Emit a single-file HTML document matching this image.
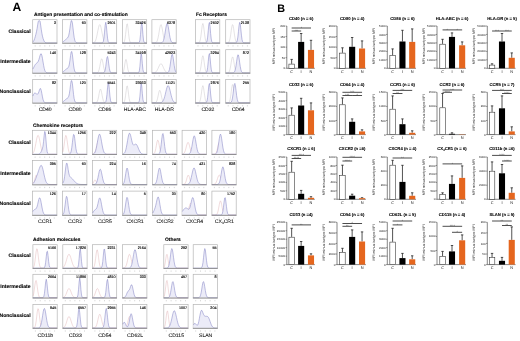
<!DOCTYPE html>
<html><head><meta charset="utf-8"><style>
html,body{margin:0;padding:0;background:#fff;}
svg{display:block;will-change:transform;filter:blur(0.35px);}
text{font-family:"Liberation Sans", sans-serif;text-rendering:geometricPrecision;}
</style></head><body>
<svg width="520" height="341" viewBox="0 0 520 341">
<rect width="520" height="341" fill="#fff"/>
<text x="12.6" y="11.25" font-size="12.1" font-weight="bold" fill="#000">A</text>
<text x="34.00" y="16.00" font-size="4.9" font-weight="bold" fill="#000" stroke="#000" stroke-width="0.1">Antigen presentation and co-stimulation</text>
<text x="196.00" y="16.00" font-size="4.9" font-weight="bold" fill="#000" stroke="#000" stroke-width="0.1">Fc Receptors</text>
<text x="30.6" y="32.80" font-size="5.1" font-weight="bold" text-anchor="end" fill="#000" stroke="#000" stroke-width="0.12">Classical</text>
<text x="30.6" y="63.25" font-size="5.1" font-weight="bold" text-anchor="end" fill="#000" stroke="#000" stroke-width="0.12">Intermediate</text>
<text x="30.6" y="93.00" font-size="5.1" font-weight="bold" text-anchor="end" fill="#000" stroke="#000" stroke-width="0.12">Nonclassical</text>
<text x="45.15" y="111.40" font-size="5.1" text-anchor="middle" fill="#111" stroke="#111" stroke-width="0.08">CD40</text>
<text x="75.05" y="111.40" font-size="5.1" text-anchor="middle" fill="#111" stroke="#111" stroke-width="0.08">CD80</text>
<text x="104.85" y="111.40" font-size="5.1" text-anchor="middle" fill="#111" stroke="#111" stroke-width="0.08">CD86</text>
<text x="134.85" y="111.40" font-size="5.1" text-anchor="middle" fill="#111" stroke="#111" stroke-width="0.08">HLA-ABC</text>
<text x="164.35" y="111.40" font-size="5.1" text-anchor="middle" fill="#111" stroke="#111" stroke-width="0.08">HLA-DR</text>
<text x="207.95" y="111.40" font-size="5.1" text-anchor="middle" fill="#111" stroke="#111" stroke-width="0.08">CD32</text>
<text x="238.15" y="111.40" font-size="5.1" text-anchor="middle" fill="#111" stroke="#111" stroke-width="0.08">CD64</text>
<rect x="32.70" y="19.70" width="24.30" height="23.50" fill="#fff" stroke="#b4b4b4" stroke-width="0.7"/>
<path d="M32.90,42.07 L33.50,41.30 L34.10,40.12 L34.69,38.52 L35.29,36.57 L35.89,34.31 L36.49,31.69 L37.08,28.53 L37.68,24.87 L38.28,21.28 L38.88,20.69 L39.47,20.69 L40.07,21.11 L40.67,25.08 L41.27,29.41 L41.86,33.18 L42.46,36.13 L43.06,38.40 L43.66,40.12 L44.25,41.36 L44.85,42.15 L45.45,42.58 L46.05,42.79 L46.64,42.86 L47.24,42.89 L47.84,42.90 L48.44,42.90 L49.03,42.90 L49.63,42.90 L50.23,42.90 L50.83,42.90 L51.42,42.90 L52.02,42.90 L52.62,42.90 L53.22,42.90 L53.81,42.90 L54.41,42.90 L55.01,42.90 L55.61,42.90 L56.20,42.90 L56.80,42.90 L56.80,42.90 L32.90,42.90 Z" fill="#ececf8" stroke="none"/>
<path d="M32.90,42.07 L33.50,41.30 L34.10,40.12 L34.69,38.52 L35.29,36.57 L35.89,34.31 L36.49,31.69 L37.08,28.53 L37.68,24.87 L38.28,21.28 L38.88,20.69 L39.47,20.69 L40.07,21.11 L40.67,25.08 L41.27,29.41 L41.86,33.18 L42.46,36.13 L43.06,38.40 L43.66,40.12 L44.25,41.36 L44.85,42.15 L45.45,42.58 L46.05,42.79 L46.64,42.86 L47.24,42.89 L47.84,42.90 L48.44,42.90 L49.03,42.90 L49.63,42.90 L50.23,42.90 L50.83,42.90 L51.42,42.90 L52.02,42.90 L52.62,42.90 L53.22,42.90 L53.81,42.90 L54.41,42.90 L55.01,42.90 L55.61,42.90 L56.20,42.90 L56.80,42.90" fill="none" stroke="#7c7cc0" stroke-width="0.5"/>
<line x1="32.40" y1="43.20" x2="57.30" y2="43.20" stroke="#888" stroke-width="0.8"/>
<line x1="35.20" y1="45.30" x2="35.20" y2="46.50" stroke="#bbb" stroke-width="0.6"/>
<line x1="40.00" y1="45.30" x2="40.00" y2="46.50" stroke="#bbb" stroke-width="0.6"/>
<line x1="44.80" y1="45.30" x2="44.80" y2="46.50" stroke="#bbb" stroke-width="0.6"/>
<line x1="49.60" y1="45.30" x2="49.60" y2="46.50" stroke="#bbb" stroke-width="0.6"/>
<line x1="54.40" y1="45.30" x2="54.40" y2="46.50" stroke="#bbb" stroke-width="0.6"/>
<text x="56.00" y="23.60" font-size="3.7" text-anchor="end" fill="#000" stroke="#000" stroke-width="0.12">3</text>
<rect x="62.60" y="19.70" width="24.30" height="23.50" fill="#fff" stroke="#b4b4b4" stroke-width="0.7"/>
<path d="M62.80,41.93 L63.40,41.54 L64.00,41.08 L64.59,40.56 L65.19,40.01 L65.79,39.46 L66.39,38.94 L66.98,38.45 L67.58,37.87 L68.18,36.93 L68.78,35.19 L69.37,32.25 L69.97,28.16 L70.57,23.78 L71.17,20.69 L71.76,20.69 L72.36,22.91 L72.96,27.71 L73.56,32.97 L74.15,37.30 L74.75,40.16 L75.35,41.71 L75.95,42.43 L76.54,42.72 L77.14,42.83 L77.74,42.87 L78.34,42.89 L78.93,42.89 L79.53,42.90 L80.13,42.90 L80.73,42.90 L81.32,42.90 L81.92,42.90 L82.52,42.90 L83.12,42.90 L83.71,42.90 L84.31,42.90 L84.91,42.90 L85.51,42.90 L86.10,42.90 L86.70,42.90 L86.70,42.90 L62.80,42.90 Z" fill="#ececf8" stroke="none"/>
<path d="M62.80,41.93 L63.40,41.54 L64.00,41.08 L64.59,40.56 L65.19,40.01 L65.79,39.46 L66.39,38.94 L66.98,38.45 L67.58,37.87 L68.18,36.93 L68.78,35.19 L69.37,32.25 L69.97,28.16 L70.57,23.78 L71.17,20.69 L71.76,20.69 L72.36,22.91 L72.96,27.71 L73.56,32.97 L74.15,37.30 L74.75,40.16 L75.35,41.71 L75.95,42.43 L76.54,42.72 L77.14,42.83 L77.74,42.87 L78.34,42.89 L78.93,42.89 L79.53,42.90 L80.13,42.90 L80.73,42.90 L81.32,42.90 L81.92,42.90 L82.52,42.90 L83.12,42.90 L83.71,42.90 L84.31,42.90 L84.91,42.90 L85.51,42.90 L86.10,42.90 L86.70,42.90" fill="none" stroke="#7c7cc0" stroke-width="0.5"/>
<line x1="62.30" y1="43.20" x2="87.20" y2="43.20" stroke="#888" stroke-width="0.8"/>
<line x1="65.10" y1="45.30" x2="65.10" y2="46.50" stroke="#bbb" stroke-width="0.6"/>
<line x1="69.90" y1="45.30" x2="69.90" y2="46.50" stroke="#bbb" stroke-width="0.6"/>
<line x1="74.70" y1="45.30" x2="74.70" y2="46.50" stroke="#bbb" stroke-width="0.6"/>
<line x1="79.50" y1="45.30" x2="79.50" y2="46.50" stroke="#bbb" stroke-width="0.6"/>
<line x1="84.30" y1="45.30" x2="84.30" y2="46.50" stroke="#bbb" stroke-width="0.6"/>
<text x="85.90" y="23.60" font-size="3.7" text-anchor="end" fill="#000" stroke="#000" stroke-width="0.12">60</text>
<rect x="92.40" y="19.70" width="24.30" height="23.50" fill="#fff" stroke="#b4b4b4" stroke-width="0.7"/>
<path d="M92.60,42.85 L93.20,42.77 L93.80,42.59 L94.39,42.23 L94.99,41.56 L95.59,40.42 L96.19,38.69 L96.78,36.30 L97.38,33.37 L97.98,30.21 L98.58,27.34 L99.17,25.31 L99.77,24.58 L100.37,25.31 L100.97,27.34 L101.56,30.21 L102.16,33.37 L102.76,36.30 L103.36,38.69 L103.95,40.42 L104.55,41.56 L105.15,42.23 L105.75,42.59 L106.34,42.77 L106.94,42.85 L107.54,42.88 L108.14,42.89 L108.73,42.90 L109.33,42.90 L109.93,42.90 L110.53,42.90 L111.12,42.90 L111.72,42.90 L112.32,42.90 L112.92,42.90 L113.51,42.90 L114.11,42.90 L114.71,42.90 L115.31,42.90 L115.90,42.90 L116.50,42.90" fill="none" stroke="#c4c0c4" stroke-width="0.45"/>
<path d="M92.60,42.90 L93.20,42.90 L93.80,42.90 L94.39,42.90 L94.99,42.90 L95.59,42.90 L96.19,42.90 L96.78,42.90 L97.38,42.90 L97.98,42.90 L98.58,42.90 L99.17,42.90 L99.77,42.90 L100.37,42.90 L100.97,42.90 L101.56,42.89 L102.16,42.84 L102.76,42.55 L103.36,41.39 L103.95,38.16 L104.55,32.17 L105.15,25.39 L105.75,22.29 L106.34,25.39 L106.94,32.17 L107.54,38.16 L108.14,41.39 L108.73,42.55 L109.33,42.84 L109.93,42.89 L110.53,42.90 L111.12,42.90 L111.72,42.90 L112.32,42.90 L112.92,42.90 L113.51,42.90 L114.11,42.90 L114.71,42.90 L115.31,42.90 L115.90,42.90 L116.50,42.90 L116.50,42.90 L92.60,42.90 Z" fill="#ececf8" stroke="none"/>
<path d="M92.60,42.90 L93.20,42.90 L93.80,42.90 L94.39,42.90 L94.99,42.90 L95.59,42.90 L96.19,42.90 L96.78,42.90 L97.38,42.90 L97.98,42.90 L98.58,42.90 L99.17,42.90 L99.77,42.90 L100.37,42.90 L100.97,42.90 L101.56,42.89 L102.16,42.84 L102.76,42.55 L103.36,41.39 L103.95,38.16 L104.55,32.17 L105.15,25.39 L105.75,22.29 L106.34,25.39 L106.94,32.17 L107.54,38.16 L108.14,41.39 L108.73,42.55 L109.33,42.84 L109.93,42.89 L110.53,42.90 L111.12,42.90 L111.72,42.90 L112.32,42.90 L112.92,42.90 L113.51,42.90 L114.11,42.90 L114.71,42.90 L115.31,42.90 L115.90,42.90 L116.50,42.90" fill="none" stroke="#7c7cc0" stroke-width="0.5"/>
<line x1="92.10" y1="43.20" x2="117.00" y2="43.20" stroke="#888" stroke-width="0.8"/>
<line x1="94.90" y1="45.30" x2="94.90" y2="46.50" stroke="#bbb" stroke-width="0.6"/>
<line x1="99.70" y1="45.30" x2="99.70" y2="46.50" stroke="#bbb" stroke-width="0.6"/>
<line x1="104.50" y1="45.30" x2="104.50" y2="46.50" stroke="#bbb" stroke-width="0.6"/>
<line x1="109.30" y1="45.30" x2="109.30" y2="46.50" stroke="#bbb" stroke-width="0.6"/>
<line x1="114.10" y1="45.30" x2="114.10" y2="46.50" stroke="#bbb" stroke-width="0.6"/>
<text x="115.70" y="23.60" font-size="3.7" text-anchor="end" fill="#000" stroke="#000" stroke-width="0.12">2601</text>
<rect x="122.40" y="19.70" width="24.30" height="23.50" fill="#fff" stroke="#b4b4b4" stroke-width="0.7"/>
<path d="M122.60,42.89 L123.20,42.82 L123.80,42.51 L124.39,41.52 L124.99,39.05 L125.59,34.54 L126.19,28.77 L126.78,24.29 L127.38,23.82 L127.98,27.66 L128.58,33.43 L129.17,38.31 L129.77,41.17 L130.37,42.39 L130.97,42.78 L131.56,42.88 L132.16,42.90 L132.76,42.90 L133.36,42.90 L133.95,42.90 L134.55,42.90 L135.15,42.90 L135.75,42.90 L136.34,42.90 L136.94,42.90 L137.54,42.90 L138.14,42.90 L138.73,42.90 L139.33,42.90 L139.93,42.90 L140.53,42.90 L141.12,42.90 L141.72,42.90 L142.32,42.90 L142.92,42.90 L143.51,42.90 L144.11,42.90 L144.71,42.90 L145.31,42.90 L145.90,42.90 L146.50,42.90" fill="none" stroke="#c4c0c4" stroke-width="0.45"/>
<path d="M122.60,42.90 L123.20,42.90 L123.80,42.90 L124.39,42.90 L124.99,42.90 L125.59,42.90 L126.19,42.90 L126.78,42.90 L127.38,42.90 L127.98,42.90 L128.58,42.90 L129.17,42.90 L129.77,42.90 L130.37,42.90 L130.97,42.90 L131.56,42.90 L132.16,42.90 L132.76,42.90 L133.36,42.90 L133.95,42.90 L134.55,42.90 L135.15,42.90 L135.75,42.90 L136.34,42.90 L136.94,42.90 L137.54,42.90 L138.14,42.89 L138.73,42.82 L139.33,42.31 L139.93,40.11 L140.53,34.43 L141.12,26.40 L141.72,22.29 L142.32,26.40 L142.92,34.43 L143.51,40.11 L144.11,42.31 L144.71,42.82 L145.31,42.89 L145.90,42.90 L146.50,42.90 L146.50,42.90 L122.60,42.90 Z" fill="#ececf8" stroke="none"/>
<path d="M122.60,42.90 L123.20,42.90 L123.80,42.90 L124.39,42.90 L124.99,42.90 L125.59,42.90 L126.19,42.90 L126.78,42.90 L127.38,42.90 L127.98,42.90 L128.58,42.90 L129.17,42.90 L129.77,42.90 L130.37,42.90 L130.97,42.90 L131.56,42.90 L132.16,42.90 L132.76,42.90 L133.36,42.90 L133.95,42.90 L134.55,42.90 L135.15,42.90 L135.75,42.90 L136.34,42.90 L136.94,42.90 L137.54,42.90 L138.14,42.89 L138.73,42.82 L139.33,42.31 L139.93,40.11 L140.53,34.43 L141.12,26.40 L141.72,22.29 L142.32,26.40 L142.92,34.43 L143.51,40.11 L144.11,42.31 L144.71,42.82 L145.31,42.89 L145.90,42.90 L146.50,42.90" fill="none" stroke="#7c7cc0" stroke-width="0.5"/>
<line x1="122.10" y1="43.20" x2="147.00" y2="43.20" stroke="#888" stroke-width="0.8"/>
<line x1="124.90" y1="45.30" x2="124.90" y2="46.50" stroke="#bbb" stroke-width="0.6"/>
<line x1="129.70" y1="45.30" x2="129.70" y2="46.50" stroke="#bbb" stroke-width="0.6"/>
<line x1="134.50" y1="45.30" x2="134.50" y2="46.50" stroke="#bbb" stroke-width="0.6"/>
<line x1="139.30" y1="45.30" x2="139.30" y2="46.50" stroke="#bbb" stroke-width="0.6"/>
<line x1="144.10" y1="45.30" x2="144.10" y2="46.50" stroke="#bbb" stroke-width="0.6"/>
<text x="145.70" y="23.60" font-size="3.7" text-anchor="end" fill="#000" stroke="#000" stroke-width="0.12">32426</text>
<rect x="151.90" y="19.70" width="24.30" height="23.50" fill="#fff" stroke="#b4b4b4" stroke-width="0.7"/>
<path d="M152.10,42.90 L152.70,42.90 L153.29,42.90 L153.89,42.89 L154.49,42.87 L155.09,42.81 L155.69,42.65 L156.28,42.28 L156.88,41.50 L157.48,40.07 L158.07,37.81 L158.67,34.69 L159.27,31.05 L159.87,27.60 L160.47,25.22 L161.06,24.62 L161.66,25.99 L162.26,28.90 L162.85,32.53 L163.45,36.02 L164.05,38.82 L164.65,40.73 L165.25,41.87 L165.84,42.46 L166.44,42.73 L167.04,42.84 L167.63,42.88 L168.23,42.90 L168.83,42.90 L169.43,42.90 L170.03,42.90 L170.62,42.90 L171.22,42.90 L171.82,42.90 L172.41,42.90 L173.01,42.90 L173.61,42.90 L174.21,42.90 L174.81,42.90 L175.40,42.90 L176.00,42.90" fill="none" stroke="#c4c0c4" stroke-width="0.45"/>
<path d="M152.10,42.90 L152.70,42.90 L153.29,42.90 L153.89,42.90 L154.49,42.90 L155.09,42.90 L155.69,42.90 L156.28,42.90 L156.88,42.90 L157.48,42.90 L158.07,42.90 L158.67,42.90 L159.27,42.90 L159.87,42.90 L160.47,42.88 L161.06,42.84 L161.66,42.72 L162.26,42.44 L162.85,41.81 L163.45,40.60 L164.05,38.57 L164.65,35.59 L165.25,31.88 L165.84,28.02 L166.44,24.93 L167.04,23.48 L167.63,24.11 L168.23,26.64 L168.83,30.31 L169.43,34.17 L170.03,37.49 L170.62,39.90 L171.22,41.41 L171.82,42.24 L172.41,42.64 L173.01,42.81 L173.61,42.87 L174.21,42.89 L174.81,42.90 L175.40,42.90 L176.00,42.90 L176.00,42.90 L152.10,42.90 Z" fill="#ececf8" stroke="none"/>
<path d="M152.10,42.90 L152.70,42.90 L153.29,42.90 L153.89,42.90 L154.49,42.90 L155.09,42.90 L155.69,42.90 L156.28,42.90 L156.88,42.90 L157.48,42.90 L158.07,42.90 L158.67,42.90 L159.27,42.90 L159.87,42.90 L160.47,42.88 L161.06,42.84 L161.66,42.72 L162.26,42.44 L162.85,41.81 L163.45,40.60 L164.05,38.57 L164.65,35.59 L165.25,31.88 L165.84,28.02 L166.44,24.93 L167.04,23.48 L167.63,24.11 L168.23,26.64 L168.83,30.31 L169.43,34.17 L170.03,37.49 L170.62,39.90 L171.22,41.41 L171.82,42.24 L172.41,42.64 L173.01,42.81 L173.61,42.87 L174.21,42.89 L174.81,42.90 L175.40,42.90 L176.00,42.90" fill="none" stroke="#7c7cc0" stroke-width="0.5"/>
<line x1="151.60" y1="43.20" x2="176.50" y2="43.20" stroke="#888" stroke-width="0.8"/>
<line x1="154.40" y1="45.30" x2="154.40" y2="46.50" stroke="#bbb" stroke-width="0.6"/>
<line x1="159.20" y1="45.30" x2="159.20" y2="46.50" stroke="#bbb" stroke-width="0.6"/>
<line x1="164.00" y1="45.30" x2="164.00" y2="46.50" stroke="#bbb" stroke-width="0.6"/>
<line x1="168.80" y1="45.30" x2="168.80" y2="46.50" stroke="#bbb" stroke-width="0.6"/>
<line x1="173.60" y1="45.30" x2="173.60" y2="46.50" stroke="#bbb" stroke-width="0.6"/>
<text x="175.20" y="23.60" font-size="3.7" text-anchor="end" fill="#000" stroke="#000" stroke-width="0.12">6378</text>
<rect x="195.50" y="19.70" width="24.30" height="23.50" fill="#fff" stroke="#b4b4b4" stroke-width="0.7"/>
<path d="M195.70,42.90 L196.30,42.90 L196.89,42.90 L197.49,42.89 L198.09,42.86 L198.69,42.75 L199.28,42.34 L199.88,41.25 L200.48,38.89 L201.08,34.90 L201.67,29.79 L202.27,25.27 L202.87,23.44 L203.47,25.27 L204.06,29.79 L204.66,34.90 L205.26,38.89 L205.86,41.25 L206.45,42.34 L207.05,42.75 L207.65,42.86 L208.25,42.89 L208.84,42.90 L209.44,42.90 L210.04,42.90 L210.64,42.90 L211.23,42.90 L211.83,42.90 L212.43,42.90 L213.03,42.90 L213.62,42.90 L214.22,42.90 L214.82,42.90 L215.42,42.90 L216.01,42.90 L216.61,42.90 L217.21,42.90 L217.81,42.90 L218.41,42.90 L219.00,42.90 L219.60,42.90" fill="none" stroke="#c4c0c4" stroke-width="0.45"/>
<path d="M195.70,42.90 L196.30,42.90 L196.89,42.90 L197.49,42.90 L198.09,42.90 L198.69,42.90 L199.28,42.90 L199.88,42.90 L200.48,42.90 L201.08,42.90 L201.67,42.90 L202.27,42.90 L202.87,42.90 L203.47,42.90 L204.06,42.90 L204.66,42.90 L205.26,42.89 L205.86,42.82 L206.45,42.42 L207.05,40.95 L207.65,37.17 L208.25,30.76 L208.84,24.33 L209.44,22.42 L210.04,26.61 L210.64,33.55 L211.23,39.03 L211.83,41.74 L212.43,42.65 L213.03,42.86 L213.62,42.90 L214.22,42.90 L214.82,42.90 L215.42,42.90 L216.01,42.90 L216.61,42.90 L217.21,42.90 L217.81,42.90 L218.41,42.90 L219.00,42.90 L219.60,42.90 L219.60,42.90 L195.70,42.90 Z" fill="#ececf8" stroke="none"/>
<path d="M195.70,42.90 L196.30,42.90 L196.89,42.90 L197.49,42.90 L198.09,42.90 L198.69,42.90 L199.28,42.90 L199.88,42.90 L200.48,42.90 L201.08,42.90 L201.67,42.90 L202.27,42.90 L202.87,42.90 L203.47,42.90 L204.06,42.90 L204.66,42.90 L205.26,42.89 L205.86,42.82 L206.45,42.42 L207.05,40.95 L207.65,37.17 L208.25,30.76 L208.84,24.33 L209.44,22.42 L210.04,26.61 L210.64,33.55 L211.23,39.03 L211.83,41.74 L212.43,42.65 L213.03,42.86 L213.62,42.90 L214.22,42.90 L214.82,42.90 L215.42,42.90 L216.01,42.90 L216.61,42.90 L217.21,42.90 L217.81,42.90 L218.41,42.90 L219.00,42.90 L219.60,42.90" fill="none" stroke="#7c7cc0" stroke-width="0.5"/>
<line x1="195.20" y1="43.20" x2="220.10" y2="43.20" stroke="#888" stroke-width="0.8"/>
<line x1="198.00" y1="45.30" x2="198.00" y2="46.50" stroke="#bbb" stroke-width="0.6"/>
<line x1="202.80" y1="45.30" x2="202.80" y2="46.50" stroke="#bbb" stroke-width="0.6"/>
<line x1="207.60" y1="45.30" x2="207.60" y2="46.50" stroke="#bbb" stroke-width="0.6"/>
<line x1="212.40" y1="45.30" x2="212.40" y2="46.50" stroke="#bbb" stroke-width="0.6"/>
<line x1="217.20" y1="45.30" x2="217.20" y2="46.50" stroke="#bbb" stroke-width="0.6"/>
<text x="218.80" y="23.60" font-size="3.7" text-anchor="end" fill="#000" stroke="#000" stroke-width="0.12">2602</text>
<rect x="225.70" y="19.70" width="24.30" height="23.50" fill="#fff" stroke="#b4b4b4" stroke-width="0.7"/>
<path d="M225.90,42.90 L226.50,42.90 L227.09,42.88 L227.69,42.82 L228.29,42.61 L228.89,42.05 L229.48,40.79 L230.08,38.43 L230.68,34.82 L231.28,30.46 L231.87,26.57 L232.47,24.64 L233.07,25.49 L233.67,28.76 L234.26,33.12 L234.86,37.13 L235.46,40.00 L236.06,41.66 L236.65,42.45 L237.25,42.76 L237.85,42.86 L238.45,42.89 L239.04,42.90 L239.64,42.90 L240.24,42.90 L240.84,42.90 L241.43,42.90 L242.03,42.90 L242.63,42.90 L243.23,42.90 L243.82,42.90 L244.42,42.90 L245.02,42.90 L245.62,42.90 L246.21,42.90 L246.81,42.90 L247.41,42.90 L248.01,42.90 L248.60,42.90 L249.20,42.90 L249.80,42.90" fill="none" stroke="#c4c0c4" stroke-width="0.45"/>
<path d="M225.90,42.90 L226.50,42.90 L227.09,42.90 L227.69,42.90 L228.29,42.90 L228.89,42.90 L229.48,42.90 L230.08,42.90 L230.68,42.90 L231.28,42.90 L231.87,42.90 L232.47,42.90 L233.07,42.90 L233.67,42.90 L234.26,42.90 L234.86,42.90 L235.46,42.87 L236.06,42.73 L236.65,42.20 L237.25,40.63 L237.85,37.17 L238.45,31.65 L239.04,25.69 L239.64,22.39 L240.24,23.87 L240.84,29.15 L241.43,35.16 L242.03,39.51 L242.63,41.74 L243.23,42.59 L243.82,42.84 L244.42,42.89 L245.02,42.90 L245.62,42.90 L246.21,42.90 L246.81,42.90 L247.41,42.90 L248.01,42.90 L248.60,42.90 L249.20,42.90 L249.80,42.90 L249.80,42.90 L225.90,42.90 Z" fill="#ececf8" stroke="none"/>
<path d="M225.90,42.90 L226.50,42.90 L227.09,42.90 L227.69,42.90 L228.29,42.90 L228.89,42.90 L229.48,42.90 L230.08,42.90 L230.68,42.90 L231.28,42.90 L231.87,42.90 L232.47,42.90 L233.07,42.90 L233.67,42.90 L234.26,42.90 L234.86,42.90 L235.46,42.87 L236.06,42.73 L236.65,42.20 L237.25,40.63 L237.85,37.17 L238.45,31.65 L239.04,25.69 L239.64,22.39 L240.24,23.87 L240.84,29.15 L241.43,35.16 L242.03,39.51 L242.63,41.74 L243.23,42.59 L243.82,42.84 L244.42,42.89 L245.02,42.90 L245.62,42.90 L246.21,42.90 L246.81,42.90 L247.41,42.90 L248.01,42.90 L248.60,42.90 L249.20,42.90 L249.80,42.90" fill="none" stroke="#7c7cc0" stroke-width="0.5"/>
<line x1="225.40" y1="43.20" x2="250.30" y2="43.20" stroke="#888" stroke-width="0.8"/>
<line x1="228.20" y1="45.30" x2="228.20" y2="46.50" stroke="#bbb" stroke-width="0.6"/>
<line x1="233.00" y1="45.30" x2="233.00" y2="46.50" stroke="#bbb" stroke-width="0.6"/>
<line x1="237.80" y1="45.30" x2="237.80" y2="46.50" stroke="#bbb" stroke-width="0.6"/>
<line x1="242.60" y1="45.30" x2="242.60" y2="46.50" stroke="#bbb" stroke-width="0.6"/>
<line x1="247.40" y1="45.30" x2="247.40" y2="46.50" stroke="#bbb" stroke-width="0.6"/>
<text x="249.00" y="23.60" font-size="3.7" text-anchor="end" fill="#000" stroke="#000" stroke-width="0.12">2138</text>
<rect x="32.70" y="49.70" width="24.30" height="23.50" fill="#fff" stroke="#b4b4b4" stroke-width="0.7"/>
<path d="M32.90,69.13 L33.50,67.96 L34.10,66.72 L34.69,65.54 L35.29,64.54 L35.89,63.77 L36.49,63.25 L37.08,62.83 L37.68,62.28 L38.28,61.28 L38.88,59.67 L39.47,57.54 L40.07,55.38 L40.67,53.92 L41.27,53.84 L41.86,55.41 L42.46,58.37 L43.06,62.02 L43.66,65.58 L44.25,68.48 L44.85,70.50 L45.45,71.74 L46.05,72.39 L46.64,72.70 L47.24,72.83 L47.84,72.88 L48.44,72.89 L49.03,72.90 L49.63,72.90 L50.23,72.90 L50.83,72.90 L51.42,72.90 L52.02,72.90 L52.62,72.90 L53.22,72.90 L53.81,72.90 L54.41,72.90 L55.01,72.90 L55.61,72.90 L56.20,72.90 L56.80,72.90 L56.80,72.90 L32.90,72.90 Z" fill="#ececf8" stroke="none"/>
<path d="M32.90,69.13 L33.50,67.96 L34.10,66.72 L34.69,65.54 L35.29,64.54 L35.89,63.77 L36.49,63.25 L37.08,62.83 L37.68,62.28 L38.28,61.28 L38.88,59.67 L39.47,57.54 L40.07,55.38 L40.67,53.92 L41.27,53.84 L41.86,55.41 L42.46,58.37 L43.06,62.02 L43.66,65.58 L44.25,68.48 L44.85,70.50 L45.45,71.74 L46.05,72.39 L46.64,72.70 L47.24,72.83 L47.84,72.88 L48.44,72.89 L49.03,72.90 L49.63,72.90 L50.23,72.90 L50.83,72.90 L51.42,72.90 L52.02,72.90 L52.62,72.90 L53.22,72.90 L53.81,72.90 L54.41,72.90 L55.01,72.90 L55.61,72.90 L56.20,72.90 L56.80,72.90" fill="none" stroke="#7c7cc0" stroke-width="0.5"/>
<line x1="32.40" y1="73.20" x2="57.30" y2="73.20" stroke="#888" stroke-width="0.8"/>
<line x1="35.20" y1="75.30" x2="35.20" y2="76.50" stroke="#bbb" stroke-width="0.6"/>
<line x1="40.00" y1="75.30" x2="40.00" y2="76.50" stroke="#bbb" stroke-width="0.6"/>
<line x1="44.80" y1="75.30" x2="44.80" y2="76.50" stroke="#bbb" stroke-width="0.6"/>
<line x1="49.60" y1="75.30" x2="49.60" y2="76.50" stroke="#bbb" stroke-width="0.6"/>
<line x1="54.40" y1="75.30" x2="54.40" y2="76.50" stroke="#bbb" stroke-width="0.6"/>
<text x="56.00" y="53.60" font-size="3.7" text-anchor="end" fill="#000" stroke="#000" stroke-width="0.12">146</text>
<rect x="62.60" y="49.70" width="24.30" height="23.50" fill="#fff" stroke="#b4b4b4" stroke-width="0.7"/>
<path d="M62.80,71.93 L63.40,71.54 L64.00,71.08 L64.59,70.56 L65.19,70.01 L65.79,69.47 L66.39,68.98 L66.98,68.56 L67.58,68.18 L68.18,67.62 L68.78,66.45 L69.37,64.07 L69.97,60.19 L70.57,55.55 L71.17,51.96 L71.76,51.39 L72.36,54.39 L72.96,59.64 L73.56,64.98 L74.15,68.92 L74.75,71.18 L75.35,72.23 L75.95,72.64 L76.54,72.79 L77.14,72.85 L77.74,72.88 L78.34,72.89 L78.93,72.89 L79.53,72.90 L80.13,72.90 L80.73,72.90 L81.32,72.90 L81.92,72.90 L82.52,72.90 L83.12,72.90 L83.71,72.90 L84.31,72.90 L84.91,72.90 L85.51,72.90 L86.10,72.90 L86.70,72.90 L86.70,72.90 L62.80,72.90 Z" fill="#ececf8" stroke="none"/>
<path d="M62.80,71.93 L63.40,71.54 L64.00,71.08 L64.59,70.56 L65.19,70.01 L65.79,69.47 L66.39,68.98 L66.98,68.56 L67.58,68.18 L68.18,67.62 L68.78,66.45 L69.37,64.07 L69.97,60.19 L70.57,55.55 L71.17,51.96 L71.76,51.39 L72.36,54.39 L72.96,59.64 L73.56,64.98 L74.15,68.92 L74.75,71.18 L75.35,72.23 L75.95,72.64 L76.54,72.79 L77.14,72.85 L77.74,72.88 L78.34,72.89 L78.93,72.89 L79.53,72.90 L80.13,72.90 L80.73,72.90 L81.32,72.90 L81.92,72.90 L82.52,72.90 L83.12,72.90 L83.71,72.90 L84.31,72.90 L84.91,72.90 L85.51,72.90 L86.10,72.90 L86.70,72.90" fill="none" stroke="#7c7cc0" stroke-width="0.5"/>
<line x1="62.30" y1="73.20" x2="87.20" y2="73.20" stroke="#888" stroke-width="0.8"/>
<line x1="65.10" y1="75.30" x2="65.10" y2="76.50" stroke="#bbb" stroke-width="0.6"/>
<line x1="69.90" y1="75.30" x2="69.90" y2="76.50" stroke="#bbb" stroke-width="0.6"/>
<line x1="74.70" y1="75.30" x2="74.70" y2="76.50" stroke="#bbb" stroke-width="0.6"/>
<line x1="79.50" y1="75.30" x2="79.50" y2="76.50" stroke="#bbb" stroke-width="0.6"/>
<line x1="84.30" y1="75.30" x2="84.30" y2="76.50" stroke="#bbb" stroke-width="0.6"/>
<text x="85.90" y="53.60" font-size="3.7" text-anchor="end" fill="#000" stroke="#000" stroke-width="0.12">128</text>
<rect x="92.40" y="49.70" width="24.30" height="23.50" fill="#fff" stroke="#b4b4b4" stroke-width="0.7"/>
<path d="M92.60,72.90 L93.20,72.90 L93.80,72.90 L94.39,72.90 L94.99,72.90 L95.59,72.90 L96.19,72.88 L96.78,72.83 L97.38,72.68 L97.98,72.24 L98.58,71.27 L99.17,69.44 L99.77,66.64 L100.37,63.26 L100.97,60.25 L101.56,58.75 L102.16,59.41 L102.76,61.94 L103.36,65.32 L103.95,68.43 L104.55,70.65 L105.15,71.94 L105.75,72.55 L106.34,72.79 L106.94,72.87 L107.54,72.89 L108.14,72.90 L108.73,72.90 L109.33,72.90 L109.93,72.90 L110.53,72.90 L111.12,72.90 L111.72,72.90 L112.32,72.90 L112.92,72.90 L113.51,72.90 L114.11,72.90 L114.71,72.90 L115.31,72.90 L115.90,72.90 L116.50,72.90" fill="none" stroke="#c4c0c4" stroke-width="0.45"/>
<path d="M92.60,72.90 L93.20,72.90 L93.80,72.90 L94.39,72.90 L94.99,72.90 L95.59,72.90 L96.19,72.90 L96.78,72.90 L97.38,72.90 L97.98,72.90 L98.58,72.90 L99.17,72.90 L99.77,72.90 L100.37,72.90 L100.97,72.90 L101.56,72.90 L102.16,72.90 L102.76,72.89 L103.36,72.85 L103.95,72.65 L104.55,71.97 L105.15,70.19 L105.75,66.71 L106.34,61.90 L106.94,57.68 L107.54,56.49 L108.14,59.13 L108.73,63.90 L109.33,68.32 L109.93,71.08 L110.53,72.34 L111.12,72.76 L111.72,72.87 L112.32,72.90 L112.92,72.90 L113.51,72.90 L114.11,72.90 L114.71,72.90 L115.31,72.90 L115.90,72.90 L116.50,72.90 L116.50,72.90 L92.60,72.90 Z" fill="#ececf8" stroke="none"/>
<path d="M92.60,72.90 L93.20,72.90 L93.80,72.90 L94.39,72.90 L94.99,72.90 L95.59,72.90 L96.19,72.90 L96.78,72.90 L97.38,72.90 L97.98,72.90 L98.58,72.90 L99.17,72.90 L99.77,72.90 L100.37,72.90 L100.97,72.90 L101.56,72.90 L102.16,72.90 L102.76,72.89 L103.36,72.85 L103.95,72.65 L104.55,71.97 L105.15,70.19 L105.75,66.71 L106.34,61.90 L106.94,57.68 L107.54,56.49 L108.14,59.13 L108.73,63.90 L109.33,68.32 L109.93,71.08 L110.53,72.34 L111.12,72.76 L111.72,72.87 L112.32,72.90 L112.92,72.90 L113.51,72.90 L114.11,72.90 L114.71,72.90 L115.31,72.90 L115.90,72.90 L116.50,72.90" fill="none" stroke="#7c7cc0" stroke-width="0.5"/>
<line x1="92.10" y1="73.20" x2="117.00" y2="73.20" stroke="#888" stroke-width="0.8"/>
<line x1="94.90" y1="75.30" x2="94.90" y2="76.50" stroke="#bbb" stroke-width="0.6"/>
<line x1="99.70" y1="75.30" x2="99.70" y2="76.50" stroke="#bbb" stroke-width="0.6"/>
<line x1="104.50" y1="75.30" x2="104.50" y2="76.50" stroke="#bbb" stroke-width="0.6"/>
<line x1="109.30" y1="75.30" x2="109.30" y2="76.50" stroke="#bbb" stroke-width="0.6"/>
<line x1="114.10" y1="75.30" x2="114.10" y2="76.50" stroke="#bbb" stroke-width="0.6"/>
<text x="115.70" y="53.60" font-size="3.7" text-anchor="end" fill="#000" stroke="#000" stroke-width="0.12">5243</text>
<rect x="122.40" y="49.70" width="24.30" height="23.50" fill="#fff" stroke="#b4b4b4" stroke-width="0.7"/>
<path d="M122.60,72.63 L123.20,71.92 L123.80,70.18 L124.39,67.00 L124.99,62.92 L125.59,59.76 L126.19,59.43 L126.78,62.15 L127.38,66.21 L127.98,69.66 L128.58,71.68 L129.17,72.54 L129.77,72.82 L130.37,72.89 L130.97,72.90 L131.56,72.90 L132.16,72.90 L132.76,72.90 L133.36,72.90 L133.95,72.90 L134.55,72.90 L135.15,72.90 L135.75,72.90 L136.34,72.90 L136.94,72.90 L137.54,72.90 L138.14,72.90 L138.73,72.90 L139.33,72.90 L139.93,72.90 L140.53,72.90 L141.12,72.90 L141.72,72.90 L142.32,72.90 L142.92,72.90 L143.51,72.90 L144.11,72.90 L144.71,72.90 L145.31,72.90 L145.90,72.90 L146.50,72.90" fill="none" stroke="#c4c0c4" stroke-width="0.45"/>
<path d="M122.60,72.90 L123.20,72.90 L123.80,72.90 L124.39,72.90 L124.99,72.90 L125.59,72.90 L126.19,72.90 L126.78,72.90 L127.38,72.90 L127.98,72.90 L128.58,72.90 L129.17,72.90 L129.77,72.90 L130.37,72.90 L130.97,72.90 L131.56,72.90 L132.16,72.90 L132.76,72.90 L133.36,72.90 L133.95,72.90 L134.55,72.90 L135.15,72.90 L135.75,72.90 L136.34,72.90 L136.94,72.90 L137.54,72.90 L138.14,72.85 L138.73,72.51 L139.33,70.90 L139.93,66.26 L140.53,58.77 L141.12,53.61 L141.72,56.02 L142.32,63.43 L142.92,69.49 L143.51,72.11 L144.11,72.78 L144.71,72.89 L145.31,72.90 L145.90,72.90 L146.50,72.90 L146.50,72.90 L122.60,72.90 Z" fill="#ececf8" stroke="none"/>
<path d="M122.60,72.90 L123.20,72.90 L123.80,72.90 L124.39,72.90 L124.99,72.90 L125.59,72.90 L126.19,72.90 L126.78,72.90 L127.38,72.90 L127.98,72.90 L128.58,72.90 L129.17,72.90 L129.77,72.90 L130.37,72.90 L130.97,72.90 L131.56,72.90 L132.16,72.90 L132.76,72.90 L133.36,72.90 L133.95,72.90 L134.55,72.90 L135.15,72.90 L135.75,72.90 L136.34,72.90 L136.94,72.90 L137.54,72.90 L138.14,72.85 L138.73,72.51 L139.33,70.90 L139.93,66.26 L140.53,58.77 L141.12,53.61 L141.72,56.02 L142.32,63.43 L142.92,69.49 L143.51,72.11 L144.11,72.78 L144.71,72.89 L145.31,72.90 L145.90,72.90 L146.50,72.90" fill="none" stroke="#7c7cc0" stroke-width="0.5"/>
<line x1="122.10" y1="73.20" x2="147.00" y2="73.20" stroke="#888" stroke-width="0.8"/>
<line x1="124.90" y1="75.30" x2="124.90" y2="76.50" stroke="#bbb" stroke-width="0.6"/>
<line x1="129.70" y1="75.30" x2="129.70" y2="76.50" stroke="#bbb" stroke-width="0.6"/>
<line x1="134.50" y1="75.30" x2="134.50" y2="76.50" stroke="#bbb" stroke-width="0.6"/>
<line x1="139.30" y1="75.30" x2="139.30" y2="76.50" stroke="#bbb" stroke-width="0.6"/>
<line x1="144.10" y1="75.30" x2="144.10" y2="76.50" stroke="#bbb" stroke-width="0.6"/>
<text x="145.70" y="53.60" font-size="3.7" text-anchor="end" fill="#000" stroke="#000" stroke-width="0.12">34198</text>
<rect x="151.90" y="49.70" width="24.30" height="23.50" fill="#fff" stroke="#b4b4b4" stroke-width="0.7"/>
<path d="M152.10,72.89 L152.70,72.88 L153.29,72.85 L153.89,72.78 L154.49,72.66 L155.09,72.44 L155.69,72.09 L156.28,71.53 L156.88,70.74 L157.48,69.70 L158.07,68.44 L158.67,67.07 L159.27,65.73 L159.87,64.62 L160.47,63.92 L161.06,63.75 L161.66,64.14 L162.26,65.03 L162.85,66.25 L163.45,67.62 L164.05,68.97 L164.65,70.14 L165.25,71.09 L165.84,71.78 L166.44,72.25 L167.04,72.55 L167.63,72.72 L168.23,72.81 L168.83,72.86 L169.43,72.88 L170.03,72.89 L170.62,72.90 L171.22,72.90 L171.82,72.90 L172.41,72.90 L173.01,72.90 L173.61,72.90 L174.21,72.90 L174.81,72.90 L175.40,72.90 L176.00,72.90" fill="none" stroke="#c4c0c4" stroke-width="0.45"/>
<path d="M152.10,72.90 L152.70,72.90 L153.29,72.90 L153.89,72.90 L154.49,72.90 L155.09,72.90 L155.69,72.90 L156.28,72.90 L156.88,72.90 L157.48,72.90 L158.07,72.90 L158.67,72.90 L159.27,72.90 L159.87,72.90 L160.47,72.90 L161.06,72.90 L161.66,72.90 L162.26,72.90 L162.85,72.90 L163.45,72.90 L164.05,72.90 L164.65,72.90 L165.25,72.90 L165.84,72.90 L166.44,72.89 L167.04,72.85 L167.63,72.72 L168.23,72.32 L168.83,71.37 L169.43,69.44 L170.03,66.24 L170.62,61.97 L171.22,57.60 L171.82,54.66 L172.41,54.36 L173.01,56.85 L173.61,61.06 L174.21,65.45 L174.81,68.91 L175.40,71.08 L176.00,72.19 L176.00,72.90 L152.10,72.90 Z" fill="#ececf8" stroke="none"/>
<path d="M152.10,72.90 L152.70,72.90 L153.29,72.90 L153.89,72.90 L154.49,72.90 L155.09,72.90 L155.69,72.90 L156.28,72.90 L156.88,72.90 L157.48,72.90 L158.07,72.90 L158.67,72.90 L159.27,72.90 L159.87,72.90 L160.47,72.90 L161.06,72.90 L161.66,72.90 L162.26,72.90 L162.85,72.90 L163.45,72.90 L164.05,72.90 L164.65,72.90 L165.25,72.90 L165.84,72.90 L166.44,72.89 L167.04,72.85 L167.63,72.72 L168.23,72.32 L168.83,71.37 L169.43,69.44 L170.03,66.24 L170.62,61.97 L171.22,57.60 L171.82,54.66 L172.41,54.36 L173.01,56.85 L173.61,61.06 L174.21,65.45 L174.81,68.91 L175.40,71.08 L176.00,72.19" fill="none" stroke="#7c7cc0" stroke-width="0.5"/>
<line x1="151.60" y1="73.20" x2="176.50" y2="73.20" stroke="#888" stroke-width="0.8"/>
<line x1="154.40" y1="75.30" x2="154.40" y2="76.50" stroke="#bbb" stroke-width="0.6"/>
<line x1="159.20" y1="75.30" x2="159.20" y2="76.50" stroke="#bbb" stroke-width="0.6"/>
<line x1="164.00" y1="75.30" x2="164.00" y2="76.50" stroke="#bbb" stroke-width="0.6"/>
<line x1="168.80" y1="75.30" x2="168.80" y2="76.50" stroke="#bbb" stroke-width="0.6"/>
<line x1="173.60" y1="75.30" x2="173.60" y2="76.50" stroke="#bbb" stroke-width="0.6"/>
<text x="175.20" y="53.60" font-size="3.7" text-anchor="end" fill="#000" stroke="#000" stroke-width="0.12">42923</text>
<rect x="195.50" y="49.70" width="24.30" height="23.50" fill="#fff" stroke="#b4b4b4" stroke-width="0.7"/>
<path d="M195.70,72.90 L196.30,72.90 L196.89,72.90 L197.49,72.89 L198.09,72.87 L198.69,72.76 L199.28,72.41 L199.88,71.45 L200.48,69.36 L201.08,65.84 L201.67,61.33 L202.27,57.34 L202.87,55.73 L203.47,57.34 L204.06,61.33 L204.66,65.84 L205.26,69.36 L205.86,71.45 L206.45,72.41 L207.05,72.76 L207.65,72.87 L208.25,72.89 L208.84,72.90 L209.44,72.90 L210.04,72.90 L210.64,72.90 L211.23,72.90 L211.83,72.90 L212.43,72.90 L213.03,72.90 L213.62,72.90 L214.22,72.90 L214.82,72.90 L215.42,72.90 L216.01,72.90 L216.61,72.90 L217.21,72.90 L217.81,72.90 L218.41,72.90 L219.00,72.90 L219.60,72.90" fill="none" stroke="#c4c0c4" stroke-width="0.45"/>
<path d="M195.70,72.90 L196.30,72.90 L196.89,72.90 L197.49,72.90 L198.09,72.90 L198.69,72.90 L199.28,72.90 L199.88,72.90 L200.48,72.90 L201.08,72.90 L201.67,72.90 L202.27,72.90 L202.87,72.90 L203.47,72.90 L204.06,72.90 L204.66,72.90 L205.26,72.89 L205.86,72.82 L206.45,72.45 L207.05,71.06 L207.65,67.49 L208.25,61.43 L208.84,55.37 L209.44,53.56 L210.04,57.51 L210.64,64.07 L211.23,69.24 L211.83,71.81 L212.43,72.66 L213.03,72.86 L213.62,72.90 L214.22,72.90 L214.82,72.90 L215.42,72.90 L216.01,72.90 L216.61,72.90 L217.21,72.90 L217.81,72.90 L218.41,72.90 L219.00,72.90 L219.60,72.90 L219.60,72.90 L195.70,72.90 Z" fill="#ececf8" stroke="none"/>
<path d="M195.70,72.90 L196.30,72.90 L196.89,72.90 L197.49,72.90 L198.09,72.90 L198.69,72.90 L199.28,72.90 L199.88,72.90 L200.48,72.90 L201.08,72.90 L201.67,72.90 L202.27,72.90 L202.87,72.90 L203.47,72.90 L204.06,72.90 L204.66,72.90 L205.26,72.89 L205.86,72.82 L206.45,72.45 L207.05,71.06 L207.65,67.49 L208.25,61.43 L208.84,55.37 L209.44,53.56 L210.04,57.51 L210.64,64.07 L211.23,69.24 L211.83,71.81 L212.43,72.66 L213.03,72.86 L213.62,72.90 L214.22,72.90 L214.82,72.90 L215.42,72.90 L216.01,72.90 L216.61,72.90 L217.21,72.90 L217.81,72.90 L218.41,72.90 L219.00,72.90 L219.60,72.90" fill="none" stroke="#7c7cc0" stroke-width="0.5"/>
<line x1="195.20" y1="73.20" x2="220.10" y2="73.20" stroke="#888" stroke-width="0.8"/>
<line x1="198.00" y1="75.30" x2="198.00" y2="76.50" stroke="#bbb" stroke-width="0.6"/>
<line x1="202.80" y1="75.30" x2="202.80" y2="76.50" stroke="#bbb" stroke-width="0.6"/>
<line x1="207.60" y1="75.30" x2="207.60" y2="76.50" stroke="#bbb" stroke-width="0.6"/>
<line x1="212.40" y1="75.30" x2="212.40" y2="76.50" stroke="#bbb" stroke-width="0.6"/>
<line x1="217.20" y1="75.30" x2="217.20" y2="76.50" stroke="#bbb" stroke-width="0.6"/>
<text x="218.80" y="53.60" font-size="3.7" text-anchor="end" fill="#000" stroke="#000" stroke-width="0.12">3294</text>
<rect x="225.70" y="49.70" width="24.30" height="23.50" fill="#fff" stroke="#b4b4b4" stroke-width="0.7"/>
<path d="M225.90,72.90 L226.50,72.90 L227.09,72.88 L227.69,72.83 L228.29,72.65 L228.89,72.16 L229.48,71.06 L230.08,68.99 L230.68,65.83 L231.28,62.02 L231.87,58.61 L232.47,56.92 L233.07,57.67 L233.67,60.53 L234.26,64.34 L234.86,67.85 L235.46,70.36 L236.06,71.81 L236.65,72.50 L237.25,72.78 L237.85,72.87 L238.45,72.89 L239.04,72.90 L239.64,72.90 L240.24,72.90 L240.84,72.90 L241.43,72.90 L242.03,72.90 L242.63,72.90 L243.23,72.90 L243.82,72.90 L244.42,72.90 L245.02,72.90 L245.62,72.90 L246.21,72.90 L246.81,72.90 L247.41,72.90 L248.01,72.90 L248.60,72.90 L249.20,72.90 L249.80,72.90" fill="none" stroke="#c4c0c4" stroke-width="0.45"/>
<path d="M225.90,72.90 L226.50,72.90 L227.09,72.90 L227.69,72.90 L228.29,72.90 L228.89,72.90 L229.48,72.90 L230.08,72.90 L230.68,72.90 L231.28,72.90 L231.87,72.90 L232.47,72.88 L233.07,72.84 L233.67,72.67 L234.26,72.21 L234.86,71.12 L235.46,69.01 L236.06,65.63 L236.65,61.34 L237.25,57.24 L237.85,54.81 L238.45,55.10 L239.04,57.97 L239.64,62.23 L240.24,66.40 L240.84,69.53 L241.43,71.41 L242.03,72.34 L242.63,72.72 L243.23,72.85 L243.82,72.89 L244.42,72.90 L245.02,72.90 L245.62,72.90 L246.21,72.90 L246.81,72.90 L247.41,72.90 L248.01,72.90 L248.60,72.90 L249.20,72.90 L249.80,72.90 L249.80,72.90 L225.90,72.90 Z" fill="#ececf8" stroke="none"/>
<path d="M225.90,72.90 L226.50,72.90 L227.09,72.90 L227.69,72.90 L228.29,72.90 L228.89,72.90 L229.48,72.90 L230.08,72.90 L230.68,72.90 L231.28,72.90 L231.87,72.90 L232.47,72.88 L233.07,72.84 L233.67,72.67 L234.26,72.21 L234.86,71.12 L235.46,69.01 L236.06,65.63 L236.65,61.34 L237.25,57.24 L237.85,54.81 L238.45,55.10 L239.04,57.97 L239.64,62.23 L240.24,66.40 L240.84,69.53 L241.43,71.41 L242.03,72.34 L242.63,72.72 L243.23,72.85 L243.82,72.89 L244.42,72.90 L245.02,72.90 L245.62,72.90 L246.21,72.90 L246.81,72.90 L247.41,72.90 L248.01,72.90 L248.60,72.90 L249.20,72.90 L249.80,72.90" fill="none" stroke="#7c7cc0" stroke-width="0.5"/>
<line x1="225.40" y1="73.20" x2="250.30" y2="73.20" stroke="#888" stroke-width="0.8"/>
<line x1="228.20" y1="75.30" x2="228.20" y2="76.50" stroke="#bbb" stroke-width="0.6"/>
<line x1="233.00" y1="75.30" x2="233.00" y2="76.50" stroke="#bbb" stroke-width="0.6"/>
<line x1="237.80" y1="75.30" x2="237.80" y2="76.50" stroke="#bbb" stroke-width="0.6"/>
<line x1="242.60" y1="75.30" x2="242.60" y2="76.50" stroke="#bbb" stroke-width="0.6"/>
<line x1="247.40" y1="75.30" x2="247.40" y2="76.50" stroke="#bbb" stroke-width="0.6"/>
<text x="249.00" y="53.60" font-size="3.7" text-anchor="end" fill="#000" stroke="#000" stroke-width="0.12">872</text>
<rect x="32.70" y="79.60" width="24.30" height="23.50" fill="#fff" stroke="#b4b4b4" stroke-width="0.7"/>
<path d="M32.90,96.06 L33.50,94.54 L34.10,93.51 L34.69,93.06 L35.29,93.11 L35.89,93.46 L36.49,93.89 L37.08,94.19 L37.68,94.09 L38.28,93.31 L38.88,91.77 L39.47,89.89 L40.07,88.56 L40.67,88.67 L41.27,90.52 L41.86,93.59 L42.46,96.87 L43.06,99.53 L43.66,101.26 L44.25,102.18 L44.85,102.59 L45.45,102.74 L46.05,102.78 L46.64,102.80 L47.24,102.80 L47.84,102.80 L48.44,102.80 L49.03,102.80 L49.63,102.80 L50.23,102.80 L50.83,102.80 L51.42,102.80 L52.02,102.80 L52.62,102.80 L53.22,102.80 L53.81,102.80 L54.41,102.80 L55.01,102.80 L55.61,102.80 L56.20,102.80 L56.80,102.80 L56.80,102.80 L32.90,102.80 Z" fill="#ececf8" stroke="none"/>
<path d="M32.90,96.06 L33.50,94.54 L34.10,93.51 L34.69,93.06 L35.29,93.11 L35.89,93.46 L36.49,93.89 L37.08,94.19 L37.68,94.09 L38.28,93.31 L38.88,91.77 L39.47,89.89 L40.07,88.56 L40.67,88.67 L41.27,90.52 L41.86,93.59 L42.46,96.87 L43.06,99.53 L43.66,101.26 L44.25,102.18 L44.85,102.59 L45.45,102.74 L46.05,102.78 L46.64,102.80 L47.24,102.80 L47.84,102.80 L48.44,102.80 L49.03,102.80 L49.63,102.80 L50.23,102.80 L50.83,102.80 L51.42,102.80 L52.02,102.80 L52.62,102.80 L53.22,102.80 L53.81,102.80 L54.41,102.80 L55.01,102.80 L55.61,102.80 L56.20,102.80 L56.80,102.80" fill="none" stroke="#7c7cc0" stroke-width="0.5"/>
<line x1="32.40" y1="103.10" x2="57.30" y2="103.10" stroke="#888" stroke-width="0.8"/>
<line x1="35.20" y1="105.20" x2="35.20" y2="106.40" stroke="#bbb" stroke-width="0.6"/>
<line x1="40.00" y1="105.20" x2="40.00" y2="106.40" stroke="#bbb" stroke-width="0.6"/>
<line x1="44.80" y1="105.20" x2="44.80" y2="106.40" stroke="#bbb" stroke-width="0.6"/>
<line x1="49.60" y1="105.20" x2="49.60" y2="106.40" stroke="#bbb" stroke-width="0.6"/>
<line x1="54.40" y1="105.20" x2="54.40" y2="106.40" stroke="#bbb" stroke-width="0.6"/>
<text x="56.00" y="83.50" font-size="3.7" text-anchor="end" fill="#000" stroke="#000" stroke-width="0.12">82</text>
<rect x="62.60" y="79.60" width="24.30" height="23.50" fill="#fff" stroke="#b4b4b4" stroke-width="0.7"/>
<path d="M62.80,101.83 L63.40,101.44 L64.00,100.98 L64.59,100.46 L65.19,99.91 L65.79,99.37 L66.39,98.87 L66.98,98.46 L67.58,98.06 L68.18,97.48 L68.78,96.23 L69.37,93.69 L69.97,89.57 L70.57,84.62 L71.17,80.79 L71.76,80.59 L72.36,83.30 L72.96,88.83 L73.56,94.46 L74.15,98.62 L74.75,101.00 L75.35,102.10 L75.95,102.54 L76.54,102.69 L77.14,102.75 L77.74,102.78 L78.34,102.79 L78.93,102.79 L79.53,102.80 L80.13,102.80 L80.73,102.80 L81.32,102.80 L81.92,102.80 L82.52,102.80 L83.12,102.80 L83.71,102.80 L84.31,102.80 L84.91,102.80 L85.51,102.80 L86.10,102.80 L86.70,102.80 L86.70,102.80 L62.80,102.80 Z" fill="#ececf8" stroke="none"/>
<path d="M62.80,101.83 L63.40,101.44 L64.00,100.98 L64.59,100.46 L65.19,99.91 L65.79,99.37 L66.39,98.87 L66.98,98.46 L67.58,98.06 L68.18,97.48 L68.78,96.23 L69.37,93.69 L69.97,89.57 L70.57,84.62 L71.17,80.79 L71.76,80.59 L72.36,83.30 L72.96,88.83 L73.56,94.46 L74.15,98.62 L74.75,101.00 L75.35,102.10 L75.95,102.54 L76.54,102.69 L77.14,102.75 L77.74,102.78 L78.34,102.79 L78.93,102.79 L79.53,102.80 L80.13,102.80 L80.73,102.80 L81.32,102.80 L81.92,102.80 L82.52,102.80 L83.12,102.80 L83.71,102.80 L84.31,102.80 L84.91,102.80 L85.51,102.80 L86.10,102.80 L86.70,102.80" fill="none" stroke="#7c7cc0" stroke-width="0.5"/>
<line x1="62.30" y1="103.10" x2="87.20" y2="103.10" stroke="#888" stroke-width="0.8"/>
<line x1="65.10" y1="105.20" x2="65.10" y2="106.40" stroke="#bbb" stroke-width="0.6"/>
<line x1="69.90" y1="105.20" x2="69.90" y2="106.40" stroke="#bbb" stroke-width="0.6"/>
<line x1="74.70" y1="105.20" x2="74.70" y2="106.40" stroke="#bbb" stroke-width="0.6"/>
<line x1="79.50" y1="105.20" x2="79.50" y2="106.40" stroke="#bbb" stroke-width="0.6"/>
<line x1="84.30" y1="105.20" x2="84.30" y2="106.40" stroke="#bbb" stroke-width="0.6"/>
<text x="85.90" y="83.50" font-size="3.7" text-anchor="end" fill="#000" stroke="#000" stroke-width="0.12">120</text>
<rect x="92.40" y="79.60" width="24.30" height="23.50" fill="#fff" stroke="#b4b4b4" stroke-width="0.7"/>
<path d="M92.60,102.80 L93.20,102.80 L93.80,102.80 L94.39,102.80 L94.99,102.78 L95.59,102.74 L96.19,102.58 L96.78,102.17 L97.38,101.22 L97.98,99.45 L98.58,96.74 L99.17,93.47 L99.77,90.56 L100.37,89.10 L100.97,89.75 L101.56,92.20 L102.16,95.46 L102.76,98.47 L103.36,100.62 L103.95,101.87 L104.55,102.46 L105.15,102.69 L105.75,102.77 L106.34,102.79 L106.94,102.80 L107.54,102.80 L108.14,102.80 L108.73,102.80 L109.33,102.80 L109.93,102.80 L110.53,102.80 L111.12,102.80 L111.72,102.80 L112.32,102.80 L112.92,102.80 L113.51,102.80 L114.11,102.80 L114.71,102.80 L115.31,102.80 L115.90,102.80 L116.50,102.80" fill="none" stroke="#c4c0c4" stroke-width="0.45"/>
<path d="M92.60,102.80 L93.20,102.80 L93.80,102.80 L94.39,102.80 L94.99,102.80 L95.59,102.80 L96.19,102.80 L96.78,102.80 L97.38,102.80 L97.98,102.80 L98.58,102.80 L99.17,102.80 L99.77,102.80 L100.37,102.80 L100.97,102.80 L101.56,102.80 L102.16,102.80 L102.76,102.80 L103.36,102.80 L103.95,102.80 L104.55,102.77 L105.15,102.62 L105.75,101.93 L106.34,99.68 L106.94,94.75 L107.54,87.83 L108.14,82.72 L108.73,83.37 L109.33,89.23 L109.93,95.96 L110.53,100.32 L111.12,102.15 L111.72,102.68 L112.32,102.78 L112.92,102.80 L113.51,102.80 L114.11,102.80 L114.71,102.80 L115.31,102.80 L115.90,102.80 L116.50,102.80 L116.50,102.80 L92.60,102.80 Z" fill="#ececf8" stroke="none"/>
<path d="M92.60,102.80 L93.20,102.80 L93.80,102.80 L94.39,102.80 L94.99,102.80 L95.59,102.80 L96.19,102.80 L96.78,102.80 L97.38,102.80 L97.98,102.80 L98.58,102.80 L99.17,102.80 L99.77,102.80 L100.37,102.80 L100.97,102.80 L101.56,102.80 L102.16,102.80 L102.76,102.80 L103.36,102.80 L103.95,102.80 L104.55,102.77 L105.15,102.62 L105.75,101.93 L106.34,99.68 L106.94,94.75 L107.54,87.83 L108.14,82.72 L108.73,83.37 L109.33,89.23 L109.93,95.96 L110.53,100.32 L111.12,102.15 L111.72,102.68 L112.32,102.78 L112.92,102.80 L113.51,102.80 L114.11,102.80 L114.71,102.80 L115.31,102.80 L115.90,102.80 L116.50,102.80" fill="none" stroke="#7c7cc0" stroke-width="0.5"/>
<line x1="92.10" y1="103.10" x2="117.00" y2="103.10" stroke="#888" stroke-width="0.8"/>
<line x1="94.90" y1="105.20" x2="94.90" y2="106.40" stroke="#bbb" stroke-width="0.6"/>
<line x1="99.70" y1="105.20" x2="99.70" y2="106.40" stroke="#bbb" stroke-width="0.6"/>
<line x1="104.50" y1="105.20" x2="104.50" y2="106.40" stroke="#bbb" stroke-width="0.6"/>
<line x1="109.30" y1="105.20" x2="109.30" y2="106.40" stroke="#bbb" stroke-width="0.6"/>
<line x1="114.10" y1="105.20" x2="114.10" y2="106.40" stroke="#bbb" stroke-width="0.6"/>
<text x="115.70" y="83.50" font-size="3.7" text-anchor="end" fill="#000" stroke="#000" stroke-width="0.12">5541</text>
<rect x="122.40" y="79.60" width="24.30" height="23.50" fill="#fff" stroke="#b4b4b4" stroke-width="0.7"/>
<path d="M122.60,102.79 L123.20,102.73 L123.80,102.46 L124.39,101.58 L124.99,99.40 L125.59,95.42 L126.19,90.33 L126.78,86.38 L127.38,85.97 L127.98,89.36 L128.58,94.44 L129.17,98.75 L129.77,101.27 L130.37,102.35 L130.97,102.70 L131.56,102.78 L132.16,102.80 L132.76,102.80 L133.36,102.80 L133.95,102.80 L134.55,102.80 L135.15,102.80 L135.75,102.80 L136.34,102.80 L136.94,102.80 L137.54,102.80 L138.14,102.80 L138.73,102.80 L139.33,102.80 L139.93,102.80 L140.53,102.80 L141.12,102.80 L141.72,102.80 L142.32,102.80 L142.92,102.80 L143.51,102.80 L144.11,102.80 L144.71,102.80 L145.31,102.80 L145.90,102.80 L146.50,102.80" fill="none" stroke="#c4c0c4" stroke-width="0.45"/>
<path d="M122.60,102.80 L123.20,102.80 L123.80,102.80 L124.39,102.80 L124.99,102.80 L125.59,102.80 L126.19,102.80 L126.78,102.80 L127.38,102.80 L127.98,102.80 L128.58,102.80 L129.17,102.80 L129.77,102.80 L130.37,102.80 L130.97,102.80 L131.56,102.80 L132.16,102.80 L132.76,102.80 L133.36,102.80 L133.95,102.80 L134.55,102.80 L135.15,102.80 L135.75,102.80 L136.34,102.80 L136.94,102.80 L137.54,102.80 L138.14,102.75 L138.73,102.41 L139.33,100.80 L139.93,96.16 L140.53,88.67 L141.12,83.51 L141.72,85.92 L142.32,93.33 L142.92,99.39 L143.51,102.01 L144.11,102.68 L144.71,102.79 L145.31,102.80 L145.90,102.80 L146.50,102.80 L146.50,102.80 L122.60,102.80 Z" fill="#ececf8" stroke="none"/>
<path d="M122.60,102.80 L123.20,102.80 L123.80,102.80 L124.39,102.80 L124.99,102.80 L125.59,102.80 L126.19,102.80 L126.78,102.80 L127.38,102.80 L127.98,102.80 L128.58,102.80 L129.17,102.80 L129.77,102.80 L130.37,102.80 L130.97,102.80 L131.56,102.80 L132.16,102.80 L132.76,102.80 L133.36,102.80 L133.95,102.80 L134.55,102.80 L135.15,102.80 L135.75,102.80 L136.34,102.80 L136.94,102.80 L137.54,102.80 L138.14,102.75 L138.73,102.41 L139.33,100.80 L139.93,96.16 L140.53,88.67 L141.12,83.51 L141.72,85.92 L142.32,93.33 L142.92,99.39 L143.51,102.01 L144.11,102.68 L144.71,102.79 L145.31,102.80 L145.90,102.80 L146.50,102.80" fill="none" stroke="#7c7cc0" stroke-width="0.5"/>
<line x1="122.10" y1="103.10" x2="147.00" y2="103.10" stroke="#888" stroke-width="0.8"/>
<line x1="124.90" y1="105.20" x2="124.90" y2="106.40" stroke="#bbb" stroke-width="0.6"/>
<line x1="129.70" y1="105.20" x2="129.70" y2="106.40" stroke="#bbb" stroke-width="0.6"/>
<line x1="134.50" y1="105.20" x2="134.50" y2="106.40" stroke="#bbb" stroke-width="0.6"/>
<line x1="139.30" y1="105.20" x2="139.30" y2="106.40" stroke="#bbb" stroke-width="0.6"/>
<line x1="144.10" y1="105.20" x2="144.10" y2="106.40" stroke="#bbb" stroke-width="0.6"/>
<text x="145.70" y="83.50" font-size="3.7" text-anchor="end" fill="#000" stroke="#000" stroke-width="0.12">23933</text>
<rect x="151.90" y="79.60" width="24.30" height="23.50" fill="#fff" stroke="#b4b4b4" stroke-width="0.7"/>
<path d="M152.10,102.80 L152.70,102.80 L153.29,102.80 L153.89,102.79 L154.49,102.77 L155.09,102.70 L155.69,102.49 L156.28,101.95 L156.88,100.81 L157.48,98.83 L158.07,96.07 L158.67,93.08 L159.27,90.83 L159.87,90.25 L160.47,91.58 L161.06,94.25 L161.66,97.25 L162.26,99.73 L162.85,101.35 L163.45,102.22 L164.05,102.60 L164.65,102.74 L165.25,102.79 L165.84,102.80 L166.44,102.80 L167.04,102.80 L167.63,102.80 L168.23,102.80 L168.83,102.80 L169.43,102.80 L170.03,102.80 L170.62,102.80 L171.22,102.80 L171.82,102.80 L172.41,102.80 L173.01,102.80 L173.61,102.80 L174.21,102.80 L174.81,102.80 L175.40,102.80 L176.00,102.80" fill="none" stroke="#c4c0c4" stroke-width="0.45"/>
<path d="M152.10,102.80 L152.70,102.80 L153.29,102.80 L153.89,102.80 L154.49,102.80 L155.09,102.80 L155.69,102.80 L156.28,102.80 L156.88,102.80 L157.48,102.80 L158.07,102.80 L158.67,102.79 L159.27,102.78 L159.87,102.76 L160.47,102.70 L161.06,102.58 L161.66,102.35 L162.26,101.95 L162.85,101.27 L163.45,100.23 L164.05,98.75 L164.65,96.80 L165.25,94.44 L165.84,91.86 L166.44,89.36 L167.04,87.28 L167.63,85.97 L168.23,85.65 L168.83,86.38 L169.43,88.04 L170.03,90.33 L170.62,92.90 L171.22,95.42 L171.82,97.63 L172.41,99.40 L173.01,100.70 L173.61,101.58 L174.21,102.13 L174.81,102.46 L175.40,102.64 L176.00,102.73 L176.00,102.80 L152.10,102.80 Z" fill="#ececf8" stroke="none"/>
<path d="M152.10,102.80 L152.70,102.80 L153.29,102.80 L153.89,102.80 L154.49,102.80 L155.09,102.80 L155.69,102.80 L156.28,102.80 L156.88,102.80 L157.48,102.80 L158.07,102.80 L158.67,102.79 L159.27,102.78 L159.87,102.76 L160.47,102.70 L161.06,102.58 L161.66,102.35 L162.26,101.95 L162.85,101.27 L163.45,100.23 L164.05,98.75 L164.65,96.80 L165.25,94.44 L165.84,91.86 L166.44,89.36 L167.04,87.28 L167.63,85.97 L168.23,85.65 L168.83,86.38 L169.43,88.04 L170.03,90.33 L170.62,92.90 L171.22,95.42 L171.82,97.63 L172.41,99.40 L173.01,100.70 L173.61,101.58 L174.21,102.13 L174.81,102.46 L175.40,102.64 L176.00,102.73" fill="none" stroke="#7c7cc0" stroke-width="0.5"/>
<line x1="151.60" y1="103.10" x2="176.50" y2="103.10" stroke="#888" stroke-width="0.8"/>
<line x1="154.40" y1="105.20" x2="154.40" y2="106.40" stroke="#bbb" stroke-width="0.6"/>
<line x1="159.20" y1="105.20" x2="159.20" y2="106.40" stroke="#bbb" stroke-width="0.6"/>
<line x1="164.00" y1="105.20" x2="164.00" y2="106.40" stroke="#bbb" stroke-width="0.6"/>
<line x1="168.80" y1="105.20" x2="168.80" y2="106.40" stroke="#bbb" stroke-width="0.6"/>
<line x1="173.60" y1="105.20" x2="173.60" y2="106.40" stroke="#bbb" stroke-width="0.6"/>
<text x="175.20" y="83.50" font-size="3.7" text-anchor="end" fill="#000" stroke="#000" stroke-width="0.12">11121</text>
<rect x="195.50" y="79.60" width="24.30" height="23.50" fill="#fff" stroke="#b4b4b4" stroke-width="0.7"/>
<path d="M195.70,102.80 L196.30,102.80 L196.89,102.80 L197.49,102.79 L198.09,102.77 L198.69,102.66 L199.28,102.31 L199.88,101.35 L200.48,99.26 L201.08,95.74 L201.67,91.23 L202.27,87.24 L202.87,85.62 L203.47,87.24 L204.06,91.23 L204.66,95.74 L205.26,99.26 L205.86,101.35 L206.45,102.31 L207.05,102.66 L207.65,102.77 L208.25,102.79 L208.84,102.80 L209.44,102.80 L210.04,102.80 L210.64,102.80 L211.23,102.80 L211.83,102.80 L212.43,102.80 L213.03,102.80 L213.62,102.80 L214.22,102.80 L214.82,102.80 L215.42,102.80 L216.01,102.80 L216.61,102.80 L217.21,102.80 L217.81,102.80 L218.41,102.80 L219.00,102.80 L219.60,102.80" fill="none" stroke="#c4c0c4" stroke-width="0.45"/>
<path d="M195.70,102.80 L196.30,102.80 L196.89,102.80 L197.49,102.80 L198.09,102.80 L198.69,102.80 L199.28,102.80 L199.88,102.80 L200.48,102.80 L201.08,102.80 L201.67,102.80 L202.27,102.80 L202.87,102.80 L203.47,102.80 L204.06,102.80 L204.66,102.80 L205.26,102.79 L205.86,102.72 L206.45,102.35 L207.05,100.96 L207.65,97.39 L208.25,91.33 L208.84,85.27 L209.44,83.46 L210.04,87.41 L210.64,93.97 L211.23,99.14 L211.83,101.71 L212.43,102.56 L213.03,102.76 L213.62,102.80 L214.22,102.80 L214.82,102.80 L215.42,102.80 L216.01,102.80 L216.61,102.80 L217.21,102.80 L217.81,102.80 L218.41,102.80 L219.00,102.80 L219.60,102.80 L219.60,102.80 L195.70,102.80 Z" fill="#ececf8" stroke="none"/>
<path d="M195.70,102.80 L196.30,102.80 L196.89,102.80 L197.49,102.80 L198.09,102.80 L198.69,102.80 L199.28,102.80 L199.88,102.80 L200.48,102.80 L201.08,102.80 L201.67,102.80 L202.27,102.80 L202.87,102.80 L203.47,102.80 L204.06,102.80 L204.66,102.80 L205.26,102.79 L205.86,102.72 L206.45,102.35 L207.05,100.96 L207.65,97.39 L208.25,91.33 L208.84,85.27 L209.44,83.46 L210.04,87.41 L210.64,93.97 L211.23,99.14 L211.83,101.71 L212.43,102.56 L213.03,102.76 L213.62,102.80 L214.22,102.80 L214.82,102.80 L215.42,102.80 L216.01,102.80 L216.61,102.80 L217.21,102.80 L217.81,102.80 L218.41,102.80 L219.00,102.80 L219.60,102.80" fill="none" stroke="#7c7cc0" stroke-width="0.5"/>
<line x1="195.20" y1="103.10" x2="220.10" y2="103.10" stroke="#888" stroke-width="0.8"/>
<line x1="198.00" y1="105.20" x2="198.00" y2="106.40" stroke="#bbb" stroke-width="0.6"/>
<line x1="202.80" y1="105.20" x2="202.80" y2="106.40" stroke="#bbb" stroke-width="0.6"/>
<line x1="207.60" y1="105.20" x2="207.60" y2="106.40" stroke="#bbb" stroke-width="0.6"/>
<line x1="212.40" y1="105.20" x2="212.40" y2="106.40" stroke="#bbb" stroke-width="0.6"/>
<line x1="217.20" y1="105.20" x2="217.20" y2="106.40" stroke="#bbb" stroke-width="0.6"/>
<text x="218.80" y="83.50" font-size="3.7" text-anchor="end" fill="#000" stroke="#000" stroke-width="0.12">2876</text>
<rect x="225.70" y="79.60" width="24.30" height="23.50" fill="#fff" stroke="#b4b4b4" stroke-width="0.7"/>
<path d="M225.90,102.80 L226.50,102.80 L227.09,102.80 L227.69,102.78 L228.29,102.69 L228.89,102.39 L229.48,101.53 L230.08,99.59 L230.68,96.14 L231.28,91.44 L231.87,86.91 L232.47,84.55 L233.07,85.60 L233.67,89.50 L234.26,94.35 L234.86,98.40 L235.46,100.92 L236.06,102.14 L236.65,102.61 L237.25,102.75 L237.85,102.79 L238.45,102.80 L239.04,102.80 L239.64,102.80 L240.24,102.80 L240.84,102.80 L241.43,102.80 L242.03,102.80 L242.63,102.80 L243.23,102.80 L243.82,102.80 L244.42,102.80 L245.02,102.80 L245.62,102.80 L246.21,102.80 L246.81,102.80 L247.41,102.80 L248.01,102.80 L248.60,102.80 L249.20,102.80 L249.80,102.80" fill="none" stroke="#c4c0c4" stroke-width="0.45"/>
<path d="M225.90,102.80 L226.50,102.80 L227.09,102.80 L227.69,102.80 L228.29,102.80 L228.89,102.80 L229.48,102.79 L230.08,102.75 L230.68,102.60 L231.28,102.10 L231.87,100.80 L232.47,98.12 L233.07,93.83 L233.67,88.67 L234.26,84.53 L234.86,83.41 L235.46,85.92 L236.06,90.73 L236.65,95.72 L237.25,99.39 L237.85,101.45 L238.45,102.36 L239.04,102.68 L239.64,102.77 L240.24,102.80 L240.84,102.80 L241.43,102.80 L242.03,102.80 L242.63,102.80 L243.23,102.80 L243.82,102.80 L244.42,102.80 L245.02,102.80 L245.62,102.80 L246.21,102.80 L246.81,102.80 L247.41,102.80 L248.01,102.80 L248.60,102.80 L249.20,102.80 L249.80,102.80 L249.80,102.80 L225.90,102.80 Z" fill="#ececf8" stroke="none"/>
<path d="M225.90,102.80 L226.50,102.80 L227.09,102.80 L227.69,102.80 L228.29,102.80 L228.89,102.80 L229.48,102.79 L230.08,102.75 L230.68,102.60 L231.28,102.10 L231.87,100.80 L232.47,98.12 L233.07,93.83 L233.67,88.67 L234.26,84.53 L234.86,83.41 L235.46,85.92 L236.06,90.73 L236.65,95.72 L237.25,99.39 L237.85,101.45 L238.45,102.36 L239.04,102.68 L239.64,102.77 L240.24,102.80 L240.84,102.80 L241.43,102.80 L242.03,102.80 L242.63,102.80 L243.23,102.80 L243.82,102.80 L244.42,102.80 L245.02,102.80 L245.62,102.80 L246.21,102.80 L246.81,102.80 L247.41,102.80 L248.01,102.80 L248.60,102.80 L249.20,102.80 L249.80,102.80" fill="none" stroke="#7c7cc0" stroke-width="0.5"/>
<line x1="225.40" y1="103.10" x2="250.30" y2="103.10" stroke="#888" stroke-width="0.8"/>
<line x1="228.20" y1="105.20" x2="228.20" y2="106.40" stroke="#bbb" stroke-width="0.6"/>
<line x1="233.00" y1="105.20" x2="233.00" y2="106.40" stroke="#bbb" stroke-width="0.6"/>
<line x1="237.80" y1="105.20" x2="237.80" y2="106.40" stroke="#bbb" stroke-width="0.6"/>
<line x1="242.60" y1="105.20" x2="242.60" y2="106.40" stroke="#bbb" stroke-width="0.6"/>
<line x1="247.40" y1="105.20" x2="247.40" y2="106.40" stroke="#bbb" stroke-width="0.6"/>
<text x="249.00" y="83.50" font-size="3.7" text-anchor="end" fill="#000" stroke="#000" stroke-width="0.12">255</text>
<text x="33.00" y="126.70" font-size="4.9" font-weight="bold" fill="#000" stroke="#000" stroke-width="0.1">Chemokine receptors</text>
<text x="30.6" y="144.20" font-size="5.1" font-weight="bold" text-anchor="end" fill="#000" stroke="#000" stroke-width="0.12">Classical</text>
<text x="30.6" y="174.70" font-size="5.1" font-weight="bold" text-anchor="end" fill="#000" stroke="#000" stroke-width="0.12">Intermediate</text>
<text x="30.6" y="204.60" font-size="5.1" font-weight="bold" text-anchor="end" fill="#000" stroke="#000" stroke-width="0.12">Nonclassical</text>
<text x="45.05" y="223.40" font-size="5.1" text-anchor="middle" fill="#111" stroke="#111" stroke-width="0.08">CCR1</text>
<text x="75.05" y="223.40" font-size="5.1" text-anchor="middle" fill="#111" stroke="#111" stroke-width="0.08">CCR2</text>
<text x="104.85" y="223.40" font-size="5.1" text-anchor="middle" fill="#111" stroke="#111" stroke-width="0.08">CCR5</text>
<text x="135.05" y="223.40" font-size="5.1" text-anchor="middle" fill="#111" stroke="#111" stroke-width="0.08">CXCR1</text>
<text x="165.05" y="223.40" font-size="5.1" text-anchor="middle" fill="#111" stroke="#111" stroke-width="0.08">CXCR2</text>
<text x="194.55" y="223.40" font-size="5.1" text-anchor="middle" fill="#111" stroke="#111" stroke-width="0.08">CXCR4</text>
<text x="224.35" y="223.40" font-size="5.1" text-anchor="middle" fill="#111" stroke="#111" stroke-width="0.08">CX<tspan font-size="3.2" dy="1">3</tspan><tspan dy="-1">CR1</tspan></text>
<rect x="32.60" y="130.30" width="24.30" height="24.20" fill="#fff" stroke="#b4b4b4" stroke-width="0.7"/>
<path d="M32.80,153.40 L33.40,152.62 L34.00,151.34 L34.59,149.42 L35.19,146.83 L35.79,143.73 L36.39,140.49 L36.98,137.66 L37.58,135.81 L38.18,135.35 L38.78,136.40 L39.37,138.70 L39.97,141.77 L40.57,145.01 L41.17,147.94 L41.76,150.27 L42.36,151.92 L42.96,152.99 L43.56,153.60 L44.15,153.93 L44.75,154.09 L45.35,154.16 L45.95,154.18 L46.54,154.19 L47.14,154.20 L47.74,154.20 L48.34,154.20 L48.93,154.20 L49.53,154.20 L50.13,154.20 L50.73,154.20 L51.32,154.20 L51.92,154.20 L52.52,154.20 L53.12,154.20 L53.71,154.20 L54.31,154.20 L54.91,154.20 L55.51,154.20 L56.10,154.20 L56.70,154.20" fill="none" stroke="#e0b0b4" stroke-width="0.45"/>
<path d="M32.80,154.20 L33.40,154.20 L34.00,154.20 L34.59,154.20 L35.19,154.20 L35.79,154.20 L36.39,154.20 L36.98,154.20 L37.58,154.19 L38.18,154.16 L38.78,154.08 L39.37,153.88 L39.97,153.45 L40.57,152.71 L41.17,151.65 L41.76,150.38 L42.36,148.82 L42.96,146.28 L43.56,141.70 L44.15,135.57 L44.75,131.43 L45.35,133.02 L45.95,139.67 L46.54,146.94 L47.14,151.57 L47.74,153.51 L48.34,154.07 L48.93,154.18 L49.53,154.20 L50.13,154.20 L50.73,154.20 L51.32,154.20 L51.92,154.20 L52.52,154.20 L53.12,154.20 L53.71,154.20 L54.31,154.20 L54.91,154.20 L55.51,154.20 L56.10,154.20 L56.70,154.20 L56.70,154.20 L32.80,154.20 Z" fill="#ececf8" stroke="none"/>
<path d="M32.80,154.20 L33.40,154.20 L34.00,154.20 L34.59,154.20 L35.19,154.20 L35.79,154.20 L36.39,154.20 L36.98,154.20 L37.58,154.19 L38.18,154.16 L38.78,154.08 L39.37,153.88 L39.97,153.45 L40.57,152.71 L41.17,151.65 L41.76,150.38 L42.36,148.82 L42.96,146.28 L43.56,141.70 L44.15,135.57 L44.75,131.43 L45.35,133.02 L45.95,139.67 L46.54,146.94 L47.14,151.57 L47.74,153.51 L48.34,154.07 L48.93,154.18 L49.53,154.20 L50.13,154.20 L50.73,154.20 L51.32,154.20 L51.92,154.20 L52.52,154.20 L53.12,154.20 L53.71,154.20 L54.31,154.20 L54.91,154.20 L55.51,154.20 L56.10,154.20 L56.70,154.20" fill="none" stroke="#7c7cc0" stroke-width="0.5"/>
<line x1="32.30" y1="154.50" x2="57.20" y2="154.50" stroke="#888" stroke-width="0.8"/>
<line x1="35.10" y1="156.60" x2="35.10" y2="157.80" stroke="#bbb" stroke-width="0.6"/>
<line x1="39.90" y1="156.60" x2="39.90" y2="157.80" stroke="#bbb" stroke-width="0.6"/>
<line x1="44.70" y1="156.60" x2="44.70" y2="157.80" stroke="#bbb" stroke-width="0.6"/>
<line x1="49.50" y1="156.60" x2="49.50" y2="157.80" stroke="#bbb" stroke-width="0.6"/>
<line x1="54.30" y1="156.60" x2="54.30" y2="157.80" stroke="#bbb" stroke-width="0.6"/>
<text x="55.90" y="134.20" font-size="3.7" text-anchor="end" fill="#000" stroke="#000" stroke-width="0.12">1344</text>
<rect x="62.60" y="130.30" width="24.30" height="24.20" fill="#fff" stroke="#b4b4b4" stroke-width="0.7"/>
<path d="M62.80,152.03 L63.40,149.60 L64.00,145.88 L64.59,141.38 L65.19,137.37 L65.79,135.38 L66.39,136.26 L66.98,139.63 L67.58,144.12 L68.18,148.25 L68.78,151.21 L69.37,152.92 L69.97,153.73 L70.57,154.05 L71.17,154.16 L71.76,154.19 L72.36,154.20 L72.96,154.20 L73.56,154.20 L74.15,154.20 L74.75,154.20 L75.35,154.20 L75.95,154.20 L76.54,154.20 L77.14,154.20 L77.74,154.20 L78.34,154.20 L78.93,154.20 L79.53,154.20 L80.13,154.20 L80.73,154.20 L81.32,154.20 L81.92,154.20 L82.52,154.20 L83.12,154.20 L83.71,154.20 L84.31,154.20 L84.91,154.20 L85.51,154.20 L86.10,154.20 L86.70,154.20" fill="none" stroke="#e0b0b4" stroke-width="0.45"/>
<path d="M62.80,154.20 L63.40,154.20 L64.00,154.20 L64.59,154.20 L65.19,154.20 L65.79,154.20 L66.39,154.20 L66.98,154.20 L67.58,154.20 L68.18,154.20 L68.78,154.18 L69.37,154.11 L69.97,153.85 L70.57,153.07 L71.17,151.24 L71.76,147.80 L72.36,142.84 L72.96,137.67 L73.56,134.45 L74.15,134.84 L74.75,138.62 L75.35,143.91 L75.95,148.62 L76.54,151.72 L77.14,153.29 L77.74,153.93 L78.34,154.13 L78.93,154.19 L79.53,154.20 L80.13,154.20 L80.73,154.20 L81.32,154.20 L81.92,154.20 L82.52,154.20 L83.12,154.20 L83.71,154.20 L84.31,154.20 L84.91,154.20 L85.51,154.20 L86.10,154.20 L86.70,154.20 L86.70,154.20 L62.80,154.20 Z" fill="#ececf8" stroke="none"/>
<path d="M62.80,154.20 L63.40,154.20 L64.00,154.20 L64.59,154.20 L65.19,154.20 L65.79,154.20 L66.39,154.20 L66.98,154.20 L67.58,154.20 L68.18,154.20 L68.78,154.18 L69.37,154.11 L69.97,153.85 L70.57,153.07 L71.17,151.24 L71.76,147.80 L72.36,142.84 L72.96,137.67 L73.56,134.45 L74.15,134.84 L74.75,138.62 L75.35,143.91 L75.95,148.62 L76.54,151.72 L77.14,153.29 L77.74,153.93 L78.34,154.13 L78.93,154.19 L79.53,154.20 L80.13,154.20 L80.73,154.20 L81.32,154.20 L81.92,154.20 L82.52,154.20 L83.12,154.20 L83.71,154.20 L84.31,154.20 L84.91,154.20 L85.51,154.20 L86.10,154.20 L86.70,154.20" fill="none" stroke="#7c7cc0" stroke-width="0.5"/>
<line x1="62.30" y1="154.50" x2="87.20" y2="154.50" stroke="#888" stroke-width="0.8"/>
<line x1="65.10" y1="156.60" x2="65.10" y2="157.80" stroke="#bbb" stroke-width="0.6"/>
<line x1="69.90" y1="156.60" x2="69.90" y2="157.80" stroke="#bbb" stroke-width="0.6"/>
<line x1="74.70" y1="156.60" x2="74.70" y2="157.80" stroke="#bbb" stroke-width="0.6"/>
<line x1="79.50" y1="156.60" x2="79.50" y2="157.80" stroke="#bbb" stroke-width="0.6"/>
<line x1="84.30" y1="156.60" x2="84.30" y2="157.80" stroke="#bbb" stroke-width="0.6"/>
<text x="85.90" y="134.20" font-size="3.7" text-anchor="end" fill="#000" stroke="#000" stroke-width="0.12">1256</text>
<rect x="92.40" y="130.30" width="24.30" height="24.20" fill="#fff" stroke="#b4b4b4" stroke-width="0.7"/>
<path d="M92.60,154.15 L93.20,154.04 L93.80,153.80 L94.39,153.27 L94.99,152.28 L95.59,150.67 L96.19,148.38 L96.78,145.61 L97.38,142.86 L97.98,140.81 L98.58,140.04 L99.17,140.81 L99.77,142.86 L100.37,145.61 L100.97,148.38 L101.56,150.67 L102.16,152.28 L102.76,153.27 L103.36,153.80 L103.95,154.04 L104.55,154.15 L105.15,154.18 L105.75,154.20 L106.34,154.20 L106.94,154.20 L107.54,154.20 L108.14,154.20 L108.73,154.20 L109.33,154.20 L109.93,154.20 L110.53,154.20 L111.12,154.20 L111.72,154.20 L112.32,154.20 L112.92,154.20 L113.51,154.20 L114.11,154.20 L114.71,154.20 L115.31,154.20 L115.90,154.20 L116.50,154.20" fill="none" stroke="#e0b0b4" stroke-width="0.45"/>
<path d="M92.60,154.12 L93.20,154.00 L93.80,153.73 L94.39,153.22 L94.99,152.30 L95.59,150.81 L96.19,148.62 L96.78,145.74 L97.38,142.38 L97.98,138.98 L98.58,136.13 L99.17,134.43 L99.77,134.27 L100.37,135.68 L100.97,138.34 L101.56,141.69 L102.16,145.10 L102.76,148.10 L103.36,150.43 L103.95,152.05 L104.55,153.07 L105.15,153.66 L105.75,153.96 L106.34,154.10 L106.94,154.16 L107.54,154.19 L108.14,154.20 L108.73,154.20 L109.33,154.20 L109.93,154.20 L110.53,154.20 L111.12,154.20 L111.72,154.20 L112.32,154.20 L112.92,154.20 L113.51,154.20 L114.11,154.20 L114.71,154.20 L115.31,154.20 L115.90,154.20 L116.50,154.20 L116.50,154.20 L92.60,154.20 Z" fill="#ececf8" stroke="none"/>
<path d="M92.60,154.12 L93.20,154.00 L93.80,153.73 L94.39,153.22 L94.99,152.30 L95.59,150.81 L96.19,148.62 L96.78,145.74 L97.38,142.38 L97.98,138.98 L98.58,136.13 L99.17,134.43 L99.77,134.27 L100.37,135.68 L100.97,138.34 L101.56,141.69 L102.16,145.10 L102.76,148.10 L103.36,150.43 L103.95,152.05 L104.55,153.07 L105.15,153.66 L105.75,153.96 L106.34,154.10 L106.94,154.16 L107.54,154.19 L108.14,154.20 L108.73,154.20 L109.33,154.20 L109.93,154.20 L110.53,154.20 L111.12,154.20 L111.72,154.20 L112.32,154.20 L112.92,154.20 L113.51,154.20 L114.11,154.20 L114.71,154.20 L115.31,154.20 L115.90,154.20 L116.50,154.20" fill="none" stroke="#7c7cc0" stroke-width="0.5"/>
<line x1="92.10" y1="154.50" x2="117.00" y2="154.50" stroke="#888" stroke-width="0.8"/>
<line x1="94.90" y1="156.60" x2="94.90" y2="157.80" stroke="#bbb" stroke-width="0.6"/>
<line x1="99.70" y1="156.60" x2="99.70" y2="157.80" stroke="#bbb" stroke-width="0.6"/>
<line x1="104.50" y1="156.60" x2="104.50" y2="157.80" stroke="#bbb" stroke-width="0.6"/>
<line x1="109.30" y1="156.60" x2="109.30" y2="157.80" stroke="#bbb" stroke-width="0.6"/>
<line x1="114.10" y1="156.60" x2="114.10" y2="157.80" stroke="#bbb" stroke-width="0.6"/>
<text x="115.70" y="134.20" font-size="3.7" text-anchor="end" fill="#000" stroke="#000" stroke-width="0.12">222</text>
<rect x="122.60" y="130.30" width="24.30" height="24.20" fill="#fff" stroke="#b4b4b4" stroke-width="0.7"/>
<path d="M122.80,154.08 L123.40,153.90 L123.99,153.54 L124.59,152.86 L125.19,151.70 L125.79,149.87 L126.38,147.31 L126.98,144.08 L127.58,140.50 L128.18,137.10 L128.78,134.51 L129.37,133.24 L129.97,133.53 L130.57,135.22 L131.16,137.78 L131.76,140.54 L132.36,142.87 L132.96,144.40 L133.56,145.04 L134.15,144.98 L134.75,144.57 L135.35,144.18 L135.94,144.11 L136.54,144.52 L137.14,145.43 L137.74,146.71 L138.34,148.19 L138.93,149.66 L139.53,150.98 L140.13,152.06 L140.72,152.86 L141.32,153.41 L141.92,153.76 L142.52,153.97 L143.12,154.09 L143.71,154.15 L144.31,154.18 L144.91,154.19 L145.50,154.20 L146.10,154.20 L146.70,154.20 L146.70,154.20 L122.80,154.20 Z" fill="#ececf8" stroke="none"/>
<path d="M122.80,154.08 L123.40,153.90 L123.99,153.54 L124.59,152.86 L125.19,151.70 L125.79,149.87 L126.38,147.31 L126.98,144.08 L127.58,140.50 L128.18,137.10 L128.78,134.51 L129.37,133.24 L129.97,133.53 L130.57,135.22 L131.16,137.78 L131.76,140.54 L132.36,142.87 L132.96,144.40 L133.56,145.04 L134.15,144.98 L134.75,144.57 L135.35,144.18 L135.94,144.11 L136.54,144.52 L137.14,145.43 L137.74,146.71 L138.34,148.19 L138.93,149.66 L139.53,150.98 L140.13,152.06 L140.72,152.86 L141.32,153.41 L141.92,153.76 L142.52,153.97 L143.12,154.09 L143.71,154.15 L144.31,154.18 L144.91,154.19 L145.50,154.20 L146.10,154.20 L146.70,154.20" fill="none" stroke="#7c7cc0" stroke-width="0.5"/>
<line x1="122.30" y1="154.50" x2="147.20" y2="154.50" stroke="#888" stroke-width="0.8"/>
<line x1="125.10" y1="156.60" x2="125.10" y2="157.80" stroke="#bbb" stroke-width="0.6"/>
<line x1="129.90" y1="156.60" x2="129.90" y2="157.80" stroke="#bbb" stroke-width="0.6"/>
<line x1="134.70" y1="156.60" x2="134.70" y2="157.80" stroke="#bbb" stroke-width="0.6"/>
<line x1="139.50" y1="156.60" x2="139.50" y2="157.80" stroke="#bbb" stroke-width="0.6"/>
<line x1="144.30" y1="156.60" x2="144.30" y2="157.80" stroke="#bbb" stroke-width="0.6"/>
<text x="145.90" y="134.20" font-size="3.7" text-anchor="end" fill="#000" stroke="#000" stroke-width="0.12">349</text>
<rect x="152.60" y="130.30" width="24.30" height="24.20" fill="#fff" stroke="#b4b4b4" stroke-width="0.7"/>
<path d="M152.80,154.15 L153.40,154.02 L153.99,153.67 L154.59,152.83 L155.19,151.19 L155.79,148.58 L156.38,145.27 L156.98,142.09 L157.58,140.22 L158.18,140.44 L158.77,142.66 L159.37,145.95 L159.97,149.18 L160.57,151.59 L161.16,153.05 L161.76,153.77 L162.36,154.06 L162.96,154.16 L163.55,154.19 L164.15,154.20 L164.75,154.20 L165.35,154.20 L165.94,154.20 L166.54,154.20 L167.14,154.20 L167.74,154.20 L168.33,154.20 L168.93,154.20 L169.53,154.20 L170.13,154.20 L170.72,154.20 L171.32,154.20 L171.92,154.20 L172.52,154.20 L173.11,154.20 L173.71,154.20 L174.31,154.20 L174.91,154.20 L175.50,154.20 L176.10,154.20 L176.70,154.20" fill="none" stroke="#e0b0b4" stroke-width="0.45"/>
<path d="M152.80,154.20 L153.40,154.20 L153.99,154.20 L154.59,154.20 L155.19,154.20 L155.79,154.20 L156.38,154.20 L156.98,154.20 L157.58,154.19 L158.18,154.15 L158.77,153.98 L159.37,153.45 L159.97,152.07 L160.57,149.21 L161.16,144.63 L161.76,139.12 L162.36,134.70 L162.96,133.51 L163.55,136.19 L164.15,141.32 L164.75,146.65 L165.35,150.56 L165.94,152.76 L166.54,153.73 L167.14,154.08 L167.74,154.17 L168.33,154.20 L168.93,154.20 L169.53,154.20 L170.13,154.20 L170.72,154.20 L171.32,154.20 L171.92,154.20 L172.52,154.20 L173.11,154.20 L173.71,154.20 L174.31,154.20 L174.91,154.20 L175.50,154.20 L176.10,154.20 L176.70,154.20 L176.70,154.20 L152.80,154.20 Z" fill="#ececf8" stroke="none"/>
<path d="M152.80,154.20 L153.40,154.20 L153.99,154.20 L154.59,154.20 L155.19,154.20 L155.79,154.20 L156.38,154.20 L156.98,154.20 L157.58,154.19 L158.18,154.15 L158.77,153.98 L159.37,153.45 L159.97,152.07 L160.57,149.21 L161.16,144.63 L161.76,139.12 L162.36,134.70 L162.96,133.51 L163.55,136.19 L164.15,141.32 L164.75,146.65 L165.35,150.56 L165.94,152.76 L166.54,153.73 L167.14,154.08 L167.74,154.17 L168.33,154.20 L168.93,154.20 L169.53,154.20 L170.13,154.20 L170.72,154.20 L171.32,154.20 L171.92,154.20 L172.52,154.20 L173.11,154.20 L173.71,154.20 L174.31,154.20 L174.91,154.20 L175.50,154.20 L176.10,154.20 L176.70,154.20" fill="none" stroke="#7c7cc0" stroke-width="0.5"/>
<line x1="152.30" y1="154.50" x2="177.20" y2="154.50" stroke="#888" stroke-width="0.8"/>
<line x1="155.10" y1="156.60" x2="155.10" y2="157.80" stroke="#bbb" stroke-width="0.6"/>
<line x1="159.90" y1="156.60" x2="159.90" y2="157.80" stroke="#bbb" stroke-width="0.6"/>
<line x1="164.70" y1="156.60" x2="164.70" y2="157.80" stroke="#bbb" stroke-width="0.6"/>
<line x1="169.50" y1="156.60" x2="169.50" y2="157.80" stroke="#bbb" stroke-width="0.6"/>
<line x1="174.30" y1="156.60" x2="174.30" y2="157.80" stroke="#bbb" stroke-width="0.6"/>
<text x="175.90" y="134.20" font-size="3.7" text-anchor="end" fill="#000" stroke="#000" stroke-width="0.12">553</text>
<rect x="182.10" y="130.30" width="24.30" height="24.20" fill="#fff" stroke="#b4b4b4" stroke-width="0.7"/>
<path d="M182.30,154.13 L182.90,154.01 L183.49,153.72 L184.09,153.15 L184.69,152.13 L185.29,150.56 L185.88,148.46 L186.48,146.09 L187.08,143.96 L187.68,142.63 L188.27,142.50 L188.87,143.62 L189.47,145.63 L190.07,147.99 L190.66,150.17 L191.26,151.86 L191.86,152.99 L192.46,153.64 L193.05,153.97 L193.65,154.11 L194.25,154.17 L194.85,154.19 L195.44,154.20 L196.04,154.20 L196.64,154.20 L197.24,154.20 L197.83,154.20 L198.43,154.20 L199.03,154.20 L199.63,154.20 L200.22,154.20 L200.82,154.20 L201.42,154.20 L202.02,154.20 L202.61,154.20 L203.21,154.20 L203.81,154.20 L204.41,154.20 L205.00,154.20 L205.60,154.20 L206.20,154.20" fill="none" stroke="#e0b0b4" stroke-width="0.45"/>
<path d="M182.30,154.20 L182.90,154.20 L183.49,154.20 L184.09,154.20 L184.69,154.20 L185.29,154.20 L185.88,154.20 L186.48,154.20 L187.08,154.19 L187.68,154.18 L188.27,154.13 L188.87,154.00 L189.47,153.67 L190.07,152.99 L190.66,151.71 L191.26,149.61 L191.86,146.63 L192.46,143.03 L193.05,139.46 L193.65,136.79 L194.25,135.79 L194.85,136.79 L195.44,139.46 L196.04,143.03 L196.64,146.63 L197.24,149.61 L197.83,151.71 L198.43,152.99 L199.03,153.67 L199.63,154.00 L200.22,154.13 L200.82,154.18 L201.42,154.19 L202.02,154.20 L202.61,154.20 L203.21,154.20 L203.81,154.20 L204.41,154.20 L205.00,154.20 L205.60,154.20 L206.20,154.20 L206.20,154.20 L182.30,154.20 Z" fill="#ececf8" stroke="none"/>
<path d="M182.30,154.20 L182.90,154.20 L183.49,154.20 L184.09,154.20 L184.69,154.20 L185.29,154.20 L185.88,154.20 L186.48,154.20 L187.08,154.19 L187.68,154.18 L188.27,154.13 L188.87,154.00 L189.47,153.67 L190.07,152.99 L190.66,151.71 L191.26,149.61 L191.86,146.63 L192.46,143.03 L193.05,139.46 L193.65,136.79 L194.25,135.79 L194.85,136.79 L195.44,139.46 L196.04,143.03 L196.64,146.63 L197.24,149.61 L197.83,151.71 L198.43,152.99 L199.03,153.67 L199.63,154.00 L200.22,154.13 L200.82,154.18 L201.42,154.19 L202.02,154.20 L202.61,154.20 L203.21,154.20 L203.81,154.20 L204.41,154.20 L205.00,154.20 L205.60,154.20 L206.20,154.20" fill="none" stroke="#7c7cc0" stroke-width="0.5"/>
<line x1="181.80" y1="154.50" x2="206.70" y2="154.50" stroke="#888" stroke-width="0.8"/>
<line x1="184.60" y1="156.60" x2="184.60" y2="157.80" stroke="#bbb" stroke-width="0.6"/>
<line x1="189.40" y1="156.60" x2="189.40" y2="157.80" stroke="#bbb" stroke-width="0.6"/>
<line x1="194.20" y1="156.60" x2="194.20" y2="157.80" stroke="#bbb" stroke-width="0.6"/>
<line x1="199.00" y1="156.60" x2="199.00" y2="157.80" stroke="#bbb" stroke-width="0.6"/>
<line x1="203.80" y1="156.60" x2="203.80" y2="157.80" stroke="#bbb" stroke-width="0.6"/>
<text x="205.40" y="134.20" font-size="3.7" text-anchor="end" fill="#000" stroke="#000" stroke-width="0.12">430</text>
<rect x="211.90" y="130.30" width="24.30" height="24.20" fill="#fff" stroke="#b4b4b4" stroke-width="0.7"/>
<path d="M212.10,154.20 L212.70,154.20 L213.29,154.20 L213.89,154.18 L214.49,154.13 L215.09,153.97 L215.69,153.54 L216.28,152.60 L216.88,150.92 L217.48,148.46 L218.07,145.63 L218.67,143.31 L219.27,142.40 L219.87,143.31 L220.47,145.63 L221.06,148.46 L221.66,150.92 L222.26,152.60 L222.85,153.54 L223.45,153.97 L224.05,154.13 L224.65,154.18 L225.25,154.20 L225.84,154.20 L226.44,154.20 L227.04,154.20 L227.63,154.20 L228.23,154.20 L228.83,154.20 L229.43,154.20 L230.03,154.20 L230.62,154.20 L231.22,154.20 L231.82,154.20 L232.41,154.20 L233.01,154.20 L233.61,154.20 L234.21,154.20 L234.81,154.20 L235.40,154.20 L236.00,154.20" fill="none" stroke="#e0b0b4" stroke-width="0.45"/>
<path d="M212.10,154.20 L212.70,154.20 L213.29,154.20 L213.89,154.19 L214.49,154.17 L215.09,154.11 L215.69,153.91 L216.28,153.41 L216.88,152.34 L217.48,150.36 L218.07,147.24 L218.67,143.14 L219.27,138.80 L219.87,135.42 L220.47,134.14 L221.06,135.42 L221.66,138.80 L222.26,143.14 L222.85,147.24 L223.45,150.36 L224.05,152.34 L224.65,153.41 L225.25,153.91 L225.84,154.11 L226.44,154.17 L227.04,154.19 L227.63,154.20 L228.23,154.20 L228.83,154.20 L229.43,154.20 L230.03,154.20 L230.62,154.20 L231.22,154.20 L231.82,154.20 L232.41,154.20 L233.01,154.20 L233.61,154.20 L234.21,154.20 L234.81,154.20 L235.40,154.20 L236.00,154.20 L236.00,154.20 L212.10,154.20 Z" fill="#ececf8" stroke="none"/>
<path d="M212.10,154.20 L212.70,154.20 L213.29,154.20 L213.89,154.19 L214.49,154.17 L215.09,154.11 L215.69,153.91 L216.28,153.41 L216.88,152.34 L217.48,150.36 L218.07,147.24 L218.67,143.14 L219.27,138.80 L219.87,135.42 L220.47,134.14 L221.06,135.42 L221.66,138.80 L222.26,143.14 L222.85,147.24 L223.45,150.36 L224.05,152.34 L224.65,153.41 L225.25,153.91 L225.84,154.11 L226.44,154.17 L227.04,154.19 L227.63,154.20 L228.23,154.20 L228.83,154.20 L229.43,154.20 L230.03,154.20 L230.62,154.20 L231.22,154.20 L231.82,154.20 L232.41,154.20 L233.01,154.20 L233.61,154.20 L234.21,154.20 L234.81,154.20 L235.40,154.20 L236.00,154.20" fill="none" stroke="#7c7cc0" stroke-width="0.5"/>
<line x1="211.60" y1="154.50" x2="236.50" y2="154.50" stroke="#888" stroke-width="0.8"/>
<line x1="214.40" y1="156.60" x2="214.40" y2="157.80" stroke="#bbb" stroke-width="0.6"/>
<line x1="219.20" y1="156.60" x2="219.20" y2="157.80" stroke="#bbb" stroke-width="0.6"/>
<line x1="224.00" y1="156.60" x2="224.00" y2="157.80" stroke="#bbb" stroke-width="0.6"/>
<line x1="228.80" y1="156.60" x2="228.80" y2="157.80" stroke="#bbb" stroke-width="0.6"/>
<line x1="233.60" y1="156.60" x2="233.60" y2="157.80" stroke="#bbb" stroke-width="0.6"/>
<text x="235.20" y="134.20" font-size="3.7" text-anchor="end" fill="#000" stroke="#000" stroke-width="0.12">180</text>
<rect x="32.60" y="160.60" width="24.30" height="24.20" fill="#fff" stroke="#b4b4b4" stroke-width="0.7"/>
<path d="M32.80,183.97 L33.40,183.22 L34.00,181.88 L34.59,179.91 L35.19,177.65 L35.79,175.79 L36.39,175.06 L36.98,175.79 L37.58,177.65 L38.18,179.91 L38.78,181.88 L39.37,183.22 L39.97,183.97 L40.57,184.31 L41.17,184.44 L41.76,184.49 L42.36,184.50 L42.96,184.50 L43.56,184.50 L44.15,184.50 L44.75,184.50 L45.35,184.50 L45.95,184.50 L46.54,184.50 L47.14,184.50 L47.74,184.50 L48.34,184.50 L48.93,184.50 L49.53,184.50 L50.13,184.50 L50.73,184.50 L51.32,184.50 L51.92,184.50 L52.52,184.50 L53.12,184.50 L53.71,184.50 L54.31,184.50 L54.91,184.50 L55.51,184.50 L56.10,184.50 L56.70,184.50" fill="none" stroke="#e0b0b4" stroke-width="0.45"/>
<path d="M32.80,183.76 L33.40,183.20 L34.00,182.39 L34.59,181.31 L35.19,179.99 L35.79,178.49 L36.39,176.91 L36.98,175.28 L37.58,173.63 L38.18,171.93 L38.78,170.16 L39.37,168.40 L39.97,166.82 L40.57,165.69 L41.17,165.29 L41.76,165.81 L42.36,167.26 L42.96,169.48 L43.56,172.17 L44.15,174.98 L44.75,177.58 L45.35,179.78 L45.95,181.47 L46.54,182.67 L47.14,183.47 L47.74,183.95 L48.34,184.23 L48.93,184.37 L49.53,184.44 L50.13,184.48 L50.73,184.49 L51.32,184.50 L51.92,184.50 L52.52,184.50 L53.12,184.50 L53.71,184.50 L54.31,184.50 L54.91,184.50 L55.51,184.50 L56.10,184.50 L56.70,184.50 L56.70,184.50 L32.80,184.50 Z" fill="#ececf8" stroke="none"/>
<path d="M32.80,183.76 L33.40,183.20 L34.00,182.39 L34.59,181.31 L35.19,179.99 L35.79,178.49 L36.39,176.91 L36.98,175.28 L37.58,173.63 L38.18,171.93 L38.78,170.16 L39.37,168.40 L39.97,166.82 L40.57,165.69 L41.17,165.29 L41.76,165.81 L42.36,167.26 L42.96,169.48 L43.56,172.17 L44.15,174.98 L44.75,177.58 L45.35,179.78 L45.95,181.47 L46.54,182.67 L47.14,183.47 L47.74,183.95 L48.34,184.23 L48.93,184.37 L49.53,184.44 L50.13,184.48 L50.73,184.49 L51.32,184.50 L51.92,184.50 L52.52,184.50 L53.12,184.50 L53.71,184.50 L54.31,184.50 L54.91,184.50 L55.51,184.50 L56.10,184.50 L56.70,184.50" fill="none" stroke="#7c7cc0" stroke-width="0.5"/>
<line x1="32.30" y1="184.80" x2="57.20" y2="184.80" stroke="#888" stroke-width="0.8"/>
<line x1="35.10" y1="186.90" x2="35.10" y2="188.10" stroke="#bbb" stroke-width="0.6"/>
<line x1="39.90" y1="186.90" x2="39.90" y2="188.10" stroke="#bbb" stroke-width="0.6"/>
<line x1="44.70" y1="186.90" x2="44.70" y2="188.10" stroke="#bbb" stroke-width="0.6"/>
<line x1="49.50" y1="186.90" x2="49.50" y2="188.10" stroke="#bbb" stroke-width="0.6"/>
<line x1="54.30" y1="186.90" x2="54.30" y2="188.10" stroke="#bbb" stroke-width="0.6"/>
<text x="55.90" y="164.50" font-size="3.7" text-anchor="end" fill="#000" stroke="#000" stroke-width="0.12">395</text>
<rect x="62.60" y="160.60" width="24.30" height="24.20" fill="#fff" stroke="#b4b4b4" stroke-width="0.7"/>
<path d="M62.80,183.24 L63.40,182.23 L64.00,180.22 L64.59,176.78 L65.19,171.97 L65.79,166.91 L66.39,163.48 L66.98,163.10 L67.58,165.63 L68.18,169.54 L68.78,173.08 L69.37,175.42 L69.97,176.65 L70.57,177.29 L71.17,177.75 L71.76,178.24 L72.36,178.83 L72.96,179.50 L73.56,180.21 L74.15,180.92 L74.75,181.59 L75.35,182.20 L75.95,182.73 L76.54,183.18 L77.14,183.54 L77.74,183.82 L78.34,184.03 L78.93,184.19 L79.53,184.30 L80.13,184.37 L80.73,184.42 L81.32,184.45 L81.92,184.47 L82.52,184.48 L83.12,184.49 L83.71,184.50 L84.31,184.50 L84.91,184.50 L85.51,184.50 L86.10,184.50 L86.70,184.50 L86.70,184.50 L62.80,184.50 Z" fill="#ececf8" stroke="none"/>
<path d="M62.80,183.24 L63.40,182.23 L64.00,180.22 L64.59,176.78 L65.19,171.97 L65.79,166.91 L66.39,163.48 L66.98,163.10 L67.58,165.63 L68.18,169.54 L68.78,173.08 L69.37,175.42 L69.97,176.65 L70.57,177.29 L71.17,177.75 L71.76,178.24 L72.36,178.83 L72.96,179.50 L73.56,180.21 L74.15,180.92 L74.75,181.59 L75.35,182.20 L75.95,182.73 L76.54,183.18 L77.14,183.54 L77.74,183.82 L78.34,184.03 L78.93,184.19 L79.53,184.30 L80.13,184.37 L80.73,184.42 L81.32,184.45 L81.92,184.47 L82.52,184.48 L83.12,184.49 L83.71,184.50 L84.31,184.50 L84.91,184.50 L85.51,184.50 L86.10,184.50 L86.70,184.50" fill="none" stroke="#7c7cc0" stroke-width="0.5"/>
<line x1="62.30" y1="184.80" x2="87.20" y2="184.80" stroke="#888" stroke-width="0.8"/>
<line x1="65.10" y1="186.90" x2="65.10" y2="188.10" stroke="#bbb" stroke-width="0.6"/>
<line x1="69.90" y1="186.90" x2="69.90" y2="188.10" stroke="#bbb" stroke-width="0.6"/>
<line x1="74.70" y1="186.90" x2="74.70" y2="188.10" stroke="#bbb" stroke-width="0.6"/>
<line x1="79.50" y1="186.90" x2="79.50" y2="188.10" stroke="#bbb" stroke-width="0.6"/>
<line x1="84.30" y1="186.90" x2="84.30" y2="188.10" stroke="#bbb" stroke-width="0.6"/>
<text x="85.90" y="164.50" font-size="3.7" text-anchor="end" fill="#000" stroke="#000" stroke-width="0.12">60</text>
<rect x="92.40" y="160.60" width="24.30" height="24.20" fill="#fff" stroke="#b4b4b4" stroke-width="0.7"/>
<path d="M92.60,183.86 L93.20,182.97 L93.80,181.64 L94.39,180.33 L94.99,179.78 L95.59,180.33 L96.19,181.64 L96.78,182.97 L97.38,183.86 L97.98,184.29 L98.58,184.45 L99.17,184.49 L99.77,184.50 L100.37,184.50 L100.97,184.50 L101.56,184.50 L102.16,184.50 L102.76,184.50 L103.36,184.50 L103.95,184.50 L104.55,184.50 L105.15,184.50 L105.75,184.50 L106.34,184.50 L106.94,184.50 L107.54,184.50 L108.14,184.50 L108.73,184.50 L109.33,184.50 L109.93,184.50 L110.53,184.50 L111.12,184.50 L111.72,184.50 L112.32,184.50 L112.92,184.50 L113.51,184.50 L114.11,184.50 L114.71,184.50 L115.31,184.50 L115.90,184.50 L116.50,184.50" fill="none" stroke="#e0b0b4" stroke-width="0.45"/>
<path d="M92.60,184.50 L93.20,184.49 L93.80,184.48 L94.39,184.43 L94.99,184.29 L95.59,183.98 L96.19,183.32 L96.78,182.13 L97.38,180.23 L97.98,177.62 L98.58,174.58 L99.17,171.69 L99.77,169.70 L100.37,169.19 L100.97,170.34 L101.56,172.78 L102.16,175.82 L102.76,178.74 L103.36,181.08 L103.95,182.69 L104.55,183.64 L105.15,184.13 L105.75,184.36 L106.34,184.45 L106.94,184.49 L107.54,184.50 L108.14,184.50 L108.73,184.50 L109.33,184.50 L109.93,184.50 L110.53,184.50 L111.12,184.50 L111.72,184.50 L112.32,184.50 L112.92,184.50 L113.51,184.50 L114.11,184.50 L114.71,184.50 L115.31,184.50 L115.90,184.50 L116.50,184.50 L116.50,184.50 L92.60,184.50 Z" fill="#ececf8" stroke="none"/>
<path d="M92.60,184.50 L93.20,184.49 L93.80,184.48 L94.39,184.43 L94.99,184.29 L95.59,183.98 L96.19,183.32 L96.78,182.13 L97.38,180.23 L97.98,177.62 L98.58,174.58 L99.17,171.69 L99.77,169.70 L100.37,169.19 L100.97,170.34 L101.56,172.78 L102.16,175.82 L102.76,178.74 L103.36,181.08 L103.95,182.69 L104.55,183.64 L105.15,184.13 L105.75,184.36 L106.34,184.45 L106.94,184.49 L107.54,184.50 L108.14,184.50 L108.73,184.50 L109.33,184.50 L109.93,184.50 L110.53,184.50 L111.12,184.50 L111.72,184.50 L112.32,184.50 L112.92,184.50 L113.51,184.50 L114.11,184.50 L114.71,184.50 L115.31,184.50 L115.90,184.50 L116.50,184.50" fill="none" stroke="#7c7cc0" stroke-width="0.5"/>
<line x1="92.10" y1="184.80" x2="117.00" y2="184.80" stroke="#888" stroke-width="0.8"/>
<line x1="94.90" y1="186.90" x2="94.90" y2="188.10" stroke="#bbb" stroke-width="0.6"/>
<line x1="99.70" y1="186.90" x2="99.70" y2="188.10" stroke="#bbb" stroke-width="0.6"/>
<line x1="104.50" y1="186.90" x2="104.50" y2="188.10" stroke="#bbb" stroke-width="0.6"/>
<line x1="109.30" y1="186.90" x2="109.30" y2="188.10" stroke="#bbb" stroke-width="0.6"/>
<line x1="114.10" y1="186.90" x2="114.10" y2="188.10" stroke="#bbb" stroke-width="0.6"/>
<text x="115.70" y="164.50" font-size="3.7" text-anchor="end" fill="#000" stroke="#000" stroke-width="0.12">224</text>
<rect x="122.60" y="160.60" width="24.30" height="24.20" fill="#fff" stroke="#b4b4b4" stroke-width="0.7"/>
<path d="M122.80,184.24 L123.40,183.74 L123.99,182.60 L124.59,180.47 L125.19,177.22 L125.79,173.28 L126.38,169.78 L126.98,168.03 L127.58,168.80 L128.18,171.75 L128.78,175.68 L129.37,179.30 L129.97,181.88 L130.57,183.38 L131.16,184.09 L131.76,184.37 L132.36,184.47 L132.96,184.49 L133.56,184.50 L134.15,184.50 L134.75,184.50 L135.35,184.50 L135.94,184.50 L136.54,184.50 L137.14,184.50 L137.74,184.50 L138.34,184.50 L138.93,184.50 L139.53,184.50 L140.13,184.50 L140.72,184.50 L141.32,184.50 L141.92,184.50 L142.52,184.50 L143.12,184.50 L143.71,184.50 L144.31,184.50 L144.91,184.50 L145.50,184.50 L146.10,184.50 L146.70,184.50 L146.70,184.50 L122.80,184.50 Z" fill="#ececf8" stroke="none"/>
<path d="M122.80,184.24 L123.40,183.74 L123.99,182.60 L124.59,180.47 L125.19,177.22 L125.79,173.28 L126.38,169.78 L126.98,168.03 L127.58,168.80 L128.18,171.75 L128.78,175.68 L129.37,179.30 L129.97,181.88 L130.57,183.38 L131.16,184.09 L131.76,184.37 L132.36,184.47 L132.96,184.49 L133.56,184.50 L134.15,184.50 L134.75,184.50 L135.35,184.50 L135.94,184.50 L136.54,184.50 L137.14,184.50 L137.74,184.50 L138.34,184.50 L138.93,184.50 L139.53,184.50 L140.13,184.50 L140.72,184.50 L141.32,184.50 L141.92,184.50 L142.52,184.50 L143.12,184.50 L143.71,184.50 L144.31,184.50 L144.91,184.50 L145.50,184.50 L146.10,184.50 L146.70,184.50" fill="none" stroke="#7c7cc0" stroke-width="0.5"/>
<line x1="122.30" y1="184.80" x2="147.20" y2="184.80" stroke="#888" stroke-width="0.8"/>
<line x1="125.10" y1="186.90" x2="125.10" y2="188.10" stroke="#bbb" stroke-width="0.6"/>
<line x1="129.90" y1="186.90" x2="129.90" y2="188.10" stroke="#bbb" stroke-width="0.6"/>
<line x1="134.70" y1="186.90" x2="134.70" y2="188.10" stroke="#bbb" stroke-width="0.6"/>
<line x1="139.50" y1="186.90" x2="139.50" y2="188.10" stroke="#bbb" stroke-width="0.6"/>
<line x1="144.30" y1="186.90" x2="144.30" y2="188.10" stroke="#bbb" stroke-width="0.6"/>
<text x="145.90" y="164.50" font-size="3.7" text-anchor="end" fill="#000" stroke="#000" stroke-width="0.12">16</text>
<rect x="152.60" y="160.60" width="24.30" height="24.20" fill="#fff" stroke="#b4b4b4" stroke-width="0.7"/>
<path d="M152.80,184.50 L153.40,184.48 L153.99,184.44 L154.59,184.31 L155.19,183.96 L155.79,183.20 L156.38,181.74 L156.98,179.35 L157.58,176.11 L158.18,172.50 L158.77,169.48 L159.37,168.02 L159.97,168.66 L160.57,171.17 L161.16,174.66 L161.76,178.14 L162.36,180.90 L162.96,182.71 L163.55,183.72 L164.15,184.20 L164.75,184.40 L165.35,184.47 L165.94,184.49 L166.54,184.50 L167.14,184.50 L167.74,184.50 L168.33,184.50 L168.93,184.50 L169.53,184.50 L170.13,184.50 L170.72,184.50 L171.32,184.50 L171.92,184.50 L172.52,184.50 L173.11,184.50 L173.71,184.50 L174.31,184.50 L174.91,184.50 L175.50,184.50 L176.10,184.50 L176.70,184.50 L176.70,184.50 L152.80,184.50 Z" fill="#ececf8" stroke="none"/>
<path d="M152.80,184.50 L153.40,184.48 L153.99,184.44 L154.59,184.31 L155.19,183.96 L155.79,183.20 L156.38,181.74 L156.98,179.35 L157.58,176.11 L158.18,172.50 L158.77,169.48 L159.37,168.02 L159.97,168.66 L160.57,171.17 L161.16,174.66 L161.76,178.14 L162.36,180.90 L162.96,182.71 L163.55,183.72 L164.15,184.20 L164.75,184.40 L165.35,184.47 L165.94,184.49 L166.54,184.50 L167.14,184.50 L167.74,184.50 L168.33,184.50 L168.93,184.50 L169.53,184.50 L170.13,184.50 L170.72,184.50 L171.32,184.50 L171.92,184.50 L172.52,184.50 L173.11,184.50 L173.71,184.50 L174.31,184.50 L174.91,184.50 L175.50,184.50 L176.10,184.50 L176.70,184.50" fill="none" stroke="#7c7cc0" stroke-width="0.5"/>
<line x1="152.30" y1="184.80" x2="177.20" y2="184.80" stroke="#888" stroke-width="0.8"/>
<line x1="155.10" y1="186.90" x2="155.10" y2="188.10" stroke="#bbb" stroke-width="0.6"/>
<line x1="159.90" y1="186.90" x2="159.90" y2="188.10" stroke="#bbb" stroke-width="0.6"/>
<line x1="164.70" y1="186.90" x2="164.70" y2="188.10" stroke="#bbb" stroke-width="0.6"/>
<line x1="169.50" y1="186.90" x2="169.50" y2="188.10" stroke="#bbb" stroke-width="0.6"/>
<line x1="174.30" y1="186.90" x2="174.30" y2="188.10" stroke="#bbb" stroke-width="0.6"/>
<text x="175.90" y="164.50" font-size="3.7" text-anchor="end" fill="#000" stroke="#000" stroke-width="0.12">74</text>
<rect x="182.10" y="160.60" width="24.30" height="24.20" fill="#fff" stroke="#b4b4b4" stroke-width="0.7"/>
<path d="M182.30,184.50 L182.90,184.49 L183.49,184.44 L184.09,184.31 L184.69,183.97 L185.29,183.22 L185.88,181.88 L186.48,179.91 L187.08,177.65 L187.68,175.79 L188.27,175.06 L188.87,175.79 L189.47,177.65 L190.07,179.91 L190.66,181.88 L191.26,183.22 L191.86,183.97 L192.46,184.31 L193.05,184.44 L193.65,184.49 L194.25,184.50 L194.85,184.50 L195.44,184.50 L196.04,184.50 L196.64,184.50 L197.24,184.50 L197.83,184.50 L198.43,184.50 L199.03,184.50 L199.63,184.50 L200.22,184.50 L200.82,184.50 L201.42,184.50 L202.02,184.50 L202.61,184.50 L203.21,184.50 L203.81,184.50 L204.41,184.50 L205.00,184.50 L205.60,184.50 L206.20,184.50" fill="none" stroke="#e0b0b4" stroke-width="0.45"/>
<path d="M182.30,184.50 L182.90,184.50 L183.49,184.50 L184.09,184.50 L184.69,184.50 L185.29,184.50 L185.88,184.49 L186.48,184.47 L187.08,184.43 L187.68,184.33 L188.27,184.12 L188.87,183.69 L189.47,182.94 L190.07,181.71 L190.66,179.91 L191.26,177.53 L191.86,174.77 L192.46,171.96 L193.05,169.62 L193.65,168.22 L194.25,168.09 L194.85,169.25 L195.44,171.44 L196.04,174.19 L196.64,177.00 L197.24,179.48 L197.83,181.40 L198.43,182.73 L199.03,183.57 L199.63,184.05 L200.22,184.30 L200.82,184.42 L201.42,184.47 L202.02,184.49 L202.61,184.50 L203.21,184.50 L203.81,184.50 L204.41,184.50 L205.00,184.50 L205.60,184.50 L206.20,184.50 L206.20,184.50 L182.30,184.50 Z" fill="#ececf8" stroke="none"/>
<path d="M182.30,184.50 L182.90,184.50 L183.49,184.50 L184.09,184.50 L184.69,184.50 L185.29,184.50 L185.88,184.49 L186.48,184.47 L187.08,184.43 L187.68,184.33 L188.27,184.12 L188.87,183.69 L189.47,182.94 L190.07,181.71 L190.66,179.91 L191.26,177.53 L191.86,174.77 L192.46,171.96 L193.05,169.62 L193.65,168.22 L194.25,168.09 L194.85,169.25 L195.44,171.44 L196.04,174.19 L196.64,177.00 L197.24,179.48 L197.83,181.40 L198.43,182.73 L199.03,183.57 L199.63,184.05 L200.22,184.30 L200.82,184.42 L201.42,184.47 L202.02,184.49 L202.61,184.50 L203.21,184.50 L203.81,184.50 L204.41,184.50 L205.00,184.50 L205.60,184.50 L206.20,184.50" fill="none" stroke="#7c7cc0" stroke-width="0.5"/>
<line x1="181.80" y1="184.80" x2="206.70" y2="184.80" stroke="#888" stroke-width="0.8"/>
<line x1="184.60" y1="186.90" x2="184.60" y2="188.10" stroke="#bbb" stroke-width="0.6"/>
<line x1="189.40" y1="186.90" x2="189.40" y2="188.10" stroke="#bbb" stroke-width="0.6"/>
<line x1="194.20" y1="186.90" x2="194.20" y2="188.10" stroke="#bbb" stroke-width="0.6"/>
<line x1="199.00" y1="186.90" x2="199.00" y2="188.10" stroke="#bbb" stroke-width="0.6"/>
<line x1="203.80" y1="186.90" x2="203.80" y2="188.10" stroke="#bbb" stroke-width="0.6"/>
<text x="205.40" y="164.50" font-size="3.7" text-anchor="end" fill="#000" stroke="#000" stroke-width="0.12">431</text>
<rect x="211.90" y="160.60" width="24.30" height="24.20" fill="#fff" stroke="#b4b4b4" stroke-width="0.7"/>
<path d="M212.10,184.50 L212.70,184.49 L213.29,184.46 L213.89,184.40 L214.49,184.23 L215.09,183.88 L215.69,183.22 L216.28,182.15 L216.88,180.62 L217.48,178.77 L218.07,176.94 L218.67,175.57 L219.27,175.06 L219.87,175.57 L220.47,176.94 L221.06,178.77 L221.66,180.62 L222.26,182.15 L222.85,183.22 L223.45,183.88 L224.05,184.23 L224.65,184.40 L225.25,184.46 L225.84,184.49 L226.44,184.50 L227.04,184.50 L227.63,184.50 L228.23,184.50 L228.83,184.50 L229.43,184.50 L230.03,184.50 L230.62,184.50 L231.22,184.50 L231.82,184.50 L232.41,184.50 L233.01,184.50 L233.61,184.50 L234.21,184.50 L234.81,184.50 L235.40,184.50 L236.00,184.50" fill="none" stroke="#e0b0b4" stroke-width="0.45"/>
<path d="M212.10,184.50 L212.70,184.50 L213.29,184.50 L213.89,184.50 L214.49,184.50 L215.09,184.50 L215.69,184.50 L216.28,184.49 L216.88,184.48 L217.48,184.42 L218.07,184.24 L218.67,183.81 L219.27,182.86 L219.87,181.11 L220.47,178.35 L221.06,174.74 L221.66,170.91 L222.26,167.93 L222.85,166.80 L223.45,167.93 L224.05,170.91 L224.65,174.74 L225.25,178.35 L225.84,181.11 L226.44,182.86 L227.04,183.81 L227.63,184.24 L228.23,184.42 L228.83,184.48 L229.43,184.49 L230.03,184.50 L230.62,184.50 L231.22,184.50 L231.82,184.50 L232.41,184.50 L233.01,184.50 L233.61,184.50 L234.21,184.50 L234.81,184.50 L235.40,184.50 L236.00,184.50 L236.00,184.50 L212.10,184.50 Z" fill="#ececf8" stroke="none"/>
<path d="M212.10,184.50 L212.70,184.50 L213.29,184.50 L213.89,184.50 L214.49,184.50 L215.09,184.50 L215.69,184.50 L216.28,184.49 L216.88,184.48 L217.48,184.42 L218.07,184.24 L218.67,183.81 L219.27,182.86 L219.87,181.11 L220.47,178.35 L221.06,174.74 L221.66,170.91 L222.26,167.93 L222.85,166.80 L223.45,167.93 L224.05,170.91 L224.65,174.74 L225.25,178.35 L225.84,181.11 L226.44,182.86 L227.04,183.81 L227.63,184.24 L228.23,184.42 L228.83,184.48 L229.43,184.49 L230.03,184.50 L230.62,184.50 L231.22,184.50 L231.82,184.50 L232.41,184.50 L233.01,184.50 L233.61,184.50 L234.21,184.50 L234.81,184.50 L235.40,184.50 L236.00,184.50" fill="none" stroke="#7c7cc0" stroke-width="0.5"/>
<line x1="211.60" y1="184.80" x2="236.50" y2="184.80" stroke="#888" stroke-width="0.8"/>
<line x1="214.40" y1="186.90" x2="214.40" y2="188.10" stroke="#bbb" stroke-width="0.6"/>
<line x1="219.20" y1="186.90" x2="219.20" y2="188.10" stroke="#bbb" stroke-width="0.6"/>
<line x1="224.00" y1="186.90" x2="224.00" y2="188.10" stroke="#bbb" stroke-width="0.6"/>
<line x1="228.80" y1="186.90" x2="228.80" y2="188.10" stroke="#bbb" stroke-width="0.6"/>
<line x1="233.60" y1="186.90" x2="233.60" y2="188.10" stroke="#bbb" stroke-width="0.6"/>
<text x="235.20" y="164.50" font-size="3.7" text-anchor="end" fill="#000" stroke="#000" stroke-width="0.12">838</text>
<rect x="32.60" y="191.10" width="24.30" height="24.20" fill="#fff" stroke="#b4b4b4" stroke-width="0.7"/>
<path d="M32.80,211.57 L33.40,210.71 L34.00,210.00 L34.59,209.54 L35.19,209.26 L35.79,208.94 L36.39,208.25 L36.98,206.88 L37.58,204.70 L38.18,202.01 L38.78,199.47 L39.37,197.91 L39.97,197.94 L40.57,199.66 L41.17,202.62 L41.76,206.04 L42.36,209.20 L42.96,211.64 L43.56,213.25 L44.15,214.19 L44.75,214.66 L45.35,214.87 L45.95,214.96 L46.54,214.99 L47.14,215.00 L47.74,215.00 L48.34,215.00 L48.93,215.00 L49.53,215.00 L50.13,215.00 L50.73,215.00 L51.32,215.00 L51.92,215.00 L52.52,215.00 L53.12,215.00 L53.71,215.00 L54.31,215.00 L54.91,215.00 L55.51,215.00 L56.10,215.00 L56.70,215.00 L56.70,215.00 L32.80,215.00 Z" fill="#ececf8" stroke="none"/>
<path d="M32.80,211.57 L33.40,210.71 L34.00,210.00 L34.59,209.54 L35.19,209.26 L35.79,208.94 L36.39,208.25 L36.98,206.88 L37.58,204.70 L38.18,202.01 L38.78,199.47 L39.37,197.91 L39.97,197.94 L40.57,199.66 L41.17,202.62 L41.76,206.04 L42.36,209.20 L42.96,211.64 L43.56,213.25 L44.15,214.19 L44.75,214.66 L45.35,214.87 L45.95,214.96 L46.54,214.99 L47.14,215.00 L47.74,215.00 L48.34,215.00 L48.93,215.00 L49.53,215.00 L50.13,215.00 L50.73,215.00 L51.32,215.00 L51.92,215.00 L52.52,215.00 L53.12,215.00 L53.71,215.00 L54.31,215.00 L54.91,215.00 L55.51,215.00 L56.10,215.00 L56.70,215.00" fill="none" stroke="#7c7cc0" stroke-width="0.5"/>
<line x1="32.30" y1="215.30" x2="57.20" y2="215.30" stroke="#888" stroke-width="0.8"/>
<line x1="35.10" y1="217.40" x2="35.10" y2="218.60" stroke="#bbb" stroke-width="0.6"/>
<line x1="39.90" y1="217.40" x2="39.90" y2="218.60" stroke="#bbb" stroke-width="0.6"/>
<line x1="44.70" y1="217.40" x2="44.70" y2="218.60" stroke="#bbb" stroke-width="0.6"/>
<line x1="49.50" y1="217.40" x2="49.50" y2="218.60" stroke="#bbb" stroke-width="0.6"/>
<line x1="54.30" y1="217.40" x2="54.30" y2="218.60" stroke="#bbb" stroke-width="0.6"/>
<text x="55.90" y="195.00" font-size="3.7" text-anchor="end" fill="#000" stroke="#000" stroke-width="0.12">126</text>
<rect x="62.60" y="191.10" width="24.30" height="24.20" fill="#fff" stroke="#b4b4b4" stroke-width="0.7"/>
<path d="M62.80,214.67 L63.40,213.94 L64.00,212.21 L64.59,208.97 L65.19,204.31 L65.79,199.44 L66.39,196.42 L66.98,196.78 L67.58,200.34 L68.18,205.32 L68.78,209.75 L69.37,212.66 L69.97,214.15 L70.57,214.74 L71.17,214.94 L71.76,214.99 L72.36,215.00 L72.96,215.00 L73.56,215.00 L74.15,215.00 L74.75,215.00 L75.35,215.00 L75.95,215.00 L76.54,215.00 L77.14,215.00 L77.74,215.00 L78.34,215.00 L78.93,215.00 L79.53,215.00 L80.13,215.00 L80.73,215.00 L81.32,215.00 L81.92,215.00 L82.52,215.00 L83.12,215.00 L83.71,215.00 L84.31,215.00 L84.91,215.00 L85.51,215.00 L86.10,215.00 L86.70,215.00 L86.70,215.00 L62.80,215.00 Z" fill="#ececf8" stroke="none"/>
<path d="M62.80,214.67 L63.40,213.94 L64.00,212.21 L64.59,208.97 L65.19,204.31 L65.79,199.44 L66.39,196.42 L66.98,196.78 L67.58,200.34 L68.18,205.32 L68.78,209.75 L69.37,212.66 L69.97,214.15 L70.57,214.74 L71.17,214.94 L71.76,214.99 L72.36,215.00 L72.96,215.00 L73.56,215.00 L74.15,215.00 L74.75,215.00 L75.35,215.00 L75.95,215.00 L76.54,215.00 L77.14,215.00 L77.74,215.00 L78.34,215.00 L78.93,215.00 L79.53,215.00 L80.13,215.00 L80.73,215.00 L81.32,215.00 L81.92,215.00 L82.52,215.00 L83.12,215.00 L83.71,215.00 L84.31,215.00 L84.91,215.00 L85.51,215.00 L86.10,215.00 L86.70,215.00" fill="none" stroke="#7c7cc0" stroke-width="0.5"/>
<line x1="62.30" y1="215.30" x2="87.20" y2="215.30" stroke="#888" stroke-width="0.8"/>
<line x1="65.10" y1="217.40" x2="65.10" y2="218.60" stroke="#bbb" stroke-width="0.6"/>
<line x1="69.90" y1="217.40" x2="69.90" y2="218.60" stroke="#bbb" stroke-width="0.6"/>
<line x1="74.70" y1="217.40" x2="74.70" y2="218.60" stroke="#bbb" stroke-width="0.6"/>
<line x1="79.50" y1="217.40" x2="79.50" y2="218.60" stroke="#bbb" stroke-width="0.6"/>
<line x1="84.30" y1="217.40" x2="84.30" y2="218.60" stroke="#bbb" stroke-width="0.6"/>
<text x="85.90" y="195.00" font-size="3.7" text-anchor="end" fill="#000" stroke="#000" stroke-width="0.12">17</text>
<rect x="92.40" y="191.10" width="24.30" height="24.20" fill="#fff" stroke="#b4b4b4" stroke-width="0.7"/>
<path d="M92.60,213.05 L93.20,212.12 L93.80,211.15 L94.39,210.35 L94.99,209.79 L95.59,209.42 L96.19,208.92 L96.78,207.90 L97.38,206.07 L97.98,203.52 L98.58,200.76 L99.17,198.62 L99.77,197.87 L100.37,198.87 L100.97,201.38 L101.56,204.69 L102.16,208.01 L102.76,210.76 L103.36,212.70 L103.95,213.88 L104.55,214.51 L105.15,214.81 L105.75,214.93 L106.34,214.98 L106.94,214.99 L107.54,215.00 L108.14,215.00 L108.73,215.00 L109.33,215.00 L109.93,215.00 L110.53,215.00 L111.12,215.00 L111.72,215.00 L112.32,215.00 L112.92,215.00 L113.51,215.00 L114.11,215.00 L114.71,215.00 L115.31,215.00 L115.90,215.00 L116.50,215.00 L116.50,215.00 L92.60,215.00 Z" fill="#ececf8" stroke="none"/>
<path d="M92.60,213.05 L93.20,212.12 L93.80,211.15 L94.39,210.35 L94.99,209.79 L95.59,209.42 L96.19,208.92 L96.78,207.90 L97.38,206.07 L97.98,203.52 L98.58,200.76 L99.17,198.62 L99.77,197.87 L100.37,198.87 L100.97,201.38 L101.56,204.69 L102.16,208.01 L102.76,210.76 L103.36,212.70 L103.95,213.88 L104.55,214.51 L105.15,214.81 L105.75,214.93 L106.34,214.98 L106.94,214.99 L107.54,215.00 L108.14,215.00 L108.73,215.00 L109.33,215.00 L109.93,215.00 L110.53,215.00 L111.12,215.00 L111.72,215.00 L112.32,215.00 L112.92,215.00 L113.51,215.00 L114.11,215.00 L114.71,215.00 L115.31,215.00 L115.90,215.00 L116.50,215.00" fill="none" stroke="#7c7cc0" stroke-width="0.5"/>
<line x1="92.10" y1="215.30" x2="117.00" y2="215.30" stroke="#888" stroke-width="0.8"/>
<line x1="94.90" y1="217.40" x2="94.90" y2="218.60" stroke="#bbb" stroke-width="0.6"/>
<line x1="99.70" y1="217.40" x2="99.70" y2="218.60" stroke="#bbb" stroke-width="0.6"/>
<line x1="104.50" y1="217.40" x2="104.50" y2="218.60" stroke="#bbb" stroke-width="0.6"/>
<line x1="109.30" y1="217.40" x2="109.30" y2="218.60" stroke="#bbb" stroke-width="0.6"/>
<line x1="114.10" y1="217.40" x2="114.10" y2="218.60" stroke="#bbb" stroke-width="0.6"/>
<text x="115.70" y="195.00" font-size="3.7" text-anchor="end" fill="#000" stroke="#000" stroke-width="0.12">14</text>
<rect x="122.60" y="191.10" width="24.30" height="24.20" fill="#fff" stroke="#b4b4b4" stroke-width="0.7"/>
<path d="M122.80,214.72 L123.40,214.18 L123.99,212.97 L124.59,210.68 L125.19,207.20 L125.79,202.98 L126.38,199.23 L126.98,197.36 L127.58,198.18 L128.18,201.34 L128.78,205.55 L129.37,209.42 L129.97,212.20 L130.57,213.80 L131.16,214.56 L131.76,214.86 L132.36,214.96 L132.96,214.99 L133.56,215.00 L134.15,215.00 L134.75,215.00 L135.35,215.00 L135.94,215.00 L136.54,215.00 L137.14,215.00 L137.74,215.00 L138.34,215.00 L138.93,215.00 L139.53,215.00 L140.13,215.00 L140.72,215.00 L141.32,215.00 L141.92,215.00 L142.52,215.00 L143.12,215.00 L143.71,215.00 L144.31,215.00 L144.91,215.00 L145.50,215.00 L146.10,215.00 L146.70,215.00 L146.70,215.00 L122.80,215.00 Z" fill="#ececf8" stroke="none"/>
<path d="M122.80,214.72 L123.40,214.18 L123.99,212.97 L124.59,210.68 L125.19,207.20 L125.79,202.98 L126.38,199.23 L126.98,197.36 L127.58,198.18 L128.18,201.34 L128.78,205.55 L129.37,209.42 L129.97,212.20 L130.57,213.80 L131.16,214.56 L131.76,214.86 L132.36,214.96 L132.96,214.99 L133.56,215.00 L134.15,215.00 L134.75,215.00 L135.35,215.00 L135.94,215.00 L136.54,215.00 L137.14,215.00 L137.74,215.00 L138.34,215.00 L138.93,215.00 L139.53,215.00 L140.13,215.00 L140.72,215.00 L141.32,215.00 L141.92,215.00 L142.52,215.00 L143.12,215.00 L143.71,215.00 L144.31,215.00 L144.91,215.00 L145.50,215.00 L146.10,215.00 L146.70,215.00" fill="none" stroke="#7c7cc0" stroke-width="0.5"/>
<line x1="122.30" y1="215.30" x2="147.20" y2="215.30" stroke="#888" stroke-width="0.8"/>
<line x1="125.10" y1="217.40" x2="125.10" y2="218.60" stroke="#bbb" stroke-width="0.6"/>
<line x1="129.90" y1="217.40" x2="129.90" y2="218.60" stroke="#bbb" stroke-width="0.6"/>
<line x1="134.70" y1="217.40" x2="134.70" y2="218.60" stroke="#bbb" stroke-width="0.6"/>
<line x1="139.50" y1="217.40" x2="139.50" y2="218.60" stroke="#bbb" stroke-width="0.6"/>
<line x1="144.30" y1="217.40" x2="144.30" y2="218.60" stroke="#bbb" stroke-width="0.6"/>
<text x="145.90" y="195.00" font-size="3.7" text-anchor="end" fill="#000" stroke="#000" stroke-width="0.12">5</text>
<rect x="152.60" y="191.10" width="24.30" height="24.20" fill="#fff" stroke="#b4b4b4" stroke-width="0.7"/>
<path d="M152.80,213.00 L153.40,211.94 L153.99,210.67 L154.59,209.20 L155.19,207.44 L155.79,205.24 L156.38,202.59 L156.98,199.80 L157.58,197.61 L158.18,196.88 L158.77,198.07 L159.37,200.97 L159.97,204.75 L160.57,208.41 L161.16,211.28 L161.76,213.16 L162.36,214.20 L162.96,214.70 L163.55,214.90 L164.15,214.97 L164.75,214.99 L165.35,215.00 L165.94,215.00 L166.54,215.00 L167.14,215.00 L167.74,215.00 L168.33,215.00 L168.93,215.00 L169.53,215.00 L170.13,215.00 L170.72,215.00 L171.32,215.00 L171.92,215.00 L172.52,215.00 L173.11,215.00 L173.71,215.00 L174.31,215.00 L174.91,215.00 L175.50,215.00 L176.10,215.00 L176.70,215.00 L176.70,215.00 L152.80,215.00 Z" fill="#ececf8" stroke="none"/>
<path d="M152.80,213.00 L153.40,211.94 L153.99,210.67 L154.59,209.20 L155.19,207.44 L155.79,205.24 L156.38,202.59 L156.98,199.80 L157.58,197.61 L158.18,196.88 L158.77,198.07 L159.37,200.97 L159.97,204.75 L160.57,208.41 L161.16,211.28 L161.76,213.16 L162.36,214.20 L162.96,214.70 L163.55,214.90 L164.15,214.97 L164.75,214.99 L165.35,215.00 L165.94,215.00 L166.54,215.00 L167.14,215.00 L167.74,215.00 L168.33,215.00 L168.93,215.00 L169.53,215.00 L170.13,215.00 L170.72,215.00 L171.32,215.00 L171.92,215.00 L172.52,215.00 L173.11,215.00 L173.71,215.00 L174.31,215.00 L174.91,215.00 L175.50,215.00 L176.10,215.00 L176.70,215.00" fill="none" stroke="#7c7cc0" stroke-width="0.5"/>
<line x1="152.30" y1="215.30" x2="177.20" y2="215.30" stroke="#888" stroke-width="0.8"/>
<line x1="155.10" y1="217.40" x2="155.10" y2="218.60" stroke="#bbb" stroke-width="0.6"/>
<line x1="159.90" y1="217.40" x2="159.90" y2="218.60" stroke="#bbb" stroke-width="0.6"/>
<line x1="164.70" y1="217.40" x2="164.70" y2="218.60" stroke="#bbb" stroke-width="0.6"/>
<line x1="169.50" y1="217.40" x2="169.50" y2="218.60" stroke="#bbb" stroke-width="0.6"/>
<line x1="174.30" y1="217.40" x2="174.30" y2="218.60" stroke="#bbb" stroke-width="0.6"/>
<text x="175.90" y="195.00" font-size="3.7" text-anchor="end" fill="#000" stroke="#000" stroke-width="0.12">30</text>
<rect x="182.10" y="191.10" width="24.30" height="24.20" fill="#fff" stroke="#b4b4b4" stroke-width="0.7"/>
<path d="M182.30,215.00 L182.90,215.00 L183.49,215.00 L184.09,214.99 L184.69,214.95 L185.29,214.87 L185.88,214.66 L186.48,214.22 L187.08,213.40 L187.68,212.06 L188.27,210.15 L188.87,207.84 L189.47,205.55 L190.07,203.84 L190.66,203.20 L191.26,203.84 L191.86,205.55 L192.46,207.84 L193.05,210.15 L193.65,212.06 L194.25,213.40 L194.85,214.22 L195.44,214.66 L196.04,214.87 L196.64,214.95 L197.24,214.99 L197.83,215.00 L198.43,215.00 L199.03,215.00 L199.63,215.00 L200.22,215.00 L200.82,215.00 L201.42,215.00 L202.02,215.00 L202.61,215.00 L203.21,215.00 L203.81,215.00 L204.41,215.00 L205.00,215.00 L205.60,215.00 L206.20,215.00" fill="none" stroke="#e0b0b4" stroke-width="0.45"/>
<path d="M182.30,211.55 L182.90,210.71 L183.49,209.86 L184.09,209.09 L184.69,208.46 L185.29,208.06 L185.88,207.91 L186.48,208.03 L187.08,208.36 L187.68,208.81 L188.27,209.17 L188.87,209.19 L189.47,208.58 L190.07,207.10 L190.66,204.76 L191.26,201.93 L191.86,199.30 L192.46,197.71 L193.05,197.76 L193.65,199.52 L194.25,202.52 L194.85,205.98 L195.44,209.16 L196.04,211.62 L196.64,213.24 L197.24,214.18 L197.83,214.66 L198.43,214.87 L199.03,214.96 L199.63,214.99 L200.22,215.00 L200.82,215.00 L201.42,215.00 L202.02,215.00 L202.61,215.00 L203.21,215.00 L203.81,215.00 L204.41,215.00 L205.00,215.00 L205.60,215.00 L206.20,215.00 L206.20,215.00 L182.30,215.00 Z" fill="#ececf8" stroke="none"/>
<path d="M182.30,211.55 L182.90,210.71 L183.49,209.86 L184.09,209.09 L184.69,208.46 L185.29,208.06 L185.88,207.91 L186.48,208.03 L187.08,208.36 L187.68,208.81 L188.27,209.17 L188.87,209.19 L189.47,208.58 L190.07,207.10 L190.66,204.76 L191.26,201.93 L191.86,199.30 L192.46,197.71 L193.05,197.76 L193.65,199.52 L194.25,202.52 L194.85,205.98 L195.44,209.16 L196.04,211.62 L196.64,213.24 L197.24,214.18 L197.83,214.66 L198.43,214.87 L199.03,214.96 L199.63,214.99 L200.22,215.00 L200.82,215.00 L201.42,215.00 L202.02,215.00 L202.61,215.00 L203.21,215.00 L203.81,215.00 L204.41,215.00 L205.00,215.00 L205.60,215.00 L206.20,215.00" fill="none" stroke="#7c7cc0" stroke-width="0.5"/>
<line x1="181.80" y1="215.30" x2="206.70" y2="215.30" stroke="#888" stroke-width="0.8"/>
<line x1="184.60" y1="217.40" x2="184.60" y2="218.60" stroke="#bbb" stroke-width="0.6"/>
<line x1="189.40" y1="217.40" x2="189.40" y2="218.60" stroke="#bbb" stroke-width="0.6"/>
<line x1="194.20" y1="217.40" x2="194.20" y2="218.60" stroke="#bbb" stroke-width="0.6"/>
<line x1="199.00" y1="217.40" x2="199.00" y2="218.60" stroke="#bbb" stroke-width="0.6"/>
<line x1="203.80" y1="217.40" x2="203.80" y2="218.60" stroke="#bbb" stroke-width="0.6"/>
<text x="205.40" y="195.00" font-size="3.7" text-anchor="end" fill="#000" stroke="#000" stroke-width="0.12">80</text>
<rect x="211.90" y="191.10" width="24.30" height="24.20" fill="#fff" stroke="#b4b4b4" stroke-width="0.7"/>
<path d="M212.10,215.00 L212.70,215.00 L213.29,215.00 L213.89,215.00 L214.49,215.00 L215.09,214.98 L215.69,214.92 L216.28,214.72 L216.88,214.21 L217.48,213.08 L218.07,211.06 L218.67,208.11 L219.27,204.72 L219.87,201.93 L220.47,200.84 L221.06,201.93 L221.66,204.72 L222.26,208.11 L222.85,211.06 L223.45,213.08 L224.05,214.21 L224.65,214.72 L225.25,214.92 L225.84,214.98 L226.44,215.00 L227.04,215.00 L227.63,215.00 L228.23,215.00 L228.83,215.00 L229.43,215.00 L230.03,215.00 L230.62,215.00 L231.22,215.00 L231.82,215.00 L232.41,215.00 L233.01,215.00 L233.61,215.00 L234.21,215.00 L234.81,215.00 L235.40,215.00 L236.00,215.00" fill="none" stroke="#e0b0b4" stroke-width="0.45"/>
<path d="M212.10,215.00 L212.70,215.00 L213.29,215.00 L213.89,215.00 L214.49,215.00 L215.09,215.00 L215.69,215.00 L216.28,215.00 L216.88,215.00 L217.48,215.00 L218.07,215.00 L218.67,215.00 L219.27,215.00 L219.87,215.00 L220.47,214.99 L221.06,214.92 L221.66,214.65 L222.26,213.74 L222.85,211.50 L223.45,207.40 L224.05,202.15 L224.65,198.08 L225.25,197.65 L225.84,201.15 L226.44,206.38 L227.04,210.83 L227.63,213.43 L228.23,214.54 L228.83,214.89 L229.43,214.98 L230.03,215.00 L230.62,215.00 L231.22,215.00 L231.82,215.00 L232.41,215.00 L233.01,215.00 L233.61,215.00 L234.21,215.00 L234.81,215.00 L235.40,215.00 L236.00,215.00 L236.00,215.00 L212.10,215.00 Z" fill="#ececf8" stroke="none"/>
<path d="M212.10,215.00 L212.70,215.00 L213.29,215.00 L213.89,215.00 L214.49,215.00 L215.09,215.00 L215.69,215.00 L216.28,215.00 L216.88,215.00 L217.48,215.00 L218.07,215.00 L218.67,215.00 L219.27,215.00 L219.87,215.00 L220.47,214.99 L221.06,214.92 L221.66,214.65 L222.26,213.74 L222.85,211.50 L223.45,207.40 L224.05,202.15 L224.65,198.08 L225.25,197.65 L225.84,201.15 L226.44,206.38 L227.04,210.83 L227.63,213.43 L228.23,214.54 L228.83,214.89 L229.43,214.98 L230.03,215.00 L230.62,215.00 L231.22,215.00 L231.82,215.00 L232.41,215.00 L233.01,215.00 L233.61,215.00 L234.21,215.00 L234.81,215.00 L235.40,215.00 L236.00,215.00" fill="none" stroke="#7c7cc0" stroke-width="0.5"/>
<line x1="211.60" y1="215.30" x2="236.50" y2="215.30" stroke="#888" stroke-width="0.8"/>
<line x1="214.40" y1="217.40" x2="214.40" y2="218.60" stroke="#bbb" stroke-width="0.6"/>
<line x1="219.20" y1="217.40" x2="219.20" y2="218.60" stroke="#bbb" stroke-width="0.6"/>
<line x1="224.00" y1="217.40" x2="224.00" y2="218.60" stroke="#bbb" stroke-width="0.6"/>
<line x1="228.80" y1="217.40" x2="228.80" y2="218.60" stroke="#bbb" stroke-width="0.6"/>
<line x1="233.60" y1="217.40" x2="233.60" y2="218.60" stroke="#bbb" stroke-width="0.6"/>
<text x="235.20" y="195.00" font-size="3.7" text-anchor="end" fill="#000" stroke="#000" stroke-width="0.12">1752</text>
<text x="33.00" y="240.70" font-size="4.9" font-weight="bold" fill="#000" stroke="#000" stroke-width="0.1">Adhesion molecules</text>
<text x="165.00" y="240.70" font-size="4.9" font-weight="bold" fill="#000" stroke="#000" stroke-width="0.1">Others</text>
<text x="30.6" y="256.90" font-size="5.1" font-weight="bold" text-anchor="end" fill="#000" stroke="#000" stroke-width="0.12">Classical</text>
<text x="30.6" y="287.70" font-size="5.1" font-weight="bold" text-anchor="end" fill="#000" stroke="#000" stroke-width="0.12">Intermediate</text>
<text x="30.6" y="317.30" font-size="5.1" font-weight="bold" text-anchor="end" fill="#000" stroke="#000" stroke-width="0.12">Nonclassical</text>
<text x="45.35" y="336.50" font-size="5.1" text-anchor="middle" fill="#111" stroke="#111" stroke-width="0.08">CD11b</text>
<text x="75.25" y="336.50" font-size="5.1" text-anchor="middle" fill="#111" stroke="#111" stroke-width="0.08">CD33</text>
<text x="104.85" y="336.50" font-size="5.1" text-anchor="middle" fill="#111" stroke="#111" stroke-width="0.08">CD54</text>
<text x="135.05" y="336.50" font-size="5.1" text-anchor="middle" fill="#111" stroke="#111" stroke-width="0.08">CD62L</text>
<text x="176.25" y="336.50" font-size="5.1" text-anchor="middle" fill="#111" stroke="#111" stroke-width="0.08">CD115</text>
<text x="205.65" y="336.50" font-size="5.1" text-anchor="middle" fill="#111" stroke="#111" stroke-width="0.08">SLAN</text>
<rect x="32.90" y="244.70" width="24.30" height="23.70" fill="#fff" stroke="#b4b4b4" stroke-width="0.7"/>
<path d="M33.10,267.76 L33.70,267.00 L34.30,265.20 L34.89,261.83 L35.49,256.98 L36.09,251.92 L36.69,248.77 L37.28,249.15 L37.88,252.85 L38.48,258.03 L39.08,262.64 L39.67,265.67 L40.27,267.21 L40.87,267.83 L41.47,268.03 L42.06,268.09 L42.66,268.10 L43.26,268.10 L43.86,268.10 L44.45,268.10 L45.05,268.10 L45.65,268.10 L46.25,268.10 L46.84,268.10 L47.44,268.10 L48.04,268.10 L48.64,268.10 L49.23,268.10 L49.83,268.10 L50.43,268.10 L51.03,268.10 L51.62,268.10 L52.22,268.10 L52.82,268.10 L53.42,268.10 L54.01,268.10 L54.61,268.10 L55.21,268.10 L55.81,268.10 L56.40,268.10 L57.00,268.10" fill="none" stroke="#e0b0b4" stroke-width="0.45"/>
<path d="M33.10,268.10 L33.70,268.10 L34.30,268.10 L34.89,268.10 L35.49,268.10 L36.09,268.10 L36.69,268.10 L37.28,268.10 L37.88,268.10 L38.48,268.10 L39.08,268.10 L39.67,268.10 L40.27,268.10 L40.87,268.10 L41.47,268.10 L42.06,268.10 L42.66,268.10 L43.26,268.09 L43.86,268.00 L44.45,267.55 L45.05,266.01 L45.65,262.35 L46.25,256.69 L46.84,251.76 L47.44,251.22 L48.04,255.52 L48.64,261.34 L49.23,265.48 L49.83,267.37 L50.43,267.95 L51.03,268.08 L51.62,268.10 L52.22,268.10 L52.82,268.10 L53.42,268.10 L54.01,268.10 L54.61,268.10 L55.21,268.10 L55.81,268.10 L56.40,268.10 L57.00,268.10 L57.00,268.10 L33.10,268.10 Z" fill="#ececf8" stroke="none"/>
<path d="M33.10,268.10 L33.70,268.10 L34.30,268.10 L34.89,268.10 L35.49,268.10 L36.09,268.10 L36.69,268.10 L37.28,268.10 L37.88,268.10 L38.48,268.10 L39.08,268.10 L39.67,268.10 L40.27,268.10 L40.87,268.10 L41.47,268.10 L42.06,268.10 L42.66,268.10 L43.26,268.09 L43.86,268.00 L44.45,267.55 L45.05,266.01 L45.65,262.35 L46.25,256.69 L46.84,251.76 L47.44,251.22 L48.04,255.52 L48.64,261.34 L49.23,265.48 L49.83,267.37 L50.43,267.95 L51.03,268.08 L51.62,268.10 L52.22,268.10 L52.82,268.10 L53.42,268.10 L54.01,268.10 L54.61,268.10 L55.21,268.10 L55.81,268.10 L56.40,268.10 L57.00,268.10" fill="none" stroke="#7c7cc0" stroke-width="0.5"/>
<line x1="32.60" y1="268.40" x2="57.50" y2="268.40" stroke="#888" stroke-width="0.8"/>
<line x1="35.40" y1="270.50" x2="35.40" y2="271.70" stroke="#bbb" stroke-width="0.6"/>
<line x1="40.20" y1="270.50" x2="40.20" y2="271.70" stroke="#bbb" stroke-width="0.6"/>
<line x1="45.00" y1="270.50" x2="45.00" y2="271.70" stroke="#bbb" stroke-width="0.6"/>
<line x1="49.80" y1="270.50" x2="49.80" y2="271.70" stroke="#bbb" stroke-width="0.6"/>
<line x1="54.60" y1="270.50" x2="54.60" y2="271.70" stroke="#bbb" stroke-width="0.6"/>
<text x="56.20" y="248.60" font-size="3.7" text-anchor="end" fill="#000" stroke="#000" stroke-width="0.12">5166</text>
<rect x="62.80" y="244.70" width="24.30" height="23.70" fill="#fff" stroke="#b4b4b4" stroke-width="0.7"/>
<path d="M63.00,267.49 L63.60,267.00 L64.19,266.22 L64.79,265.10 L65.39,263.60 L65.99,261.75 L66.58,259.69 L67.18,257.64 L67.78,255.87 L68.38,254.67 L68.97,254.24 L69.57,254.67 L70.17,255.87 L70.77,257.64 L71.36,259.69 L71.96,261.75 L72.56,263.60 L73.16,265.10 L73.75,266.22 L74.35,267.00 L74.95,267.49 L75.55,267.78 L76.14,267.95 L76.74,268.03 L77.34,268.07 L77.94,268.09 L78.53,268.10 L79.13,268.10 L79.73,268.10 L80.33,268.10 L80.92,268.10 L81.52,268.10 L82.12,268.10 L82.72,268.10 L83.31,268.10 L83.91,268.10 L84.51,268.10 L85.11,268.10 L85.70,268.10 L86.30,268.10 L86.90,268.10" fill="none" stroke="#e0b0b4" stroke-width="0.45"/>
<path d="M63.00,268.10 L63.60,268.10 L64.19,268.10 L64.79,268.10 L65.39,268.10 L65.99,268.10 L66.58,268.10 L67.18,268.10 L67.78,268.10 L68.38,268.10 L68.97,268.10 L69.57,268.10 L70.17,268.10 L70.77,268.10 L71.36,268.10 L71.96,268.10 L72.56,268.10 L73.16,268.10 L73.75,268.10 L74.35,268.10 L74.95,268.10 L75.55,268.10 L76.14,268.10 L76.74,268.09 L77.34,267.98 L77.94,267.31 L78.53,264.66 L79.13,258.54 L79.73,251.07 L80.33,248.64 L80.92,253.84 L81.52,261.40 L82.12,266.08 L82.72,267.71 L83.31,268.05 L83.91,268.10 L84.51,268.10 L85.11,268.10 L85.70,268.10 L86.30,268.10 L86.90,268.10 L86.90,268.10 L63.00,268.10 Z" fill="#ececf8" stroke="none"/>
<path d="M63.00,268.10 L63.60,268.10 L64.19,268.10 L64.79,268.10 L65.39,268.10 L65.99,268.10 L66.58,268.10 L67.18,268.10 L67.78,268.10 L68.38,268.10 L68.97,268.10 L69.57,268.10 L70.17,268.10 L70.77,268.10 L71.36,268.10 L71.96,268.10 L72.56,268.10 L73.16,268.10 L73.75,268.10 L74.35,268.10 L74.95,268.10 L75.55,268.10 L76.14,268.10 L76.74,268.09 L77.34,267.98 L77.94,267.31 L78.53,264.66 L79.13,258.54 L79.73,251.07 L80.33,248.64 L80.92,253.84 L81.52,261.40 L82.12,266.08 L82.72,267.71 L83.31,268.05 L83.91,268.10 L84.51,268.10 L85.11,268.10 L85.70,268.10 L86.30,268.10 L86.90,268.10" fill="none" stroke="#7c7cc0" stroke-width="0.5"/>
<line x1="62.50" y1="268.40" x2="87.40" y2="268.40" stroke="#888" stroke-width="0.8"/>
<line x1="65.30" y1="270.50" x2="65.30" y2="271.70" stroke="#bbb" stroke-width="0.6"/>
<line x1="70.10" y1="270.50" x2="70.10" y2="271.70" stroke="#bbb" stroke-width="0.6"/>
<line x1="74.90" y1="270.50" x2="74.90" y2="271.70" stroke="#bbb" stroke-width="0.6"/>
<line x1="79.70" y1="270.50" x2="79.70" y2="271.70" stroke="#bbb" stroke-width="0.6"/>
<line x1="84.50" y1="270.50" x2="84.50" y2="271.70" stroke="#bbb" stroke-width="0.6"/>
<text x="86.10" y="248.60" font-size="3.7" text-anchor="end" fill="#000" stroke="#000" stroke-width="0.12">17826</text>
<rect x="92.40" y="244.70" width="24.30" height="23.70" fill="#fff" stroke="#b4b4b4" stroke-width="0.7"/>
<path d="M92.60,268.04 L93.20,267.85 L93.80,267.27 L94.39,265.81 L94.99,262.96 L95.59,258.62 L96.19,253.75 L96.78,250.27 L97.38,249.91 L97.98,252.87 L98.58,257.64 L99.17,262.20 L99.77,265.37 L100.37,267.06 L100.97,267.78 L101.56,268.02 L102.16,268.08 L102.76,268.10 L103.36,268.10 L103.95,268.10 L104.55,268.10 L105.15,268.10 L105.75,268.10 L106.34,268.10 L106.94,268.10 L107.54,268.10 L108.14,268.10 L108.73,268.10 L109.33,268.10 L109.93,268.10 L110.53,268.10 L111.12,268.10 L111.72,268.10 L112.32,268.10 L112.92,268.10 L113.51,268.10 L114.11,268.10 L114.71,268.10 L115.31,268.10 L115.90,268.10 L116.50,268.10" fill="none" stroke="#e0b0b4" stroke-width="0.45"/>
<path d="M92.60,268.10 L93.20,268.10 L93.80,268.10 L94.39,268.10 L94.99,268.10 L95.59,268.10 L96.19,268.10 L96.78,268.10 L97.38,268.10 L97.98,268.10 L98.58,268.10 L99.17,268.10 L99.77,268.10 L100.37,268.08 L100.97,267.98 L101.56,267.48 L102.16,265.73 L102.76,261.59 L103.36,255.17 L103.95,249.59 L104.55,248.97 L105.15,253.84 L105.75,260.43 L106.34,265.13 L106.94,267.27 L107.54,267.93 L108.14,268.08 L108.73,268.10 L109.33,268.10 L109.93,268.10 L110.53,268.10 L111.12,268.10 L111.72,268.10 L112.32,268.10 L112.92,268.10 L113.51,268.10 L114.11,268.10 L114.71,268.10 L115.31,268.10 L115.90,268.10 L116.50,268.10 L116.50,268.10 L92.60,268.10 Z" fill="#ececf8" stroke="none"/>
<path d="M92.60,268.10 L93.20,268.10 L93.80,268.10 L94.39,268.10 L94.99,268.10 L95.59,268.10 L96.19,268.10 L96.78,268.10 L97.38,268.10 L97.98,268.10 L98.58,268.10 L99.17,268.10 L99.77,268.10 L100.37,268.08 L100.97,267.98 L101.56,267.48 L102.16,265.73 L102.76,261.59 L103.36,255.17 L103.95,249.59 L104.55,248.97 L105.15,253.84 L105.75,260.43 L106.34,265.13 L106.94,267.27 L107.54,267.93 L108.14,268.08 L108.73,268.10 L109.33,268.10 L109.93,268.10 L110.53,268.10 L111.12,268.10 L111.72,268.10 L112.32,268.10 L112.92,268.10 L113.51,268.10 L114.11,268.10 L114.71,268.10 L115.31,268.10 L115.90,268.10 L116.50,268.10" fill="none" stroke="#7c7cc0" stroke-width="0.5"/>
<line x1="92.10" y1="268.40" x2="117.00" y2="268.40" stroke="#888" stroke-width="0.8"/>
<line x1="94.90" y1="270.50" x2="94.90" y2="271.70" stroke="#bbb" stroke-width="0.6"/>
<line x1="99.70" y1="270.50" x2="99.70" y2="271.70" stroke="#bbb" stroke-width="0.6"/>
<line x1="104.50" y1="270.50" x2="104.50" y2="271.70" stroke="#bbb" stroke-width="0.6"/>
<line x1="109.30" y1="270.50" x2="109.30" y2="271.70" stroke="#bbb" stroke-width="0.6"/>
<line x1="114.10" y1="270.50" x2="114.10" y2="271.70" stroke="#bbb" stroke-width="0.6"/>
<text x="115.70" y="248.60" font-size="3.7" text-anchor="end" fill="#000" stroke="#000" stroke-width="0.12">2231</text>
<rect x="122.60" y="244.70" width="24.30" height="23.70" fill="#fff" stroke="#b4b4b4" stroke-width="0.7"/>
<path d="M122.80,268.09 L123.40,268.06 L123.99,267.97 L124.59,267.77 L125.19,267.32 L125.79,266.46 L126.38,265.01 L126.98,262.90 L127.58,260.25 L128.18,257.51 L128.78,255.31 L129.37,254.27 L129.97,254.72 L130.57,256.52 L131.16,259.13 L131.76,261.89 L132.36,264.25 L132.96,265.96 L133.56,267.04 L134.15,267.63 L134.75,267.91 L135.35,268.03 L135.94,268.08 L136.54,268.09 L137.14,268.10 L137.74,268.10 L138.34,268.10 L138.93,268.10 L139.53,268.10 L140.13,268.10 L140.72,268.10 L141.32,268.10 L141.92,268.10 L142.52,268.10 L143.12,268.10 L143.71,268.10 L144.31,268.10 L144.91,268.10 L145.50,268.10 L146.10,268.10 L146.70,268.10" fill="none" stroke="#e0b0b4" stroke-width="0.45"/>
<path d="M122.80,268.10 L123.40,268.10 L123.99,268.10 L124.59,268.10 L125.19,268.10 L125.79,268.10 L126.38,268.10 L126.98,268.10 L127.58,268.10 L128.18,268.09 L128.78,268.05 L129.37,267.96 L129.97,267.73 L130.57,267.22 L131.16,266.20 L131.76,264.44 L132.36,261.80 L132.96,258.38 L133.56,254.68 L134.15,251.53 L134.75,249.78 L135.35,249.99 L135.94,252.07 L136.54,255.41 L137.14,259.10 L137.74,262.40 L138.34,264.86 L138.93,266.46 L139.53,267.35 L140.13,267.80 L140.72,267.99 L141.32,268.06 L141.92,268.09 L142.52,268.10 L143.12,268.10 L143.71,268.10 L144.31,268.10 L144.91,268.10 L145.50,268.10 L146.10,268.10 L146.70,268.10 L146.70,268.10 L122.80,268.10 Z" fill="#ececf8" stroke="none"/>
<path d="M122.80,268.10 L123.40,268.10 L123.99,268.10 L124.59,268.10 L125.19,268.10 L125.79,268.10 L126.38,268.10 L126.98,268.10 L127.58,268.10 L128.18,268.09 L128.78,268.05 L129.37,267.96 L129.97,267.73 L130.57,267.22 L131.16,266.20 L131.76,264.44 L132.36,261.80 L132.96,258.38 L133.56,254.68 L134.15,251.53 L134.75,249.78 L135.35,249.99 L135.94,252.07 L136.54,255.41 L137.14,259.10 L137.74,262.40 L138.34,264.86 L138.93,266.46 L139.53,267.35 L140.13,267.80 L140.72,267.99 L141.32,268.06 L141.92,268.09 L142.52,268.10 L143.12,268.10 L143.71,268.10 L144.31,268.10 L144.91,268.10 L145.50,268.10 L146.10,268.10 L146.70,268.10" fill="none" stroke="#7c7cc0" stroke-width="0.5"/>
<line x1="122.30" y1="268.40" x2="147.20" y2="268.40" stroke="#888" stroke-width="0.8"/>
<line x1="125.10" y1="270.50" x2="125.10" y2="271.70" stroke="#bbb" stroke-width="0.6"/>
<line x1="129.90" y1="270.50" x2="129.90" y2="271.70" stroke="#bbb" stroke-width="0.6"/>
<line x1="134.70" y1="270.50" x2="134.70" y2="271.70" stroke="#bbb" stroke-width="0.6"/>
<line x1="139.50" y1="270.50" x2="139.50" y2="271.70" stroke="#bbb" stroke-width="0.6"/>
<line x1="144.30" y1="270.50" x2="144.30" y2="271.70" stroke="#bbb" stroke-width="0.6"/>
<text x="145.90" y="248.60" font-size="3.7" text-anchor="end" fill="#000" stroke="#000" stroke-width="0.12">2164</text>
<rect x="163.80" y="244.70" width="24.30" height="23.70" fill="#fff" stroke="#b4b4b4" stroke-width="0.7"/>
<path d="M164.00,267.32 L164.60,265.82 L165.19,262.90 L165.79,258.86 L166.39,255.31 L166.99,254.31 L167.59,256.52 L168.18,260.53 L168.78,264.25 L169.38,266.57 L169.97,267.63 L170.57,267.99 L171.17,268.08 L171.77,268.10 L172.37,268.10 L172.96,268.10 L173.56,268.10 L174.16,268.10 L174.75,268.10 L175.35,268.10 L175.95,268.10 L176.55,268.10 L177.15,268.10 L177.74,268.10 L178.34,268.10 L178.94,268.10 L179.53,268.10 L180.13,268.10 L180.73,268.10 L181.33,268.10 L181.93,268.10 L182.52,268.10 L183.12,268.10 L183.72,268.10 L184.31,268.10 L184.91,268.10 L185.51,268.10 L186.11,268.10 L186.71,268.10 L187.30,268.10 L187.90,268.10" fill="none" stroke="#e0b0b4" stroke-width="0.45"/>
<path d="M164.00,268.10 L164.60,268.10 L165.19,268.10 L165.79,268.10 L166.39,268.08 L166.99,268.01 L167.59,267.79 L168.18,267.19 L168.78,265.84 L169.38,263.31 L169.97,259.45 L170.57,254.77 L171.17,250.60 L171.77,248.53 L172.37,249.45 L172.96,252.95 L173.56,257.61 L174.16,261.92 L174.75,264.99 L175.35,266.77 L175.95,267.61 L176.55,267.95 L177.15,268.06 L177.74,268.09 L178.34,268.10 L178.94,268.10 L179.53,268.10 L180.13,268.10 L180.73,268.10 L181.33,268.10 L181.93,268.10 L182.52,268.10 L183.12,268.10 L183.72,268.10 L184.31,268.10 L184.91,268.10 L185.51,268.10 L186.11,268.10 L186.71,268.10 L187.30,268.10 L187.90,268.10 L187.90,268.10 L164.00,268.10 Z" fill="#ececf8" stroke="none"/>
<path d="M164.00,268.10 L164.60,268.10 L165.19,268.10 L165.79,268.10 L166.39,268.08 L166.99,268.01 L167.59,267.79 L168.18,267.19 L168.78,265.84 L169.38,263.31 L169.97,259.45 L170.57,254.77 L171.17,250.60 L171.77,248.53 L172.37,249.45 L172.96,252.95 L173.56,257.61 L174.16,261.92 L174.75,264.99 L175.35,266.77 L175.95,267.61 L176.55,267.95 L177.15,268.06 L177.74,268.09 L178.34,268.10 L178.94,268.10 L179.53,268.10 L180.13,268.10 L180.73,268.10 L181.33,268.10 L181.93,268.10 L182.52,268.10 L183.12,268.10 L183.72,268.10 L184.31,268.10 L184.91,268.10 L185.51,268.10 L186.11,268.10 L186.71,268.10 L187.30,268.10 L187.90,268.10" fill="none" stroke="#7c7cc0" stroke-width="0.5"/>
<line x1="163.50" y1="268.40" x2="188.40" y2="268.40" stroke="#888" stroke-width="0.8"/>
<line x1="166.30" y1="270.50" x2="166.30" y2="271.70" stroke="#bbb" stroke-width="0.6"/>
<line x1="171.10" y1="270.50" x2="171.10" y2="271.70" stroke="#bbb" stroke-width="0.6"/>
<line x1="175.90" y1="270.50" x2="175.90" y2="271.70" stroke="#bbb" stroke-width="0.6"/>
<line x1="180.70" y1="270.50" x2="180.70" y2="271.70" stroke="#bbb" stroke-width="0.6"/>
<line x1="185.50" y1="270.50" x2="185.50" y2="271.70" stroke="#bbb" stroke-width="0.6"/>
<text x="187.10" y="248.60" font-size="3.7" text-anchor="end" fill="#000" stroke="#000" stroke-width="0.12">292</text>
<rect x="193.20" y="244.70" width="24.30" height="23.70" fill="#fff" stroke="#b4b4b4" stroke-width="0.7"/>
<path d="M193.40,268.10 L194.00,268.10 L194.59,268.10 L195.19,268.10 L195.79,268.10 L196.39,268.10 L196.98,268.10 L197.58,268.10 L198.18,268.10 L198.78,268.10 L199.37,268.10 L199.97,268.10 L200.57,268.07 L201.17,267.94 L201.76,267.43 L202.36,265.94 L202.96,262.64 L203.56,257.38 L204.15,251.70 L204.75,248.56 L205.35,249.97 L205.95,255.00 L206.54,260.73 L207.14,264.87 L207.74,267.00 L208.34,267.81 L208.93,268.04 L209.53,268.09 L210.13,268.10 L210.73,268.10 L211.32,268.10 L211.92,268.10 L212.52,268.10 L213.12,268.10 L213.71,268.10 L214.31,268.10 L214.91,268.10 L215.51,268.10 L216.10,268.10 L216.70,268.10 L217.30,268.10 L217.30,268.10 L193.40,268.10 Z" fill="#ececf8" stroke="none"/>
<path d="M193.40,268.10 L194.00,268.10 L194.59,268.10 L195.19,268.10 L195.79,268.10 L196.39,268.10 L196.98,268.10 L197.58,268.10 L198.18,268.10 L198.78,268.10 L199.37,268.10 L199.97,268.10 L200.57,268.07 L201.17,267.94 L201.76,267.43 L202.36,265.94 L202.96,262.64 L203.56,257.38 L204.15,251.70 L204.75,248.56 L205.35,249.97 L205.95,255.00 L206.54,260.73 L207.14,264.87 L207.74,267.00 L208.34,267.81 L208.93,268.04 L209.53,268.09 L210.13,268.10 L210.73,268.10 L211.32,268.10 L211.92,268.10 L212.52,268.10 L213.12,268.10 L213.71,268.10 L214.31,268.10 L214.91,268.10 L215.51,268.10 L216.10,268.10 L216.70,268.10 L217.30,268.10" fill="none" stroke="#7c7cc0" stroke-width="0.5"/>
<line x1="192.90" y1="268.40" x2="217.80" y2="268.40" stroke="#888" stroke-width="0.8"/>
<line x1="195.70" y1="270.50" x2="195.70" y2="271.70" stroke="#bbb" stroke-width="0.6"/>
<line x1="200.50" y1="270.50" x2="200.50" y2="271.70" stroke="#bbb" stroke-width="0.6"/>
<line x1="205.30" y1="270.50" x2="205.30" y2="271.70" stroke="#bbb" stroke-width="0.6"/>
<line x1="210.10" y1="270.50" x2="210.10" y2="271.70" stroke="#bbb" stroke-width="0.6"/>
<line x1="214.90" y1="270.50" x2="214.90" y2="271.70" stroke="#bbb" stroke-width="0.6"/>
<text x="216.50" y="248.60" font-size="3.7" text-anchor="end" fill="#000" stroke="#000" stroke-width="0.12">55</text>
<rect x="32.90" y="274.30" width="24.30" height="23.70" fill="#fff" stroke="#b4b4b4" stroke-width="0.7"/>
<path d="M33.10,295.92 L33.70,293.54 L34.30,289.71 L34.89,285.12 L35.49,281.44 L36.09,280.44 L36.69,282.67 L37.28,286.96 L37.88,291.40 L38.48,294.67 L39.08,296.50 L39.67,297.31 L40.27,297.60 L40.87,297.68 L41.47,297.70 L42.06,297.70 L42.66,297.70 L43.26,297.70 L43.86,297.70 L44.45,297.70 L45.05,297.70 L45.65,297.70 L46.25,297.70 L46.84,297.70 L47.44,297.70 L48.04,297.70 L48.64,297.70 L49.23,297.70 L49.83,297.70 L50.43,297.70 L51.03,297.70 L51.62,297.70 L52.22,297.70 L52.82,297.70 L53.42,297.70 L54.01,297.70 L54.61,297.70 L55.21,297.70 L55.81,297.70 L56.40,297.70 L57.00,297.70" fill="none" stroke="#e0b0b4" stroke-width="0.45"/>
<path d="M33.10,297.70 L33.70,297.70 L34.30,297.70 L34.89,297.70 L35.49,297.70 L36.09,297.70 L36.69,297.70 L37.28,297.70 L37.88,297.70 L38.48,297.70 L39.08,297.70 L39.67,297.70 L40.27,297.70 L40.87,297.70 L41.47,297.70 L42.06,297.69 L42.66,297.65 L43.26,297.39 L43.86,296.34 L44.45,293.45 L45.05,288.08 L45.65,282.00 L46.25,279.22 L46.84,282.00 L47.44,288.08 L48.04,293.45 L48.64,296.34 L49.23,297.39 L49.83,297.65 L50.43,297.69 L51.03,297.70 L51.62,297.70 L52.22,297.70 L52.82,297.70 L53.42,297.70 L54.01,297.70 L54.61,297.70 L55.21,297.70 L55.81,297.70 L56.40,297.70 L57.00,297.70 L57.00,297.70 L33.10,297.70 Z" fill="#ececf8" stroke="none"/>
<path d="M33.10,297.70 L33.70,297.70 L34.30,297.70 L34.89,297.70 L35.49,297.70 L36.09,297.70 L36.69,297.70 L37.28,297.70 L37.88,297.70 L38.48,297.70 L39.08,297.70 L39.67,297.70 L40.27,297.70 L40.87,297.70 L41.47,297.70 L42.06,297.69 L42.66,297.65 L43.26,297.39 L43.86,296.34 L44.45,293.45 L45.05,288.08 L45.65,282.00 L46.25,279.22 L46.84,282.00 L47.44,288.08 L48.04,293.45 L48.64,296.34 L49.23,297.39 L49.83,297.65 L50.43,297.69 L51.03,297.70 L51.62,297.70 L52.22,297.70 L52.82,297.70 L53.42,297.70 L54.01,297.70 L54.61,297.70 L55.21,297.70 L55.81,297.70 L56.40,297.70 L57.00,297.70" fill="none" stroke="#7c7cc0" stroke-width="0.5"/>
<line x1="32.60" y1="298.00" x2="57.50" y2="298.00" stroke="#888" stroke-width="0.8"/>
<line x1="35.40" y1="300.10" x2="35.40" y2="301.30" stroke="#bbb" stroke-width="0.6"/>
<line x1="40.20" y1="300.10" x2="40.20" y2="301.30" stroke="#bbb" stroke-width="0.6"/>
<line x1="45.00" y1="300.10" x2="45.00" y2="301.30" stroke="#bbb" stroke-width="0.6"/>
<line x1="49.80" y1="300.10" x2="49.80" y2="301.30" stroke="#bbb" stroke-width="0.6"/>
<line x1="54.60" y1="300.10" x2="54.60" y2="301.30" stroke="#bbb" stroke-width="0.6"/>
<text x="56.20" y="278.20" font-size="3.7" text-anchor="end" fill="#000" stroke="#000" stroke-width="0.12">2664</text>
<rect x="62.80" y="274.30" width="24.30" height="23.70" fill="#fff" stroke="#b4b4b4" stroke-width="0.7"/>
<path d="M63.00,297.54 L63.60,297.36 L64.19,297.02 L64.79,296.45 L65.39,295.57 L65.99,294.37 L66.58,292.89 L67.18,291.30 L67.78,289.85 L68.38,288.83 L68.97,288.46 L69.57,288.83 L70.17,289.85 L70.77,291.30 L71.36,292.89 L71.96,294.37 L72.56,295.57 L73.16,296.45 L73.75,297.02 L74.35,297.36 L74.95,297.54 L75.55,297.63 L76.14,297.67 L76.74,297.69 L77.34,297.70 L77.94,297.70 L78.53,297.70 L79.13,297.70 L79.73,297.70 L80.33,297.70 L80.92,297.70 L81.52,297.70 L82.12,297.70 L82.72,297.70 L83.31,297.70 L83.91,297.70 L84.51,297.70 L85.11,297.70 L85.70,297.70 L86.30,297.70 L86.90,297.70" fill="none" stroke="#e0b0b4" stroke-width="0.45"/>
<path d="M63.00,297.70 L63.60,297.70 L64.19,297.70 L64.79,297.70 L65.39,297.70 L65.99,297.70 L66.58,297.70 L67.18,297.70 L67.78,297.70 L68.38,297.70 L68.97,297.70 L69.57,297.70 L70.17,297.70 L70.77,297.70 L71.36,297.70 L71.96,297.70 L72.56,297.70 L73.16,297.70 L73.75,297.70 L74.35,297.70 L74.95,297.70 L75.55,297.70 L76.14,297.69 L76.74,297.62 L77.34,297.14 L77.94,295.04 L78.53,289.63 L79.13,281.98 L79.73,278.06 L80.33,281.98 L80.92,289.63 L81.52,295.04 L82.12,297.14 L82.72,297.62 L83.31,297.69 L83.91,297.70 L84.51,297.70 L85.11,297.70 L85.70,297.70 L86.30,297.70 L86.90,297.70 L86.90,297.70 L63.00,297.70 Z" fill="#ececf8" stroke="none"/>
<path d="M63.00,297.70 L63.60,297.70 L64.19,297.70 L64.79,297.70 L65.39,297.70 L65.99,297.70 L66.58,297.70 L67.18,297.70 L67.78,297.70 L68.38,297.70 L68.97,297.70 L69.57,297.70 L70.17,297.70 L70.77,297.70 L71.36,297.70 L71.96,297.70 L72.56,297.70 L73.16,297.70 L73.75,297.70 L74.35,297.70 L74.95,297.70 L75.55,297.70 L76.14,297.69 L76.74,297.62 L77.34,297.14 L77.94,295.04 L78.53,289.63 L79.13,281.98 L79.73,278.06 L80.33,281.98 L80.92,289.63 L81.52,295.04 L82.12,297.14 L82.72,297.62 L83.31,297.69 L83.91,297.70 L84.51,297.70 L85.11,297.70 L85.70,297.70 L86.30,297.70 L86.90,297.70" fill="none" stroke="#7c7cc0" stroke-width="0.5"/>
<line x1="62.50" y1="298.00" x2="87.40" y2="298.00" stroke="#888" stroke-width="0.8"/>
<line x1="65.30" y1="300.10" x2="65.30" y2="301.30" stroke="#bbb" stroke-width="0.6"/>
<line x1="70.10" y1="300.10" x2="70.10" y2="301.30" stroke="#bbb" stroke-width="0.6"/>
<line x1="74.90" y1="300.10" x2="74.90" y2="301.30" stroke="#bbb" stroke-width="0.6"/>
<line x1="79.70" y1="300.10" x2="79.70" y2="301.30" stroke="#bbb" stroke-width="0.6"/>
<line x1="84.50" y1="300.10" x2="84.50" y2="301.30" stroke="#bbb" stroke-width="0.6"/>
<text x="86.10" y="278.20" font-size="3.7" text-anchor="end" fill="#000" stroke="#000" stroke-width="0.12">11896</text>
<rect x="92.40" y="274.30" width="24.30" height="23.70" fill="#fff" stroke="#b4b4b4" stroke-width="0.7"/>
<path d="M92.60,297.44 L93.20,297.09 L93.80,296.45 L94.39,295.40 L94.99,293.90 L95.59,292.10 L96.19,290.30 L96.78,288.96 L97.38,288.46 L97.98,288.96 L98.58,290.30 L99.17,292.10 L99.77,293.90 L100.37,295.40 L100.97,296.45 L101.56,297.09 L102.16,297.44 L102.76,297.60 L103.36,297.66 L103.95,297.69 L104.55,297.70 L105.15,297.70 L105.75,297.70 L106.34,297.70 L106.94,297.70 L107.54,297.70 L108.14,297.70 L108.73,297.70 L109.33,297.70 L109.93,297.70 L110.53,297.70 L111.12,297.70 L111.72,297.70 L112.32,297.70 L112.92,297.70 L113.51,297.70 L114.11,297.70 L114.71,297.70 L115.31,297.70 L115.90,297.70 L116.50,297.70" fill="none" stroke="#e0b0b4" stroke-width="0.45"/>
<path d="M92.60,297.70 L93.20,297.70 L93.80,297.70 L94.39,297.70 L94.99,297.70 L95.59,297.70 L96.19,297.70 L96.78,297.70 L97.38,297.70 L97.98,297.70 L98.58,297.70 L99.17,297.70 L99.77,297.70 L100.37,297.70 L100.97,297.70 L101.56,297.70 L102.16,297.70 L102.76,297.70 L103.36,297.69 L103.95,297.62 L104.55,297.27 L105.15,295.95 L105.75,292.56 L106.34,286.81 L106.94,281.05 L107.54,279.34 L108.14,283.09 L108.73,289.31 L109.33,294.23 L109.93,296.66 L110.53,297.48 L111.12,297.67 L111.72,297.70 L112.32,297.70 L112.92,297.70 L113.51,297.70 L114.11,297.70 L114.71,297.70 L115.31,297.70 L115.90,297.70 L116.50,297.70 L116.50,297.70 L92.60,297.70 Z" fill="#ececf8" stroke="none"/>
<path d="M92.60,297.70 L93.20,297.70 L93.80,297.70 L94.39,297.70 L94.99,297.70 L95.59,297.70 L96.19,297.70 L96.78,297.70 L97.38,297.70 L97.98,297.70 L98.58,297.70 L99.17,297.70 L99.77,297.70 L100.37,297.70 L100.97,297.70 L101.56,297.70 L102.16,297.70 L102.76,297.70 L103.36,297.69 L103.95,297.62 L104.55,297.27 L105.15,295.95 L105.75,292.56 L106.34,286.81 L106.94,281.05 L107.54,279.34 L108.14,283.09 L108.73,289.31 L109.33,294.23 L109.93,296.66 L110.53,297.48 L111.12,297.67 L111.72,297.70 L112.32,297.70 L112.92,297.70 L113.51,297.70 L114.11,297.70 L114.71,297.70 L115.31,297.70 L115.90,297.70 L116.50,297.70" fill="none" stroke="#7c7cc0" stroke-width="0.5"/>
<line x1="92.10" y1="298.00" x2="117.00" y2="298.00" stroke="#888" stroke-width="0.8"/>
<line x1="94.90" y1="300.10" x2="94.90" y2="301.30" stroke="#bbb" stroke-width="0.6"/>
<line x1="99.70" y1="300.10" x2="99.70" y2="301.30" stroke="#bbb" stroke-width="0.6"/>
<line x1="104.50" y1="300.10" x2="104.50" y2="301.30" stroke="#bbb" stroke-width="0.6"/>
<line x1="109.30" y1="300.10" x2="109.30" y2="301.30" stroke="#bbb" stroke-width="0.6"/>
<line x1="114.10" y1="300.10" x2="114.10" y2="301.30" stroke="#bbb" stroke-width="0.6"/>
<text x="115.70" y="278.20" font-size="3.7" text-anchor="end" fill="#000" stroke="#000" stroke-width="0.12">4810</text>
<rect x="122.60" y="274.30" width="24.30" height="23.70" fill="#fff" stroke="#b4b4b4" stroke-width="0.7"/>
<path d="M122.80,297.70 L123.40,297.70 L123.99,297.70 L124.59,297.69 L125.19,297.65 L125.79,297.54 L126.38,297.25 L126.98,296.61 L127.58,295.45 L128.18,293.76 L128.78,291.83 L129.37,290.24 L129.97,289.62 L130.57,290.24 L131.16,291.83 L131.76,293.76 L132.36,295.45 L132.96,296.61 L133.56,297.25 L134.15,297.54 L134.75,297.65 L135.35,297.69 L135.94,297.70 L136.54,297.70 L137.14,297.70 L137.74,297.70 L138.34,297.70 L138.93,297.70 L139.53,297.70 L140.13,297.70 L140.72,297.70 L141.32,297.70 L141.92,297.70 L142.52,297.70 L143.12,297.70 L143.71,297.70 L144.31,297.70 L144.91,297.70 L145.50,297.70 L146.10,297.70 L146.70,297.70" fill="none" stroke="#e0b0b4" stroke-width="0.45"/>
<path d="M122.80,297.69 L123.40,297.66 L123.99,297.56 L124.59,297.31 L125.19,296.78 L125.79,295.88 L126.38,294.59 L126.98,293.15 L127.58,291.90 L128.18,291.08 L128.78,290.54 L129.37,289.78 L129.97,288.37 L130.57,286.49 L131.16,284.97 L131.76,284.77 L132.36,286.29 L132.96,289.05 L133.56,292.09 L134.15,294.60 L134.75,296.24 L135.35,297.11 L135.94,297.50 L136.54,297.64 L137.14,297.69 L137.74,297.70 L138.34,297.70 L138.93,297.70 L139.53,297.70 L140.13,297.70 L140.72,297.70 L141.32,297.70 L141.92,297.70 L142.52,297.70 L143.12,297.70 L143.71,297.70 L144.31,297.70 L144.91,297.70 L145.50,297.70 L146.10,297.70 L146.70,297.70 L146.70,297.70 L122.80,297.70 Z" fill="#ececf8" stroke="none"/>
<path d="M122.80,297.69 L123.40,297.66 L123.99,297.56 L124.59,297.31 L125.19,296.78 L125.79,295.88 L126.38,294.59 L126.98,293.15 L127.58,291.90 L128.18,291.08 L128.78,290.54 L129.37,289.78 L129.97,288.37 L130.57,286.49 L131.16,284.97 L131.76,284.77 L132.36,286.29 L132.96,289.05 L133.56,292.09 L134.15,294.60 L134.75,296.24 L135.35,297.11 L135.94,297.50 L136.54,297.64 L137.14,297.69 L137.74,297.70 L138.34,297.70 L138.93,297.70 L139.53,297.70 L140.13,297.70 L140.72,297.70 L141.32,297.70 L141.92,297.70 L142.52,297.70 L143.12,297.70 L143.71,297.70 L144.31,297.70 L144.91,297.70 L145.50,297.70 L146.10,297.70 L146.70,297.70" fill="none" stroke="#7c7cc0" stroke-width="0.5"/>
<line x1="122.30" y1="298.00" x2="147.20" y2="298.00" stroke="#888" stroke-width="0.8"/>
<line x1="125.10" y1="300.10" x2="125.10" y2="301.30" stroke="#bbb" stroke-width="0.6"/>
<line x1="129.90" y1="300.10" x2="129.90" y2="301.30" stroke="#bbb" stroke-width="0.6"/>
<line x1="134.70" y1="300.10" x2="134.70" y2="301.30" stroke="#bbb" stroke-width="0.6"/>
<line x1="139.50" y1="300.10" x2="139.50" y2="301.30" stroke="#bbb" stroke-width="0.6"/>
<line x1="144.30" y1="300.10" x2="144.30" y2="301.30" stroke="#bbb" stroke-width="0.6"/>
<text x="145.90" y="278.20" font-size="3.7" text-anchor="end" fill="#000" stroke="#000" stroke-width="0.12">333</text>
<rect x="163.80" y="274.30" width="24.30" height="23.70" fill="#fff" stroke="#b4b4b4" stroke-width="0.7"/>
<path d="M164.00,296.73 L164.60,294.85 L165.19,291.20 L165.79,286.14 L166.39,281.71 L166.99,280.46 L167.59,283.23 L168.18,288.24 L168.78,292.88 L169.38,295.79 L169.97,297.11 L170.57,297.56 L171.17,297.67 L171.77,297.70 L172.37,297.70 L172.96,297.70 L173.56,297.70 L174.16,297.70 L174.75,297.70 L175.35,297.70 L175.95,297.70 L176.55,297.70 L177.15,297.70 L177.74,297.70 L178.34,297.70 L178.94,297.70 L179.53,297.70 L180.13,297.70 L180.73,297.70 L181.33,297.70 L181.93,297.70 L182.52,297.70 L183.12,297.70 L183.72,297.70 L184.31,297.70 L184.91,297.70 L185.51,297.70 L186.11,297.70 L186.71,297.70 L187.30,297.70 L187.90,297.70" fill="none" stroke="#e0b0b4" stroke-width="0.45"/>
<path d="M164.00,297.70 L164.60,297.70 L165.19,297.70 L165.79,297.70 L166.39,297.70 L166.99,297.69 L167.59,297.67 L168.18,297.58 L168.78,297.30 L169.38,296.60 L169.97,295.14 L170.57,292.61 L171.17,289.06 L171.77,285.22 L172.37,282.34 L172.96,281.58 L173.56,283.29 L174.16,286.72 L174.75,290.57 L175.35,293.76 L175.95,295.84 L176.55,296.95 L177.15,297.44 L177.74,297.63 L178.34,297.68 L178.94,297.70 L179.53,297.70 L180.13,297.70 L180.73,297.70 L181.33,297.70 L181.93,297.70 L182.52,297.70 L183.12,297.70 L183.72,297.70 L184.31,297.70 L184.91,297.70 L185.51,297.70 L186.11,297.70 L186.71,297.70 L187.30,297.70 L187.90,297.70 L187.90,297.70 L164.00,297.70 Z" fill="#ececf8" stroke="none"/>
<path d="M164.00,297.70 L164.60,297.70 L165.19,297.70 L165.79,297.70 L166.39,297.70 L166.99,297.69 L167.59,297.67 L168.18,297.58 L168.78,297.30 L169.38,296.60 L169.97,295.14 L170.57,292.61 L171.17,289.06 L171.77,285.22 L172.37,282.34 L172.96,281.58 L173.56,283.29 L174.16,286.72 L174.75,290.57 L175.35,293.76 L175.95,295.84 L176.55,296.95 L177.15,297.44 L177.74,297.63 L178.34,297.68 L178.94,297.70 L179.53,297.70 L180.13,297.70 L180.73,297.70 L181.33,297.70 L181.93,297.70 L182.52,297.70 L183.12,297.70 L183.72,297.70 L184.31,297.70 L184.91,297.70 L185.51,297.70 L186.11,297.70 L186.71,297.70 L187.30,297.70 L187.90,297.70" fill="none" stroke="#7c7cc0" stroke-width="0.5"/>
<line x1="163.50" y1="298.00" x2="188.40" y2="298.00" stroke="#888" stroke-width="0.8"/>
<line x1="166.30" y1="300.10" x2="166.30" y2="301.30" stroke="#bbb" stroke-width="0.6"/>
<line x1="171.10" y1="300.10" x2="171.10" y2="301.30" stroke="#bbb" stroke-width="0.6"/>
<line x1="175.90" y1="300.10" x2="175.90" y2="301.30" stroke="#bbb" stroke-width="0.6"/>
<line x1="180.70" y1="300.10" x2="180.70" y2="301.30" stroke="#bbb" stroke-width="0.6"/>
<line x1="185.50" y1="300.10" x2="185.50" y2="301.30" stroke="#bbb" stroke-width="0.6"/>
<text x="187.10" y="278.20" font-size="3.7" text-anchor="end" fill="#000" stroke="#000" stroke-width="0.12">457</text>
<rect x="193.20" y="274.30" width="24.30" height="23.70" fill="#fff" stroke="#b4b4b4" stroke-width="0.7"/>
<path d="M193.40,297.70 L194.00,297.70 L194.59,297.70 L195.19,297.70 L195.79,297.70 L196.39,297.70 L196.98,297.70 L197.58,297.69 L198.18,297.67 L198.78,297.58 L199.37,297.30 L199.97,296.60 L200.57,295.14 L201.17,292.61 L201.76,289.06 L202.36,285.22 L202.96,282.34 L203.56,281.58 L204.15,283.29 L204.75,286.72 L205.35,290.57 L205.95,293.76 L206.54,295.84 L207.14,296.95 L207.74,297.44 L208.34,297.63 L208.93,297.68 L209.53,297.70 L210.13,297.70 L210.73,297.70 L211.32,297.70 L211.92,297.70 L212.52,297.70 L213.12,297.70 L213.71,297.70 L214.31,297.70 L214.91,297.70 L215.51,297.70 L216.10,297.70 L216.70,297.70 L217.30,297.70 L217.30,297.70 L193.40,297.70 Z" fill="#ececf8" stroke="none"/>
<path d="M193.40,297.70 L194.00,297.70 L194.59,297.70 L195.19,297.70 L195.79,297.70 L196.39,297.70 L196.98,297.70 L197.58,297.69 L198.18,297.67 L198.78,297.58 L199.37,297.30 L199.97,296.60 L200.57,295.14 L201.17,292.61 L201.76,289.06 L202.36,285.22 L202.96,282.34 L203.56,281.58 L204.15,283.29 L204.75,286.72 L205.35,290.57 L205.95,293.76 L206.54,295.84 L207.14,296.95 L207.74,297.44 L208.34,297.63 L208.93,297.68 L209.53,297.70 L210.13,297.70 L210.73,297.70 L211.32,297.70 L211.92,297.70 L212.52,297.70 L213.12,297.70 L213.71,297.70 L214.31,297.70 L214.91,297.70 L215.51,297.70 L216.10,297.70 L216.70,297.70 L217.30,297.70" fill="none" stroke="#7c7cc0" stroke-width="0.5"/>
<line x1="192.90" y1="298.00" x2="217.80" y2="298.00" stroke="#888" stroke-width="0.8"/>
<line x1="195.70" y1="300.10" x2="195.70" y2="301.30" stroke="#bbb" stroke-width="0.6"/>
<line x1="200.50" y1="300.10" x2="200.50" y2="301.30" stroke="#bbb" stroke-width="0.6"/>
<line x1="205.30" y1="300.10" x2="205.30" y2="301.30" stroke="#bbb" stroke-width="0.6"/>
<line x1="210.10" y1="300.10" x2="210.10" y2="301.30" stroke="#bbb" stroke-width="0.6"/>
<line x1="214.90" y1="300.10" x2="214.90" y2="301.30" stroke="#bbb" stroke-width="0.6"/>
<text x="216.50" y="278.20" font-size="3.7" text-anchor="end" fill="#000" stroke="#000" stroke-width="0.12">8</text>
<rect x="32.90" y="304.60" width="24.30" height="23.70" fill="#fff" stroke="#b4b4b4" stroke-width="0.7"/>
<path d="M33.10,327.98 L33.70,327.91 L34.30,327.66 L34.89,326.90 L35.49,325.10 L36.09,321.73 L36.69,316.88 L37.28,311.82 L37.88,308.67 L38.48,309.05 L39.08,312.75 L39.67,317.93 L40.27,322.54 L40.87,325.57 L41.47,327.11 L42.06,327.73 L42.66,327.93 L43.26,327.99 L43.86,328.00 L44.45,328.00 L45.05,328.00 L45.65,328.00 L46.25,328.00 L46.84,328.00 L47.44,328.00 L48.04,328.00 L48.64,328.00 L49.23,328.00 L49.83,328.00 L50.43,328.00 L51.03,328.00 L51.62,328.00 L52.22,328.00 L52.82,328.00 L53.42,328.00 L54.01,328.00 L54.61,328.00 L55.21,328.00 L55.81,328.00 L56.40,328.00 L57.00,328.00" fill="none" stroke="#e0b0b4" stroke-width="0.45"/>
<path d="M33.10,328.00 L33.70,328.00 L34.30,328.00 L34.89,328.00 L35.49,328.00 L36.09,328.00 L36.69,328.00 L37.28,327.99 L37.88,327.97 L38.48,327.91 L39.08,327.73 L39.67,327.33 L40.27,326.50 L40.87,324.97 L41.47,322.54 L42.06,319.20 L42.66,315.30 L43.26,311.60 L43.86,309.05 L44.45,308.41 L45.05,309.87 L45.65,312.99 L46.25,316.88 L46.84,320.63 L47.44,323.63 L48.04,325.68 L48.64,326.90 L49.23,327.53 L49.83,327.82 L50.43,327.94 L51.03,327.98 L51.62,327.99 L52.22,328.00 L52.82,328.00 L53.42,328.00 L54.01,328.00 L54.61,328.00 L55.21,328.00 L55.81,328.00 L56.40,328.00 L57.00,328.00 L57.00,328.00 L33.10,328.00 Z" fill="#ececf8" stroke="none"/>
<path d="M33.10,328.00 L33.70,328.00 L34.30,328.00 L34.89,328.00 L35.49,328.00 L36.09,328.00 L36.69,328.00 L37.28,327.99 L37.88,327.97 L38.48,327.91 L39.08,327.73 L39.67,327.33 L40.27,326.50 L40.87,324.97 L41.47,322.54 L42.06,319.20 L42.66,315.30 L43.26,311.60 L43.86,309.05 L44.45,308.41 L45.05,309.87 L45.65,312.99 L46.25,316.88 L46.84,320.63 L47.44,323.63 L48.04,325.68 L48.64,326.90 L49.23,327.53 L49.83,327.82 L50.43,327.94 L51.03,327.98 L51.62,327.99 L52.22,328.00 L52.82,328.00 L53.42,328.00 L54.01,328.00 L54.61,328.00 L55.21,328.00 L55.81,328.00 L56.40,328.00 L57.00,328.00" fill="none" stroke="#7c7cc0" stroke-width="0.5"/>
<line x1="32.60" y1="328.30" x2="57.50" y2="328.30" stroke="#888" stroke-width="0.8"/>
<line x1="35.40" y1="330.40" x2="35.40" y2="331.60" stroke="#bbb" stroke-width="0.6"/>
<line x1="40.20" y1="330.40" x2="40.20" y2="331.60" stroke="#bbb" stroke-width="0.6"/>
<line x1="45.00" y1="330.40" x2="45.00" y2="331.60" stroke="#bbb" stroke-width="0.6"/>
<line x1="49.80" y1="330.40" x2="49.80" y2="331.60" stroke="#bbb" stroke-width="0.6"/>
<line x1="54.60" y1="330.40" x2="54.60" y2="331.60" stroke="#bbb" stroke-width="0.6"/>
<text x="56.20" y="308.50" font-size="3.7" text-anchor="end" fill="#000" stroke="#000" stroke-width="0.12">945</text>
<rect x="62.80" y="304.60" width="24.30" height="23.70" fill="#fff" stroke="#b4b4b4" stroke-width="0.7"/>
<path d="M63.00,327.81 L63.60,327.58 L64.19,327.15 L64.79,326.44 L65.39,325.34 L65.99,323.84 L66.58,321.99 L67.18,320.00 L67.78,318.19 L68.38,316.91 L68.97,316.45 L69.57,316.91 L70.17,318.19 L70.77,320.00 L71.36,321.99 L71.96,323.84 L72.56,325.34 L73.16,326.44 L73.75,327.15 L74.35,327.58 L74.95,327.81 L75.55,327.92 L76.14,327.97 L76.74,327.99 L77.34,328.00 L77.94,328.00 L78.53,328.00 L79.13,328.00 L79.73,328.00 L80.33,328.00 L80.92,328.00 L81.52,328.00 L82.12,328.00 L82.72,328.00 L83.31,328.00 L83.91,328.00 L84.51,328.00 L85.11,328.00 L85.70,328.00 L86.30,328.00 L86.90,328.00" fill="none" stroke="#e0b0b4" stroke-width="0.45"/>
<path d="M63.00,328.00 L63.60,328.00 L64.19,328.00 L64.79,328.00 L65.39,328.00 L65.99,328.00 L66.58,328.00 L67.18,328.00 L67.78,328.00 L68.38,328.00 L68.97,328.00 L69.57,328.00 L70.17,328.00 L70.77,328.00 L71.36,328.00 L71.96,328.00 L72.56,328.00 L73.16,328.00 L73.75,328.00 L74.35,328.00 L74.95,327.99 L75.55,327.92 L76.14,327.54 L76.74,326.14 L77.34,322.54 L77.94,316.43 L78.53,310.31 L79.13,308.49 L79.73,312.48 L80.33,319.09 L80.92,324.31 L81.52,326.90 L82.12,327.76 L82.72,327.96 L83.31,328.00 L83.91,328.00 L84.51,328.00 L85.11,328.00 L85.70,328.00 L86.30,328.00 L86.90,328.00 L86.90,328.00 L63.00,328.00 Z" fill="#ececf8" stroke="none"/>
<path d="M63.00,328.00 L63.60,328.00 L64.19,328.00 L64.79,328.00 L65.39,328.00 L65.99,328.00 L66.58,328.00 L67.18,328.00 L67.78,328.00 L68.38,328.00 L68.97,328.00 L69.57,328.00 L70.17,328.00 L70.77,328.00 L71.36,328.00 L71.96,328.00 L72.56,328.00 L73.16,328.00 L73.75,328.00 L74.35,328.00 L74.95,327.99 L75.55,327.92 L76.14,327.54 L76.74,326.14 L77.34,322.54 L77.94,316.43 L78.53,310.31 L79.13,308.49 L79.73,312.48 L80.33,319.09 L80.92,324.31 L81.52,326.90 L82.12,327.76 L82.72,327.96 L83.31,328.00 L83.91,328.00 L84.51,328.00 L85.11,328.00 L85.70,328.00 L86.30,328.00 L86.90,328.00" fill="none" stroke="#7c7cc0" stroke-width="0.5"/>
<line x1="62.50" y1="328.30" x2="87.40" y2="328.30" stroke="#888" stroke-width="0.8"/>
<line x1="65.30" y1="330.40" x2="65.30" y2="331.60" stroke="#bbb" stroke-width="0.6"/>
<line x1="70.10" y1="330.40" x2="70.10" y2="331.60" stroke="#bbb" stroke-width="0.6"/>
<line x1="74.90" y1="330.40" x2="74.90" y2="331.60" stroke="#bbb" stroke-width="0.6"/>
<line x1="79.70" y1="330.40" x2="79.70" y2="331.60" stroke="#bbb" stroke-width="0.6"/>
<line x1="84.50" y1="330.40" x2="84.50" y2="331.60" stroke="#bbb" stroke-width="0.6"/>
<text x="86.10" y="308.50" font-size="3.7" text-anchor="end" fill="#000" stroke="#000" stroke-width="0.12">6557</text>
<rect x="92.40" y="304.60" width="24.30" height="23.70" fill="#fff" stroke="#b4b4b4" stroke-width="0.7"/>
<path d="M92.60,328.00 L93.20,327.98 L93.80,327.95 L94.39,327.85 L94.99,327.60 L95.59,327.09 L96.19,326.12 L96.78,324.54 L97.38,322.30 L97.98,319.59 L98.58,316.90 L99.17,314.89 L99.77,314.14 L100.37,314.89 L100.97,316.90 L101.56,319.59 L102.16,322.30 L102.76,324.54 L103.36,326.12 L103.95,327.09 L104.55,327.60 L105.15,327.85 L105.75,327.95 L106.34,327.98 L106.94,328.00 L107.54,328.00 L108.14,328.00 L108.73,328.00 L109.33,328.00 L109.93,328.00 L110.53,328.00 L111.12,328.00 L111.72,328.00 L112.32,328.00 L112.92,328.00 L113.51,328.00 L114.11,328.00 L114.71,328.00 L115.31,328.00 L115.90,328.00 L116.50,328.00" fill="none" stroke="#e0b0b4" stroke-width="0.45"/>
<path d="M92.60,328.00 L93.20,328.00 L93.80,328.00 L94.39,328.00 L94.99,328.00 L95.59,328.00 L96.19,328.00 L96.78,328.00 L97.38,328.00 L97.98,328.00 L98.58,328.00 L99.17,328.00 L99.77,328.00 L100.37,328.00 L100.97,328.00 L101.56,327.99 L102.16,327.94 L102.76,327.71 L103.36,326.90 L103.95,324.77 L104.55,320.63 L105.15,314.90 L105.75,309.87 L106.34,308.46 L106.94,311.60 L107.54,317.28 L108.14,322.54 L108.73,325.84 L109.33,327.33 L109.93,327.84 L110.53,327.97 L111.12,328.00 L111.72,328.00 L112.32,328.00 L112.92,328.00 L113.51,328.00 L114.11,328.00 L114.71,328.00 L115.31,328.00 L115.90,328.00 L116.50,328.00 L116.50,328.00 L92.60,328.00 Z" fill="#ececf8" stroke="none"/>
<path d="M92.60,328.00 L93.20,328.00 L93.80,328.00 L94.39,328.00 L94.99,328.00 L95.59,328.00 L96.19,328.00 L96.78,328.00 L97.38,328.00 L97.98,328.00 L98.58,328.00 L99.17,328.00 L99.77,328.00 L100.37,328.00 L100.97,328.00 L101.56,327.99 L102.16,327.94 L102.76,327.71 L103.36,326.90 L103.95,324.77 L104.55,320.63 L105.15,314.90 L105.75,309.87 L106.34,308.46 L106.94,311.60 L107.54,317.28 L108.14,322.54 L108.73,325.84 L109.33,327.33 L109.93,327.84 L110.53,327.97 L111.12,328.00 L111.72,328.00 L112.32,328.00 L112.92,328.00 L113.51,328.00 L114.11,328.00 L114.71,328.00 L115.31,328.00 L115.90,328.00 L116.50,328.00" fill="none" stroke="#7c7cc0" stroke-width="0.5"/>
<line x1="92.10" y1="328.30" x2="117.00" y2="328.30" stroke="#888" stroke-width="0.8"/>
<line x1="94.90" y1="330.40" x2="94.90" y2="331.60" stroke="#bbb" stroke-width="0.6"/>
<line x1="99.70" y1="330.40" x2="99.70" y2="331.60" stroke="#bbb" stroke-width="0.6"/>
<line x1="104.50" y1="330.40" x2="104.50" y2="331.60" stroke="#bbb" stroke-width="0.6"/>
<line x1="109.30" y1="330.40" x2="109.30" y2="331.60" stroke="#bbb" stroke-width="0.6"/>
<line x1="114.10" y1="330.40" x2="114.10" y2="331.60" stroke="#bbb" stroke-width="0.6"/>
<text x="115.70" y="308.50" font-size="3.7" text-anchor="end" fill="#000" stroke="#000" stroke-width="0.12">2955</text>
<rect x="122.60" y="304.60" width="24.30" height="23.70" fill="#fff" stroke="#b4b4b4" stroke-width="0.7"/>
<path d="M122.80,328.00 L123.40,328.00 L123.99,327.99 L124.59,327.95 L125.19,327.82 L125.79,327.47 L126.38,326.67 L126.98,325.18 L127.58,322.91 L128.18,320.16 L128.78,317.71 L129.37,316.49 L129.97,317.03 L130.57,319.09 L131.16,321.83 L131.76,324.36 L132.36,326.17 L132.96,327.22 L133.56,327.71 L134.15,327.91 L134.75,327.98 L135.35,327.99 L135.94,328.00 L136.54,328.00 L137.14,328.00 L137.74,328.00 L138.34,328.00 L138.93,328.00 L139.53,328.00 L140.13,328.00 L140.72,328.00 L141.32,328.00 L141.92,328.00 L142.52,328.00 L143.12,328.00 L143.71,328.00 L144.31,328.00 L144.91,328.00 L145.50,328.00 L146.10,328.00 L146.70,328.00" fill="none" stroke="#e0b0b4" stroke-width="0.45"/>
<path d="M122.80,324.36 L123.40,323.06 L123.99,322.30 L124.59,322.39 L125.19,323.29 L125.79,324.62 L126.38,325.87 L126.98,326.65 L127.58,326.73 L128.18,325.88 L128.78,323.96 L129.37,321.01 L129.97,317.60 L130.57,314.78 L131.16,313.68 L131.76,314.78 L132.36,317.60 L132.96,321.03 L133.56,324.02 L134.15,326.06 L134.75,327.20 L135.35,327.72 L135.94,327.91 L136.54,327.98 L137.14,328.00 L137.74,328.00 L138.34,328.00 L138.93,328.00 L139.53,328.00 L140.13,328.00 L140.72,328.00 L141.32,328.00 L141.92,328.00 L142.52,328.00 L143.12,328.00 L143.71,328.00 L144.31,328.00 L144.91,328.00 L145.50,328.00 L146.10,328.00 L146.70,328.00 L146.70,328.00 L122.80,328.00 Z" fill="#ececf8" stroke="none"/>
<path d="M122.80,324.36 L123.40,323.06 L123.99,322.30 L124.59,322.39 L125.19,323.29 L125.79,324.62 L126.38,325.87 L126.98,326.65 L127.58,326.73 L128.18,325.88 L128.78,323.96 L129.37,321.01 L129.97,317.60 L130.57,314.78 L131.16,313.68 L131.76,314.78 L132.36,317.60 L132.96,321.03 L133.56,324.02 L134.15,326.06 L134.75,327.20 L135.35,327.72 L135.94,327.91 L136.54,327.98 L137.14,328.00 L137.74,328.00 L138.34,328.00 L138.93,328.00 L139.53,328.00 L140.13,328.00 L140.72,328.00 L141.32,328.00 L141.92,328.00 L142.52,328.00 L143.12,328.00 L143.71,328.00 L144.31,328.00 L144.91,328.00 L145.50,328.00 L146.10,328.00 L146.70,328.00" fill="none" stroke="#7c7cc0" stroke-width="0.5"/>
<line x1="122.30" y1="328.30" x2="147.20" y2="328.30" stroke="#888" stroke-width="0.8"/>
<line x1="125.10" y1="330.40" x2="125.10" y2="331.60" stroke="#bbb" stroke-width="0.6"/>
<line x1="129.90" y1="330.40" x2="129.90" y2="331.60" stroke="#bbb" stroke-width="0.6"/>
<line x1="134.70" y1="330.40" x2="134.70" y2="331.60" stroke="#bbb" stroke-width="0.6"/>
<line x1="139.50" y1="330.40" x2="139.50" y2="331.60" stroke="#bbb" stroke-width="0.6"/>
<line x1="144.30" y1="330.40" x2="144.30" y2="331.60" stroke="#bbb" stroke-width="0.6"/>
<text x="145.90" y="308.50" font-size="3.7" text-anchor="end" fill="#000" stroke="#000" stroke-width="0.12">146</text>
<rect x="163.80" y="304.60" width="24.30" height="23.70" fill="#fff" stroke="#b4b4b4" stroke-width="0.7"/>
<path d="M164.00,327.66 L164.60,326.77 L165.19,324.57 L165.79,320.56 L166.39,315.42 L166.99,311.44 L167.59,311.02 L168.18,314.44 L168.78,319.57 L169.38,323.92 L169.97,326.46 L170.57,327.55 L171.17,327.90 L171.77,327.98 L172.37,328.00 L172.96,328.00 L173.56,328.00 L174.16,328.00 L174.75,328.00 L175.35,328.00 L175.95,328.00 L176.55,328.00 L177.15,328.00 L177.74,328.00 L178.34,328.00 L178.94,328.00 L179.53,328.00 L180.13,328.00 L180.73,328.00 L181.33,328.00 L181.93,328.00 L182.52,328.00 L183.12,328.00 L183.72,328.00 L184.31,328.00 L184.91,328.00 L185.51,328.00 L186.11,328.00 L186.71,328.00 L187.30,328.00 L187.90,328.00" fill="none" stroke="#e0b0b4" stroke-width="0.45"/>
<path d="M164.00,328.00 L164.60,328.00 L165.19,328.00 L165.79,327.99 L166.39,327.96 L166.99,327.91 L167.59,327.80 L168.18,327.57 L168.78,327.15 L169.38,326.41 L169.97,325.26 L170.57,323.58 L171.17,321.38 L171.77,318.75 L172.37,315.96 L172.96,313.41 L173.56,311.54 L174.16,310.70 L174.75,311.06 L175.35,312.56 L175.95,314.89 L176.55,317.63 L177.15,320.36 L177.74,322.76 L178.34,324.65 L178.94,326.01 L179.53,326.90 L180.13,327.43 L180.73,327.73 L181.33,327.88 L181.93,327.95 L182.52,327.98 L183.12,327.99 L183.72,328.00 L184.31,328.00 L184.91,328.00 L185.51,328.00 L186.11,328.00 L186.71,328.00 L187.30,328.00 L187.90,328.00 L187.90,328.00 L164.00,328.00 Z" fill="#ececf8" stroke="none"/>
<path d="M164.00,328.00 L164.60,328.00 L165.19,328.00 L165.79,327.99 L166.39,327.96 L166.99,327.91 L167.59,327.80 L168.18,327.57 L168.78,327.15 L169.38,326.41 L169.97,325.26 L170.57,323.58 L171.17,321.38 L171.77,318.75 L172.37,315.96 L172.96,313.41 L173.56,311.54 L174.16,310.70 L174.75,311.06 L175.35,312.56 L175.95,314.89 L176.55,317.63 L177.15,320.36 L177.74,322.76 L178.34,324.65 L178.94,326.01 L179.53,326.90 L180.13,327.43 L180.73,327.73 L181.33,327.88 L181.93,327.95 L182.52,327.98 L183.12,327.99 L183.72,328.00 L184.31,328.00 L184.91,328.00 L185.51,328.00 L186.11,328.00 L186.71,328.00 L187.30,328.00 L187.90,328.00" fill="none" stroke="#7c7cc0" stroke-width="0.5"/>
<line x1="163.50" y1="328.30" x2="188.40" y2="328.30" stroke="#888" stroke-width="0.8"/>
<line x1="166.30" y1="330.40" x2="166.30" y2="331.60" stroke="#bbb" stroke-width="0.6"/>
<line x1="171.10" y1="330.40" x2="171.10" y2="331.60" stroke="#bbb" stroke-width="0.6"/>
<line x1="175.90" y1="330.40" x2="175.90" y2="331.60" stroke="#bbb" stroke-width="0.6"/>
<line x1="180.70" y1="330.40" x2="180.70" y2="331.60" stroke="#bbb" stroke-width="0.6"/>
<line x1="185.50" y1="330.40" x2="185.50" y2="331.60" stroke="#bbb" stroke-width="0.6"/>
<text x="187.10" y="308.50" font-size="3.7" text-anchor="end" fill="#000" stroke="#000" stroke-width="0.12">1007</text>
<rect x="193.20" y="304.60" width="24.30" height="23.70" fill="#fff" stroke="#b4b4b4" stroke-width="0.7"/>
<path d="M193.40,325.08 L194.00,324.05 L194.59,323.42 L195.19,323.46 L195.79,324.08 L196.39,324.91 L196.98,325.43 L197.58,325.18 L198.18,323.91 L198.78,321.59 L199.37,318.47 L199.97,315.11 L200.57,312.24 L201.17,310.55 L201.76,310.32 L202.36,311.31 L202.96,312.91 L203.56,314.44 L204.15,315.51 L204.75,316.06 L205.35,316.25 L205.95,316.26 L206.54,316.25 L207.14,316.31 L207.74,316.60 L208.34,317.24 L208.93,318.32 L209.53,319.80 L210.13,321.52 L210.73,323.24 L211.32,324.77 L211.92,325.98 L212.52,326.83 L213.12,327.38 L213.71,327.69 L214.31,327.86 L214.91,327.94 L215.51,327.98 L216.10,327.99 L216.70,328.00 L217.30,328.00 L217.30,328.00 L193.40,328.00 Z" fill="#ececf8" stroke="none"/>
<path d="M193.40,325.08 L194.00,324.05 L194.59,323.42 L195.19,323.46 L195.79,324.08 L196.39,324.91 L196.98,325.43 L197.58,325.18 L198.18,323.91 L198.78,321.59 L199.37,318.47 L199.97,315.11 L200.57,312.24 L201.17,310.55 L201.76,310.32 L202.36,311.31 L202.96,312.91 L203.56,314.44 L204.15,315.51 L204.75,316.06 L205.35,316.25 L205.95,316.26 L206.54,316.25 L207.14,316.31 L207.74,316.60 L208.34,317.24 L208.93,318.32 L209.53,319.80 L210.13,321.52 L210.73,323.24 L211.32,324.77 L211.92,325.98 L212.52,326.83 L213.12,327.38 L213.71,327.69 L214.31,327.86 L214.91,327.94 L215.51,327.98 L216.10,327.99 L216.70,328.00 L217.30,328.00" fill="none" stroke="#7c7cc0" stroke-width="0.5"/>
<line x1="192.90" y1="328.30" x2="217.80" y2="328.30" stroke="#888" stroke-width="0.8"/>
<line x1="195.70" y1="330.40" x2="195.70" y2="331.60" stroke="#bbb" stroke-width="0.6"/>
<line x1="200.50" y1="330.40" x2="200.50" y2="331.60" stroke="#bbb" stroke-width="0.6"/>
<line x1="205.30" y1="330.40" x2="205.30" y2="331.60" stroke="#bbb" stroke-width="0.6"/>
<line x1="210.10" y1="330.40" x2="210.10" y2="331.60" stroke="#bbb" stroke-width="0.6"/>
<line x1="214.90" y1="330.40" x2="214.90" y2="331.60" stroke="#bbb" stroke-width="0.6"/>
<text x="216.50" y="308.50" font-size="3.7" text-anchor="end" fill="#000" stroke="#000" stroke-width="0.12">204</text>
<text x="277.2" y="12.4" font-size="10.8" font-weight="bold" fill="#000">B</text>
<text x="301.15" y="19.55" font-size="4.2" font-weight="bold" text-anchor="middle" fill="#000" stroke="#000" stroke-width="0.08">CD40 (n = 6)</text>
<text x="0" y="0" font-size="3.6" text-anchor="middle" fill="#111" transform="translate(274.50,46.10) rotate(-90)">MFI minus isotype MFI</text>
<line x1="286.80" y1="26.00" x2="286.80" y2="68.30" stroke="#222" stroke-width="0.55"/>
<line x1="286.80" y1="68.30" x2="314.80" y2="68.30" stroke="#222" stroke-width="0.55"/>
<line x1="285.50" y1="68.30" x2="286.80" y2="68.30" stroke="#222" stroke-width="0.45"/>
<text x="285.20" y="69.35" font-size="3.0" text-anchor="end" fill="#222">0</text>
<line x1="285.50" y1="57.72" x2="286.80" y2="57.72" stroke="#222" stroke-width="0.45"/>
<text x="285.20" y="58.77" font-size="3.0" text-anchor="end" fill="#222">50</text>
<line x1="285.50" y1="47.15" x2="286.80" y2="47.15" stroke="#222" stroke-width="0.45"/>
<text x="285.20" y="48.20" font-size="3.0" text-anchor="end" fill="#222">100</text>
<line x1="285.50" y1="36.58" x2="286.80" y2="36.58" stroke="#222" stroke-width="0.45"/>
<text x="285.20" y="37.62" font-size="3.0" text-anchor="end" fill="#222">150</text>
<line x1="285.50" y1="26.00" x2="286.80" y2="26.00" stroke="#222" stroke-width="0.45"/>
<text x="285.20" y="27.05" font-size="3.0" text-anchor="end" fill="#222">200</text>
<line x1="291.65" y1="63.80" x2="291.65" y2="59.40" stroke="#1a1a1a" stroke-width="0.75"/>
<line x1="290.45" y1="59.40" x2="292.85" y2="59.40" stroke="#1a1a1a" stroke-width="0.75"/>
<rect x="288.90" y="64.10" width="5.50" height="4.20" fill="#fff" stroke="#2a2a2a" stroke-width="0.55"/>
<line x1="301.15" y1="41.90" x2="301.15" y2="33.50" stroke="#1a1a1a" stroke-width="0.75"/>
<line x1="299.95" y1="33.50" x2="302.35" y2="33.50" stroke="#1a1a1a" stroke-width="0.75"/>
<rect x="298.10" y="41.90" width="6.10" height="26.40" fill="#000"/>
<line x1="311.00" y1="49.90" x2="311.00" y2="40.30" stroke="#1a1a1a" stroke-width="0.75"/>
<line x1="309.80" y1="40.30" x2="312.20" y2="40.30" stroke="#1a1a1a" stroke-width="0.75"/>
<rect x="307.95" y="49.90" width="6.10" height="18.40" fill="#e5661e"/>
<line x1="291.65" y1="28.00" x2="311.00" y2="28.00" stroke="#111" stroke-width="0.75"/>
<text x="301.32" y="28.90" font-size="3.4" text-anchor="middle" fill="#444">*</text>
<line x1="291.65" y1="31.00" x2="301.15" y2="31.00" stroke="#111" stroke-width="0.75"/>
<text x="296.40" y="31.90" font-size="3.4" text-anchor="middle" fill="#444">***</text>
<text x="291.65" y="73.10" font-size="3.9" text-anchor="middle" fill="#111">C</text>
<text x="301.15" y="73.10" font-size="3.9" text-anchor="middle" fill="#111">I</text>
<text x="311.00" y="73.10" font-size="3.9" text-anchor="middle" fill="#111">N</text>
<text x="352.15" y="19.55" font-size="4.2" font-weight="bold" text-anchor="middle" fill="#000" stroke="#000" stroke-width="0.08">CD80 (n = 4)</text>
<text x="0" y="0" font-size="3.6" text-anchor="middle" fill="#111" transform="translate(324.70,46.10) rotate(-90)">MFI minus isotype MFI</text>
<line x1="337.00" y1="26.00" x2="337.00" y2="68.30" stroke="#222" stroke-width="0.55"/>
<line x1="337.00" y1="68.30" x2="365.85" y2="68.30" stroke="#222" stroke-width="0.55"/>
<line x1="335.70" y1="68.30" x2="337.00" y2="68.30" stroke="#222" stroke-width="0.45"/>
<text x="335.40" y="69.35" font-size="3.0" text-anchor="end" fill="#222">0</text>
<line x1="335.70" y1="57.72" x2="337.00" y2="57.72" stroke="#222" stroke-width="0.45"/>
<text x="335.40" y="58.77" font-size="3.0" text-anchor="end" fill="#222">500</text>
<line x1="335.70" y1="47.15" x2="337.00" y2="47.15" stroke="#222" stroke-width="0.45"/>
<text x="335.40" y="48.20" font-size="3.0" text-anchor="end" fill="#222">1000</text>
<line x1="335.70" y1="36.58" x2="337.00" y2="36.58" stroke="#222" stroke-width="0.45"/>
<text x="335.40" y="37.62" font-size="3.0" text-anchor="end" fill="#222">1500</text>
<line x1="335.70" y1="26.00" x2="337.00" y2="26.00" stroke="#222" stroke-width="0.45"/>
<text x="335.40" y="27.05" font-size="3.0" text-anchor="end" fill="#222">2000</text>
<line x1="342.45" y1="52.80" x2="342.45" y2="47.80" stroke="#1a1a1a" stroke-width="0.75"/>
<line x1="341.25" y1="47.80" x2="343.65" y2="47.80" stroke="#1a1a1a" stroke-width="0.75"/>
<rect x="339.70" y="53.10" width="5.50" height="15.20" fill="#fff" stroke="#2a2a2a" stroke-width="0.55"/>
<line x1="352.15" y1="46.80" x2="352.15" y2="37.50" stroke="#1a1a1a" stroke-width="0.75"/>
<line x1="350.95" y1="37.50" x2="353.35" y2="37.50" stroke="#1a1a1a" stroke-width="0.75"/>
<rect x="349.10" y="46.80" width="6.10" height="21.50" fill="#000"/>
<line x1="362.05" y1="48.50" x2="362.05" y2="40.90" stroke="#1a1a1a" stroke-width="0.75"/>
<line x1="360.85" y1="40.90" x2="363.25" y2="40.90" stroke="#1a1a1a" stroke-width="0.75"/>
<rect x="359.00" y="48.50" width="6.10" height="19.80" fill="#e5661e"/>
<text x="342.45" y="73.10" font-size="3.9" text-anchor="middle" fill="#111">C</text>
<text x="352.15" y="73.10" font-size="3.9" text-anchor="middle" fill="#111">I</text>
<text x="362.05" y="73.10" font-size="3.9" text-anchor="middle" fill="#111">N</text>
<text x="402.45" y="19.55" font-size="4.2" font-weight="bold" text-anchor="middle" fill="#000" stroke="#000" stroke-width="0.08">CD86 (n = 6)</text>
<text x="0" y="0" font-size="3.6" text-anchor="middle" fill="#111" transform="translate(375.00,46.10) rotate(-90)">MFI minus isotype MFI</text>
<line x1="387.30" y1="26.00" x2="387.30" y2="68.30" stroke="#222" stroke-width="0.55"/>
<line x1="387.30" y1="68.30" x2="416.00" y2="68.30" stroke="#222" stroke-width="0.55"/>
<line x1="386.00" y1="68.30" x2="387.30" y2="68.30" stroke="#222" stroke-width="0.45"/>
<text x="385.70" y="69.35" font-size="3.0" text-anchor="end" fill="#222">0</text>
<line x1="386.00" y1="59.84" x2="387.30" y2="59.84" stroke="#222" stroke-width="0.45"/>
<text x="385.70" y="60.89" font-size="3.0" text-anchor="end" fill="#222">1000</text>
<line x1="386.00" y1="51.38" x2="387.30" y2="51.38" stroke="#222" stroke-width="0.45"/>
<text x="385.70" y="52.43" font-size="3.0" text-anchor="end" fill="#222">2000</text>
<line x1="386.00" y1="42.92" x2="387.30" y2="42.92" stroke="#222" stroke-width="0.45"/>
<text x="385.70" y="43.97" font-size="3.0" text-anchor="end" fill="#222">3000</text>
<line x1="386.00" y1="34.46" x2="387.30" y2="34.46" stroke="#222" stroke-width="0.45"/>
<text x="385.70" y="35.51" font-size="3.0" text-anchor="end" fill="#222">4000</text>
<line x1="386.00" y1="26.00" x2="387.30" y2="26.00" stroke="#222" stroke-width="0.45"/>
<text x="385.70" y="27.05" font-size="3.0" text-anchor="end" fill="#222">5000</text>
<line x1="392.60" y1="55.40" x2="392.60" y2="48.90" stroke="#1a1a1a" stroke-width="0.75"/>
<line x1="391.40" y1="48.90" x2="393.80" y2="48.90" stroke="#1a1a1a" stroke-width="0.75"/>
<rect x="389.85" y="55.70" width="5.50" height="12.60" fill="#fff" stroke="#2a2a2a" stroke-width="0.55"/>
<line x1="402.45" y1="41.50" x2="402.45" y2="30.30" stroke="#1a1a1a" stroke-width="0.75"/>
<line x1="401.25" y1="30.30" x2="403.65" y2="30.30" stroke="#1a1a1a" stroke-width="0.75"/>
<rect x="399.40" y="41.50" width="6.10" height="26.80" fill="#000"/>
<line x1="412.20" y1="41.90" x2="412.20" y2="28.90" stroke="#1a1a1a" stroke-width="0.75"/>
<line x1="411.00" y1="28.90" x2="413.40" y2="28.90" stroke="#1a1a1a" stroke-width="0.75"/>
<rect x="409.15" y="41.90" width="6.10" height="26.40" fill="#e5661e"/>
<text x="392.60" y="73.10" font-size="3.9" text-anchor="middle" fill="#111">C</text>
<text x="402.45" y="73.10" font-size="3.9" text-anchor="middle" fill="#111">I</text>
<text x="412.20" y="73.10" font-size="3.9" text-anchor="middle" fill="#111">N</text>
<text x="452.00" y="19.55" font-size="4.2" font-weight="bold" text-anchor="middle" fill="#000" stroke="#000" stroke-width="0.08">HLA-ABC (n = 6)</text>
<text x="0" y="0" font-size="3.6" text-anchor="middle" fill="#111" transform="translate(424.70,46.10) rotate(-90)">MFI minus isotype MFI</text>
<line x1="437.00" y1="26.00" x2="437.00" y2="68.30" stroke="#222" stroke-width="0.55"/>
<line x1="437.00" y1="68.30" x2="465.95" y2="68.30" stroke="#222" stroke-width="0.55"/>
<line x1="435.70" y1="68.30" x2="437.00" y2="68.30" stroke="#222" stroke-width="0.45"/>
<text x="435.40" y="69.35" font-size="3.0" text-anchor="end" fill="#222">0</text>
<line x1="435.70" y1="59.84" x2="437.00" y2="59.84" stroke="#222" stroke-width="0.45"/>
<text x="435.40" y="60.89" font-size="3.0" text-anchor="end" fill="#222">10000</text>
<line x1="435.70" y1="51.38" x2="437.00" y2="51.38" stroke="#222" stroke-width="0.45"/>
<text x="435.40" y="52.43" font-size="3.0" text-anchor="end" fill="#222">20000</text>
<line x1="435.70" y1="42.92" x2="437.00" y2="42.92" stroke="#222" stroke-width="0.45"/>
<text x="435.40" y="43.97" font-size="3.0" text-anchor="end" fill="#222">30000</text>
<line x1="435.70" y1="34.46" x2="437.00" y2="34.46" stroke="#222" stroke-width="0.45"/>
<text x="435.40" y="35.51" font-size="3.0" text-anchor="end" fill="#222">40000</text>
<line x1="435.70" y1="26.00" x2="437.00" y2="26.00" stroke="#222" stroke-width="0.45"/>
<text x="435.40" y="27.05" font-size="3.0" text-anchor="end" fill="#222">50000</text>
<line x1="442.55" y1="43.90" x2="442.55" y2="39.30" stroke="#1a1a1a" stroke-width="0.75"/>
<line x1="441.35" y1="39.30" x2="443.75" y2="39.30" stroke="#1a1a1a" stroke-width="0.75"/>
<rect x="439.80" y="44.20" width="5.50" height="24.10" fill="#fff" stroke="#2a2a2a" stroke-width="0.55"/>
<line x1="452.00" y1="36.90" x2="452.00" y2="32.90" stroke="#1a1a1a" stroke-width="0.75"/>
<line x1="450.80" y1="32.90" x2="453.20" y2="32.90" stroke="#1a1a1a" stroke-width="0.75"/>
<rect x="448.95" y="36.90" width="6.10" height="31.40" fill="#000"/>
<line x1="462.15" y1="45.30" x2="462.15" y2="41.90" stroke="#1a1a1a" stroke-width="0.75"/>
<line x1="460.95" y1="41.90" x2="463.35" y2="41.90" stroke="#1a1a1a" stroke-width="0.75"/>
<rect x="459.10" y="45.30" width="6.10" height="23.00" fill="#e5661e"/>
<line x1="442.55" y1="29.90" x2="452.00" y2="29.90" stroke="#111" stroke-width="0.75"/>
<text x="447.27" y="30.80" font-size="3.4" text-anchor="middle" fill="#444">*</text>
<line x1="452.00" y1="29.90" x2="462.15" y2="29.90" stroke="#111" stroke-width="0.75"/>
<text x="457.07" y="30.80" font-size="3.4" text-anchor="middle" fill="#444">*</text>
<text x="442.55" y="73.10" font-size="3.9" text-anchor="middle" fill="#111">C</text>
<text x="452.00" y="73.10" font-size="3.9" text-anchor="middle" fill="#111">I</text>
<text x="462.15" y="73.10" font-size="3.9" text-anchor="middle" fill="#111">N</text>
<text x="502.00" y="19.55" font-size="4.2" font-weight="bold" text-anchor="middle" fill="#000" stroke="#000" stroke-width="0.08">HLA-DR (n = 5)</text>
<text x="0" y="0" font-size="3.6" text-anchor="middle" fill="#111" transform="translate(475.00,46.10) rotate(-90)">MFI minus isotype MFI</text>
<line x1="487.30" y1="26.00" x2="487.30" y2="68.30" stroke="#222" stroke-width="0.55"/>
<line x1="487.30" y1="68.30" x2="515.55" y2="68.30" stroke="#222" stroke-width="0.55"/>
<line x1="486.00" y1="68.30" x2="487.30" y2="68.30" stroke="#222" stroke-width="0.45"/>
<text x="485.70" y="69.35" font-size="3.0" text-anchor="end" fill="#222">0</text>
<line x1="486.00" y1="59.84" x2="487.30" y2="59.84" stroke="#222" stroke-width="0.45"/>
<text x="485.70" y="60.89" font-size="3.0" text-anchor="end" fill="#222">10000</text>
<line x1="486.00" y1="51.38" x2="487.30" y2="51.38" stroke="#222" stroke-width="0.45"/>
<text x="485.70" y="52.43" font-size="3.0" text-anchor="end" fill="#222">20000</text>
<line x1="486.00" y1="42.92" x2="487.30" y2="42.92" stroke="#222" stroke-width="0.45"/>
<text x="485.70" y="43.97" font-size="3.0" text-anchor="end" fill="#222">30000</text>
<line x1="486.00" y1="34.46" x2="487.30" y2="34.46" stroke="#222" stroke-width="0.45"/>
<text x="485.70" y="35.51" font-size="3.0" text-anchor="end" fill="#222">40000</text>
<line x1="486.00" y1="26.00" x2="487.30" y2="26.00" stroke="#222" stroke-width="0.45"/>
<text x="485.70" y="27.05" font-size="3.0" text-anchor="end" fill="#222">50000</text>
<line x1="492.05" y1="64.80" x2="492.05" y2="63.80" stroke="#1a1a1a" stroke-width="0.75"/>
<line x1="490.85" y1="63.80" x2="493.25" y2="63.80" stroke="#1a1a1a" stroke-width="0.75"/>
<rect x="489.30" y="65.10" width="5.50" height="3.20" fill="#fff" stroke="#2a2a2a" stroke-width="0.55"/>
<line x1="502.00" y1="41.50" x2="502.00" y2="33.50" stroke="#1a1a1a" stroke-width="0.75"/>
<line x1="500.80" y1="33.50" x2="503.20" y2="33.50" stroke="#1a1a1a" stroke-width="0.75"/>
<rect x="498.95" y="41.50" width="6.10" height="26.80" fill="#000"/>
<line x1="511.75" y1="57.80" x2="511.75" y2="52.90" stroke="#1a1a1a" stroke-width="0.75"/>
<line x1="510.55" y1="52.90" x2="512.95" y2="52.90" stroke="#1a1a1a" stroke-width="0.75"/>
<rect x="508.70" y="57.80" width="6.10" height="10.50" fill="#e5661e"/>
<line x1="492.05" y1="31.00" x2="502.00" y2="31.00" stroke="#111" stroke-width="0.75"/>
<text x="497.02" y="31.90" font-size="3.4" text-anchor="middle" fill="#444">***</text>
<line x1="502.00" y1="31.00" x2="511.75" y2="31.00" stroke="#111" stroke-width="0.75"/>
<text x="506.88" y="31.90" font-size="3.4" text-anchor="middle" fill="#444">***</text>
<text x="492.05" y="73.10" font-size="3.9" text-anchor="middle" fill="#111">C</text>
<text x="502.00" y="73.10" font-size="3.9" text-anchor="middle" fill="#111">I</text>
<text x="511.75" y="73.10" font-size="3.9" text-anchor="middle" fill="#111">N</text>
<text x="301.15" y="85.55" font-size="4.2" font-weight="bold" text-anchor="middle" fill="#000" stroke="#000" stroke-width="0.08">CD32 (n = 6)</text>
<text x="0" y="0" font-size="3.6" text-anchor="middle" fill="#111" transform="translate(274.50,112.40) rotate(-90)">MFI minus isotype MFI</text>
<line x1="286.80" y1="92.30" x2="286.80" y2="134.60" stroke="#222" stroke-width="0.55"/>
<line x1="286.80" y1="134.60" x2="314.80" y2="134.60" stroke="#222" stroke-width="0.55"/>
<line x1="285.50" y1="134.60" x2="286.80" y2="134.60" stroke="#222" stroke-width="0.45"/>
<text x="285.20" y="135.65" font-size="3.0" text-anchor="end" fill="#222">0</text>
<line x1="285.50" y1="126.14" x2="286.80" y2="126.14" stroke="#222" stroke-width="0.45"/>
<text x="285.20" y="127.19" font-size="3.0" text-anchor="end" fill="#222">1000</text>
<line x1="285.50" y1="117.68" x2="286.80" y2="117.68" stroke="#222" stroke-width="0.45"/>
<text x="285.20" y="118.73" font-size="3.0" text-anchor="end" fill="#222">2000</text>
<line x1="285.50" y1="109.22" x2="286.80" y2="109.22" stroke="#222" stroke-width="0.45"/>
<text x="285.20" y="110.27" font-size="3.0" text-anchor="end" fill="#222">3000</text>
<line x1="285.50" y1="100.76" x2="286.80" y2="100.76" stroke="#222" stroke-width="0.45"/>
<text x="285.20" y="101.81" font-size="3.0" text-anchor="end" fill="#222">4000</text>
<line x1="285.50" y1="92.30" x2="286.80" y2="92.30" stroke="#222" stroke-width="0.45"/>
<text x="285.20" y="93.35" font-size="3.0" text-anchor="end" fill="#222">5000</text>
<line x1="291.65" y1="114.90" x2="291.65" y2="107.90" stroke="#1a1a1a" stroke-width="0.75"/>
<line x1="290.45" y1="107.90" x2="292.85" y2="107.90" stroke="#1a1a1a" stroke-width="0.75"/>
<rect x="288.90" y="115.20" width="5.50" height="19.40" fill="#fff" stroke="#2a2a2a" stroke-width="0.55"/>
<line x1="301.15" y1="105.50" x2="301.15" y2="98.30" stroke="#1a1a1a" stroke-width="0.75"/>
<line x1="299.95" y1="98.30" x2="302.35" y2="98.30" stroke="#1a1a1a" stroke-width="0.75"/>
<rect x="298.10" y="105.50" width="6.10" height="29.10" fill="#000"/>
<line x1="311.00" y1="110.30" x2="311.00" y2="102.90" stroke="#1a1a1a" stroke-width="0.75"/>
<line x1="309.80" y1="102.90" x2="312.20" y2="102.90" stroke="#1a1a1a" stroke-width="0.75"/>
<rect x="307.95" y="110.30" width="6.10" height="24.30" fill="#e5661e"/>
<text x="291.65" y="139.40" font-size="3.9" text-anchor="middle" fill="#111">C</text>
<text x="301.15" y="139.40" font-size="3.9" text-anchor="middle" fill="#111">I</text>
<text x="311.00" y="139.40" font-size="3.9" text-anchor="middle" fill="#111">N</text>
<text x="352.15" y="85.55" font-size="4.2" font-weight="bold" text-anchor="middle" fill="#000" stroke="#000" stroke-width="0.08">CD64 (n = 4)</text>
<text x="0" y="0" font-size="3.6" text-anchor="middle" fill="#111" transform="translate(324.70,112.40) rotate(-90)">MFI minus isotype MFI</text>
<line x1="337.00" y1="92.30" x2="337.00" y2="134.60" stroke="#222" stroke-width="0.55"/>
<line x1="337.00" y1="134.60" x2="365.85" y2="134.60" stroke="#222" stroke-width="0.55"/>
<line x1="335.70" y1="134.60" x2="337.00" y2="134.60" stroke="#222" stroke-width="0.45"/>
<text x="335.40" y="135.65" font-size="3.0" text-anchor="end" fill="#222">0</text>
<line x1="335.70" y1="120.50" x2="337.00" y2="120.50" stroke="#222" stroke-width="0.45"/>
<text x="335.40" y="121.55" font-size="3.0" text-anchor="end" fill="#222">1000</text>
<line x1="335.70" y1="106.40" x2="337.00" y2="106.40" stroke="#222" stroke-width="0.45"/>
<text x="335.40" y="107.45" font-size="3.0" text-anchor="end" fill="#222">2000</text>
<line x1="335.70" y1="92.30" x2="337.00" y2="92.30" stroke="#222" stroke-width="0.45"/>
<text x="335.40" y="93.35" font-size="3.0" text-anchor="end" fill="#222">3000</text>
<line x1="342.45" y1="104.50" x2="342.45" y2="97.90" stroke="#1a1a1a" stroke-width="0.75"/>
<line x1="341.25" y1="97.90" x2="343.65" y2="97.90" stroke="#1a1a1a" stroke-width="0.75"/>
<rect x="339.70" y="104.80" width="5.50" height="29.80" fill="#fff" stroke="#2a2a2a" stroke-width="0.55"/>
<line x1="352.15" y1="121.80" x2="352.15" y2="118.90" stroke="#1a1a1a" stroke-width="0.75"/>
<line x1="350.95" y1="118.90" x2="353.35" y2="118.90" stroke="#1a1a1a" stroke-width="0.75"/>
<rect x="349.10" y="121.80" width="6.10" height="12.80" fill="#000"/>
<line x1="362.05" y1="131.40" x2="362.05" y2="129.80" stroke="#1a1a1a" stroke-width="0.75"/>
<line x1="360.85" y1="129.80" x2="363.25" y2="129.80" stroke="#1a1a1a" stroke-width="0.75"/>
<rect x="359.00" y="131.40" width="6.10" height="3.20" fill="#e5661e"/>
<line x1="342.45" y1="92.30" x2="362.05" y2="92.30" stroke="#111" stroke-width="0.75"/>
<text x="352.25" y="93.20" font-size="3.4" text-anchor="middle" fill="#444">***</text>
<line x1="342.45" y1="95.50" x2="352.15" y2="95.50" stroke="#111" stroke-width="0.75"/>
<text x="347.30" y="96.40" font-size="3.4" text-anchor="middle" fill="#444">***</text>
<line x1="352.15" y1="95.50" x2="362.05" y2="95.50" stroke="#111" stroke-width="0.75"/>
<text x="357.10" y="96.40" font-size="3.4" text-anchor="middle" fill="#444">*</text>
<text x="342.45" y="139.40" font-size="3.9" text-anchor="middle" fill="#111">C</text>
<text x="352.15" y="139.40" font-size="3.9" text-anchor="middle" fill="#111">I</text>
<text x="362.05" y="139.40" font-size="3.9" text-anchor="middle" fill="#111">N</text>
<text x="402.45" y="85.55" font-size="4.2" font-weight="bold" text-anchor="middle" fill="#000" stroke="#000" stroke-width="0.08">CCR1 (n = 6)</text>
<text x="0" y="0" font-size="3.6" text-anchor="middle" fill="#111" transform="translate(375.00,112.40) rotate(-90)">MFI minus isotype MFI</text>
<line x1="387.30" y1="92.30" x2="387.30" y2="134.60" stroke="#222" stroke-width="0.55"/>
<line x1="387.30" y1="134.60" x2="416.00" y2="134.60" stroke="#222" stroke-width="0.55"/>
<line x1="386.00" y1="134.60" x2="387.30" y2="134.60" stroke="#222" stroke-width="0.45"/>
<text x="385.70" y="135.65" font-size="3.0" text-anchor="end" fill="#222">0</text>
<line x1="386.00" y1="120.50" x2="387.30" y2="120.50" stroke="#222" stroke-width="0.45"/>
<text x="385.70" y="121.55" font-size="3.0" text-anchor="end" fill="#222">500</text>
<line x1="386.00" y1="106.40" x2="387.30" y2="106.40" stroke="#222" stroke-width="0.45"/>
<text x="385.70" y="107.45" font-size="3.0" text-anchor="end" fill="#222">1000</text>
<line x1="386.00" y1="92.30" x2="387.30" y2="92.30" stroke="#222" stroke-width="0.45"/>
<text x="385.70" y="93.35" font-size="3.0" text-anchor="end" fill="#222">1500</text>
<line x1="392.60" y1="108.90" x2="392.60" y2="95.90" stroke="#1a1a1a" stroke-width="0.75"/>
<line x1="391.40" y1="95.90" x2="393.80" y2="95.90" stroke="#1a1a1a" stroke-width="0.75"/>
<rect x="389.85" y="109.20" width="5.50" height="25.40" fill="#fff" stroke="#2a2a2a" stroke-width="0.55"/>
<line x1="402.45" y1="124.20" x2="402.45" y2="118.90" stroke="#1a1a1a" stroke-width="0.75"/>
<line x1="401.25" y1="118.90" x2="403.65" y2="118.90" stroke="#1a1a1a" stroke-width="0.75"/>
<rect x="399.40" y="124.20" width="6.10" height="10.40" fill="#000"/>
<line x1="412.20" y1="132.80" x2="412.20" y2="130.80" stroke="#1a1a1a" stroke-width="0.75"/>
<line x1="411.00" y1="130.80" x2="413.40" y2="130.80" stroke="#1a1a1a" stroke-width="0.75"/>
<rect x="409.15" y="132.80" width="6.10" height="1.80" fill="#e5661e"/>
<line x1="392.60" y1="90.40" x2="412.20" y2="90.40" stroke="#111" stroke-width="0.75"/>
<text x="402.40" y="91.30" font-size="3.4" text-anchor="middle" fill="#444">***</text>
<line x1="392.60" y1="93.50" x2="402.45" y2="93.50" stroke="#111" stroke-width="0.75"/>
<text x="397.52" y="94.40" font-size="3.4" text-anchor="middle" fill="#444">**</text>
<text x="392.60" y="139.40" font-size="3.9" text-anchor="middle" fill="#111">C</text>
<text x="402.45" y="139.40" font-size="3.9" text-anchor="middle" fill="#111">I</text>
<text x="412.20" y="139.40" font-size="3.9" text-anchor="middle" fill="#111">N</text>
<text x="452.00" y="85.55" font-size="4.2" font-weight="bold" text-anchor="middle" fill="#000" stroke="#000" stroke-width="0.08">CCR2 (n = 6)</text>
<text x="0" y="0" font-size="3.6" text-anchor="middle" fill="#111" transform="translate(424.70,112.40) rotate(-90)">MFI minus isotype MFI</text>
<line x1="437.00" y1="92.30" x2="437.00" y2="134.60" stroke="#222" stroke-width="0.55"/>
<line x1="437.00" y1="134.60" x2="465.95" y2="134.60" stroke="#222" stroke-width="0.55"/>
<line x1="435.70" y1="134.60" x2="437.00" y2="134.60" stroke="#222" stroke-width="0.45"/>
<text x="435.40" y="135.65" font-size="3.0" text-anchor="end" fill="#222">0</text>
<line x1="435.70" y1="120.50" x2="437.00" y2="120.50" stroke="#222" stroke-width="0.45"/>
<text x="435.40" y="121.55" font-size="3.0" text-anchor="end" fill="#222">500</text>
<line x1="435.70" y1="106.40" x2="437.00" y2="106.40" stroke="#222" stroke-width="0.45"/>
<text x="435.40" y="107.45" font-size="3.0" text-anchor="end" fill="#222">1000</text>
<line x1="435.70" y1="92.30" x2="437.00" y2="92.30" stroke="#222" stroke-width="0.45"/>
<text x="435.40" y="93.35" font-size="3.0" text-anchor="end" fill="#222">1500</text>
<line x1="442.55" y1="107.50" x2="442.55" y2="93.50" stroke="#1a1a1a" stroke-width="0.75"/>
<line x1="441.35" y1="93.50" x2="443.75" y2="93.50" stroke="#1a1a1a" stroke-width="0.75"/>
<rect x="439.80" y="107.80" width="5.50" height="26.80" fill="#fff" stroke="#2a2a2a" stroke-width="0.55"/>
<line x1="452.00" y1="133.80" x2="452.00" y2="132.80" stroke="#1a1a1a" stroke-width="0.75"/>
<line x1="450.80" y1="132.80" x2="453.20" y2="132.80" stroke="#1a1a1a" stroke-width="0.75"/>
<rect x="448.95" y="133.80" width="6.10" height="0.80" fill="#000"/>
<rect x="459.10" y="134.30" width="6.10" height="0.30" fill="#e5661e"/>
<line x1="442.55" y1="90.00" x2="462.15" y2="90.00" stroke="#111" stroke-width="0.75"/>
<text x="452.35" y="90.90" font-size="3.4" text-anchor="middle" fill="#444">***</text>
<line x1="442.55" y1="92.30" x2="452.00" y2="92.30" stroke="#111" stroke-width="0.75"/>
<text x="447.27" y="93.20" font-size="3.4" text-anchor="middle" fill="#444">****</text>
<text x="442.55" y="139.40" font-size="3.9" text-anchor="middle" fill="#111">C</text>
<text x="452.00" y="139.40" font-size="3.9" text-anchor="middle" fill="#111">I</text>
<text x="462.15" y="139.40" font-size="3.9" text-anchor="middle" fill="#111">N</text>
<text x="502.00" y="85.55" font-size="4.2" font-weight="bold" text-anchor="middle" fill="#000" stroke="#000" stroke-width="0.08">CCR5 (n = 7)</text>
<text x="0" y="0" font-size="3.6" text-anchor="middle" fill="#111" transform="translate(475.00,112.40) rotate(-90)">MFI minus isotype MFI</text>
<line x1="487.30" y1="92.30" x2="487.30" y2="134.60" stroke="#222" stroke-width="0.55"/>
<line x1="487.30" y1="134.60" x2="515.55" y2="134.60" stroke="#222" stroke-width="0.55"/>
<line x1="486.00" y1="134.60" x2="487.30" y2="134.60" stroke="#222" stroke-width="0.45"/>
<text x="485.70" y="135.65" font-size="3.0" text-anchor="end" fill="#222">0</text>
<line x1="486.00" y1="120.50" x2="487.30" y2="120.50" stroke="#222" stroke-width="0.45"/>
<text x="485.70" y="121.55" font-size="3.0" text-anchor="end" fill="#222">100</text>
<line x1="486.00" y1="106.40" x2="487.30" y2="106.40" stroke="#222" stroke-width="0.45"/>
<text x="485.70" y="107.45" font-size="3.0" text-anchor="end" fill="#222">200</text>
<line x1="486.00" y1="92.30" x2="487.30" y2="92.30" stroke="#222" stroke-width="0.45"/>
<text x="485.70" y="93.35" font-size="3.0" text-anchor="end" fill="#222">300</text>
<line x1="492.05" y1="111.90" x2="492.05" y2="105.90" stroke="#1a1a1a" stroke-width="0.75"/>
<line x1="490.85" y1="105.90" x2="493.25" y2="105.90" stroke="#1a1a1a" stroke-width="0.75"/>
<rect x="489.30" y="112.20" width="5.50" height="22.40" fill="#fff" stroke="#2a2a2a" stroke-width="0.55"/>
<line x1="502.00" y1="108.30" x2="502.00" y2="95.90" stroke="#1a1a1a" stroke-width="0.75"/>
<line x1="500.80" y1="95.90" x2="503.20" y2="95.90" stroke="#1a1a1a" stroke-width="0.75"/>
<rect x="498.95" y="108.30" width="6.10" height="26.30" fill="#000"/>
<line x1="511.75" y1="131.40" x2="511.75" y2="126.80" stroke="#1a1a1a" stroke-width="0.75"/>
<line x1="510.55" y1="126.80" x2="512.95" y2="126.80" stroke="#1a1a1a" stroke-width="0.75"/>
<rect x="508.70" y="131.40" width="6.10" height="3.20" fill="#e5661e"/>
<line x1="492.05" y1="90.40" x2="511.75" y2="90.40" stroke="#111" stroke-width="0.75"/>
<text x="501.90" y="91.30" font-size="3.4" text-anchor="middle" fill="#444">***</text>
<line x1="502.00" y1="93.50" x2="511.75" y2="93.50" stroke="#111" stroke-width="0.75"/>
<text x="506.88" y="94.40" font-size="3.4" text-anchor="middle" fill="#444">****</text>
<text x="492.05" y="139.40" font-size="3.9" text-anchor="middle" fill="#111">C</text>
<text x="502.00" y="139.40" font-size="3.9" text-anchor="middle" fill="#111">I</text>
<text x="511.75" y="139.40" font-size="3.9" text-anchor="middle" fill="#111">N</text>
<text x="301.15" y="149.85" font-size="4.2" font-weight="bold" text-anchor="middle" fill="#000" stroke="#000" stroke-width="0.08">CXCR1 (n = 6)</text>
<text x="0" y="0" font-size="3.6" text-anchor="middle" fill="#111" transform="translate(274.50,177.10) rotate(-90)">MFI minus isotype MFI</text>
<line x1="286.80" y1="157.00" x2="286.80" y2="199.30" stroke="#222" stroke-width="0.55"/>
<line x1="286.80" y1="199.30" x2="314.80" y2="199.30" stroke="#222" stroke-width="0.55"/>
<line x1="285.50" y1="199.30" x2="286.80" y2="199.30" stroke="#222" stroke-width="0.45"/>
<text x="285.20" y="200.35" font-size="3.0" text-anchor="end" fill="#222">0</text>
<line x1="285.50" y1="190.84" x2="286.80" y2="190.84" stroke="#222" stroke-width="0.45"/>
<text x="285.20" y="191.89" font-size="3.0" text-anchor="end" fill="#222">500</text>
<line x1="285.50" y1="182.38" x2="286.80" y2="182.38" stroke="#222" stroke-width="0.45"/>
<text x="285.20" y="183.43" font-size="3.0" text-anchor="end" fill="#222">1000</text>
<line x1="285.50" y1="173.92" x2="286.80" y2="173.92" stroke="#222" stroke-width="0.45"/>
<text x="285.20" y="174.97" font-size="3.0" text-anchor="end" fill="#222">1500</text>
<line x1="285.50" y1="165.46" x2="286.80" y2="165.46" stroke="#222" stroke-width="0.45"/>
<text x="285.20" y="166.51" font-size="3.0" text-anchor="end" fill="#222">2000</text>
<line x1="285.50" y1="157.00" x2="286.80" y2="157.00" stroke="#222" stroke-width="0.45"/>
<text x="285.20" y="158.05" font-size="3.0" text-anchor="end" fill="#222">2500</text>
<line x1="291.65" y1="171.90" x2="291.65" y2="161.30" stroke="#1a1a1a" stroke-width="0.75"/>
<line x1="290.45" y1="161.30" x2="292.85" y2="161.30" stroke="#1a1a1a" stroke-width="0.75"/>
<rect x="288.90" y="172.20" width="5.50" height="27.10" fill="#fff" stroke="#2a2a2a" stroke-width="0.55"/>
<line x1="301.15" y1="193.80" x2="301.15" y2="190.40" stroke="#1a1a1a" stroke-width="0.75"/>
<line x1="299.95" y1="190.40" x2="302.35" y2="190.40" stroke="#1a1a1a" stroke-width="0.75"/>
<rect x="298.10" y="193.80" width="6.10" height="5.50" fill="#000"/>
<line x1="311.00" y1="197.80" x2="311.00" y2="196.70" stroke="#1a1a1a" stroke-width="0.75"/>
<line x1="309.80" y1="196.70" x2="312.20" y2="196.70" stroke="#1a1a1a" stroke-width="0.75"/>
<rect x="307.95" y="197.80" width="6.10" height="1.50" fill="#e5661e"/>
<line x1="291.65" y1="155.40" x2="311.00" y2="155.40" stroke="#111" stroke-width="0.75"/>
<text x="301.32" y="156.30" font-size="3.4" text-anchor="middle" fill="#444">****</text>
<line x1="291.65" y1="158.50" x2="301.15" y2="158.50" stroke="#111" stroke-width="0.75"/>
<text x="296.40" y="159.40" font-size="3.4" text-anchor="middle" fill="#444">****</text>
<text x="291.65" y="204.10" font-size="3.9" text-anchor="middle" fill="#111">C</text>
<text x="301.15" y="204.10" font-size="3.9" text-anchor="middle" fill="#111">I</text>
<text x="311.00" y="204.10" font-size="3.9" text-anchor="middle" fill="#111">N</text>
<text x="352.15" y="149.85" font-size="4.2" font-weight="bold" text-anchor="middle" fill="#000" stroke="#000" stroke-width="0.08">CXCR2 (n =6)</text>
<text x="0" y="0" font-size="3.6" text-anchor="middle" fill="#111" transform="translate(324.70,177.10) rotate(-90)">MFI minus isotype MFI</text>
<line x1="337.00" y1="157.00" x2="337.00" y2="199.30" stroke="#222" stroke-width="0.55"/>
<line x1="337.00" y1="199.30" x2="365.85" y2="199.30" stroke="#222" stroke-width="0.55"/>
<line x1="335.70" y1="199.30" x2="337.00" y2="199.30" stroke="#222" stroke-width="0.45"/>
<text x="335.40" y="200.35" font-size="3.0" text-anchor="end" fill="#222">0</text>
<line x1="335.70" y1="190.84" x2="337.00" y2="190.84" stroke="#222" stroke-width="0.45"/>
<text x="335.40" y="191.89" font-size="3.0" text-anchor="end" fill="#222">200</text>
<line x1="335.70" y1="182.38" x2="337.00" y2="182.38" stroke="#222" stroke-width="0.45"/>
<text x="335.40" y="183.43" font-size="3.0" text-anchor="end" fill="#222">400</text>
<line x1="335.70" y1="173.92" x2="337.00" y2="173.92" stroke="#222" stroke-width="0.45"/>
<text x="335.40" y="174.97" font-size="3.0" text-anchor="end" fill="#222">600</text>
<line x1="335.70" y1="165.46" x2="337.00" y2="165.46" stroke="#222" stroke-width="0.45"/>
<text x="335.40" y="166.51" font-size="3.0" text-anchor="end" fill="#222">800</text>
<line x1="335.70" y1="157.00" x2="337.00" y2="157.00" stroke="#222" stroke-width="0.45"/>
<text x="335.40" y="158.05" font-size="3.0" text-anchor="end" fill="#222">1000</text>
<line x1="342.45" y1="175.20" x2="342.45" y2="165.20" stroke="#1a1a1a" stroke-width="0.75"/>
<line x1="341.25" y1="165.20" x2="343.65" y2="165.20" stroke="#1a1a1a" stroke-width="0.75"/>
<rect x="339.70" y="175.50" width="5.50" height="23.80" fill="#fff" stroke="#2a2a2a" stroke-width="0.55"/>
<line x1="352.15" y1="195.70" x2="352.15" y2="194.20" stroke="#1a1a1a" stroke-width="0.75"/>
<line x1="350.95" y1="194.20" x2="353.35" y2="194.20" stroke="#1a1a1a" stroke-width="0.75"/>
<rect x="349.10" y="195.70" width="6.10" height="3.60" fill="#000"/>
<line x1="362.05" y1="198.20" x2="362.05" y2="197.70" stroke="#1a1a1a" stroke-width="0.75"/>
<line x1="360.85" y1="197.70" x2="363.25" y2="197.70" stroke="#1a1a1a" stroke-width="0.75"/>
<rect x="359.00" y="198.20" width="6.10" height="1.10" fill="#e5661e"/>
<line x1="342.45" y1="157.30" x2="362.05" y2="157.30" stroke="#111" stroke-width="0.75"/>
<text x="352.25" y="158.20" font-size="3.4" text-anchor="middle" fill="#444">****</text>
<line x1="342.45" y1="161.00" x2="352.15" y2="161.00" stroke="#111" stroke-width="0.75"/>
<text x="347.30" y="161.90" font-size="3.4" text-anchor="middle" fill="#444">****</text>
<text x="342.45" y="204.10" font-size="3.9" text-anchor="middle" fill="#111">C</text>
<text x="352.15" y="204.10" font-size="3.9" text-anchor="middle" fill="#111">I</text>
<text x="362.05" y="204.10" font-size="3.9" text-anchor="middle" fill="#111">N</text>
<text x="402.45" y="149.85" font-size="4.2" font-weight="bold" text-anchor="middle" fill="#000" stroke="#000" stroke-width="0.08">CXCR4 (n = 4)</text>
<text x="0" y="0" font-size="3.6" text-anchor="middle" fill="#111" transform="translate(375.00,177.10) rotate(-90)">MFI minus isotype MFI</text>
<line x1="387.30" y1="157.00" x2="387.30" y2="199.30" stroke="#222" stroke-width="0.55"/>
<line x1="387.30" y1="199.30" x2="416.00" y2="199.30" stroke="#222" stroke-width="0.55"/>
<line x1="386.00" y1="199.30" x2="387.30" y2="199.30" stroke="#222" stroke-width="0.45"/>
<text x="385.70" y="200.35" font-size="3.0" text-anchor="end" fill="#222">0</text>
<line x1="386.00" y1="185.20" x2="387.30" y2="185.20" stroke="#222" stroke-width="0.45"/>
<text x="385.70" y="186.25" font-size="3.0" text-anchor="end" fill="#222">200</text>
<line x1="386.00" y1="171.10" x2="387.30" y2="171.10" stroke="#222" stroke-width="0.45"/>
<text x="385.70" y="172.15" font-size="3.0" text-anchor="end" fill="#222">400</text>
<line x1="386.00" y1="157.00" x2="387.30" y2="157.00" stroke="#222" stroke-width="0.45"/>
<text x="385.70" y="158.05" font-size="3.0" text-anchor="end" fill="#222">600</text>
<line x1="392.60" y1="164.90" x2="392.60" y2="160.30" stroke="#1a1a1a" stroke-width="0.75"/>
<line x1="391.40" y1="160.30" x2="393.80" y2="160.30" stroke="#1a1a1a" stroke-width="0.75"/>
<rect x="389.85" y="165.20" width="5.50" height="34.10" fill="#fff" stroke="#2a2a2a" stroke-width="0.55"/>
<line x1="402.45" y1="181.90" x2="402.45" y2="165.30" stroke="#1a1a1a" stroke-width="0.75"/>
<line x1="401.25" y1="165.30" x2="403.65" y2="165.30" stroke="#1a1a1a" stroke-width="0.75"/>
<rect x="399.40" y="181.90" width="6.10" height="17.40" fill="#000"/>
<line x1="412.20" y1="195.80" x2="412.20" y2="192.80" stroke="#1a1a1a" stroke-width="0.75"/>
<line x1="411.00" y1="192.80" x2="413.40" y2="192.80" stroke="#1a1a1a" stroke-width="0.75"/>
<rect x="409.15" y="195.80" width="6.10" height="3.50" fill="#e5661e"/>
<line x1="392.60" y1="158.00" x2="412.20" y2="158.00" stroke="#111" stroke-width="0.75"/>
<text x="402.40" y="158.90" font-size="3.4" text-anchor="middle" fill="#444">**</text>
<text x="392.60" y="204.10" font-size="3.9" text-anchor="middle" fill="#111">C</text>
<text x="402.45" y="204.10" font-size="3.9" text-anchor="middle" fill="#111">I</text>
<text x="412.20" y="204.10" font-size="3.9" text-anchor="middle" fill="#111">N</text>
<text x="452.00" y="149.85" font-size="4.2" font-weight="bold" text-anchor="middle" fill="#000" stroke="#000" stroke-width="0.08">CX<tspan font-size="2.8" dy="0.8">3</tspan><tspan dy="-0.8">CR1 (n = 6)</tspan></text>
<text x="0" y="0" font-size="3.6" text-anchor="middle" fill="#111" transform="translate(424.70,177.10) rotate(-90)">MFI minus isotype MFI</text>
<line x1="437.00" y1="157.00" x2="437.00" y2="199.30" stroke="#222" stroke-width="0.55"/>
<line x1="437.00" y1="199.30" x2="465.95" y2="199.30" stroke="#222" stroke-width="0.55"/>
<line x1="435.70" y1="199.30" x2="437.00" y2="199.30" stroke="#222" stroke-width="0.45"/>
<text x="435.40" y="200.35" font-size="3.0" text-anchor="end" fill="#222">0</text>
<line x1="435.70" y1="190.84" x2="437.00" y2="190.84" stroke="#222" stroke-width="0.45"/>
<text x="435.40" y="191.89" font-size="3.0" text-anchor="end" fill="#222">500</text>
<line x1="435.70" y1="182.38" x2="437.00" y2="182.38" stroke="#222" stroke-width="0.45"/>
<text x="435.40" y="183.43" font-size="3.0" text-anchor="end" fill="#222">1000</text>
<line x1="435.70" y1="173.92" x2="437.00" y2="173.92" stroke="#222" stroke-width="0.45"/>
<text x="435.40" y="174.97" font-size="3.0" text-anchor="end" fill="#222">1500</text>
<line x1="435.70" y1="165.46" x2="437.00" y2="165.46" stroke="#222" stroke-width="0.45"/>
<text x="435.40" y="166.51" font-size="3.0" text-anchor="end" fill="#222">2000</text>
<line x1="435.70" y1="157.00" x2="437.00" y2="157.00" stroke="#222" stroke-width="0.45"/>
<text x="435.40" y="158.05" font-size="3.0" text-anchor="end" fill="#222">2500</text>
<line x1="442.55" y1="194.40" x2="442.55" y2="192.80" stroke="#1a1a1a" stroke-width="0.75"/>
<line x1="441.35" y1="192.80" x2="443.75" y2="192.80" stroke="#1a1a1a" stroke-width="0.75"/>
<rect x="439.80" y="194.70" width="5.50" height="4.60" fill="#fff" stroke="#2a2a2a" stroke-width="0.55"/>
<line x1="452.00" y1="183.90" x2="452.00" y2="175.90" stroke="#1a1a1a" stroke-width="0.75"/>
<line x1="450.80" y1="175.90" x2="453.20" y2="175.90" stroke="#1a1a1a" stroke-width="0.75"/>
<rect x="448.95" y="183.90" width="6.10" height="15.40" fill="#000"/>
<line x1="462.15" y1="177.90" x2="462.15" y2="165.90" stroke="#1a1a1a" stroke-width="0.75"/>
<line x1="460.95" y1="165.90" x2="463.35" y2="165.90" stroke="#1a1a1a" stroke-width="0.75"/>
<rect x="459.10" y="177.90" width="6.10" height="21.40" fill="#e5661e"/>
<line x1="442.55" y1="163.90" x2="462.15" y2="163.90" stroke="#111" stroke-width="0.75"/>
<text x="452.35" y="164.80" font-size="3.4" text-anchor="middle" fill="#444">*</text>
<text x="442.55" y="204.10" font-size="3.9" text-anchor="middle" fill="#111">C</text>
<text x="452.00" y="204.10" font-size="3.9" text-anchor="middle" fill="#111">I</text>
<text x="462.15" y="204.10" font-size="3.9" text-anchor="middle" fill="#111">N</text>
<text x="502.00" y="149.85" font-size="4.2" font-weight="bold" text-anchor="middle" fill="#000" stroke="#000" stroke-width="0.08">CD11b (n =6)</text>
<text x="0" y="0" font-size="3.6" text-anchor="middle" fill="#111" transform="translate(475.00,177.10) rotate(-90)">MFI minus isotype MFI</text>
<line x1="487.30" y1="157.00" x2="487.30" y2="199.30" stroke="#222" stroke-width="0.55"/>
<line x1="487.30" y1="199.30" x2="515.55" y2="199.30" stroke="#222" stroke-width="0.55"/>
<line x1="486.00" y1="199.30" x2="487.30" y2="199.30" stroke="#222" stroke-width="0.45"/>
<text x="485.70" y="200.35" font-size="3.0" text-anchor="end" fill="#222">0</text>
<line x1="486.00" y1="185.20" x2="487.30" y2="185.20" stroke="#222" stroke-width="0.45"/>
<text x="485.70" y="186.25" font-size="3.0" text-anchor="end" fill="#222">2000</text>
<line x1="486.00" y1="171.10" x2="487.30" y2="171.10" stroke="#222" stroke-width="0.45"/>
<text x="485.70" y="172.15" font-size="3.0" text-anchor="end" fill="#222">4000</text>
<line x1="486.00" y1="157.00" x2="487.30" y2="157.00" stroke="#222" stroke-width="0.45"/>
<text x="485.70" y="158.05" font-size="3.0" text-anchor="end" fill="#222">6000</text>
<line x1="492.05" y1="170.90" x2="492.05" y2="161.90" stroke="#1a1a1a" stroke-width="0.75"/>
<line x1="490.85" y1="161.90" x2="493.25" y2="161.90" stroke="#1a1a1a" stroke-width="0.75"/>
<rect x="489.30" y="171.20" width="5.50" height="28.10" fill="#fff" stroke="#2a2a2a" stroke-width="0.55"/>
<line x1="502.00" y1="173.30" x2="502.00" y2="164.50" stroke="#1a1a1a" stroke-width="0.75"/>
<line x1="500.80" y1="164.50" x2="503.20" y2="164.50" stroke="#1a1a1a" stroke-width="0.75"/>
<rect x="498.95" y="173.30" width="6.10" height="26.00" fill="#000"/>
<line x1="511.75" y1="192.80" x2="511.75" y2="187.80" stroke="#1a1a1a" stroke-width="0.75"/>
<line x1="510.55" y1="187.80" x2="512.95" y2="187.80" stroke="#1a1a1a" stroke-width="0.75"/>
<rect x="508.70" y="192.80" width="6.10" height="6.50" fill="#e5661e"/>
<line x1="492.05" y1="155.40" x2="511.75" y2="155.40" stroke="#111" stroke-width="0.75"/>
<text x="501.90" y="156.30" font-size="3.4" text-anchor="middle" fill="#444">****</text>
<line x1="502.00" y1="161.00" x2="511.75" y2="161.00" stroke="#111" stroke-width="0.75"/>
<text x="506.88" y="161.90" font-size="3.4" text-anchor="middle" fill="#444">****</text>
<text x="492.05" y="204.10" font-size="3.9" text-anchor="middle" fill="#111">C</text>
<text x="502.00" y="204.10" font-size="3.9" text-anchor="middle" fill="#111">I</text>
<text x="511.75" y="204.10" font-size="3.9" text-anchor="middle" fill="#111">N</text>
<text x="301.15" y="215.55" font-size="4.2" font-weight="bold" text-anchor="middle" fill="#000" stroke="#000" stroke-width="0.08">CD33 (n =4)</text>
<text x="0" y="0" font-size="3.6" text-anchor="middle" fill="#111" transform="translate(274.50,242.40) rotate(-90)">MFI minus isotype MFI</text>
<line x1="286.80" y1="222.30" x2="286.80" y2="264.60" stroke="#222" stroke-width="0.55"/>
<line x1="286.80" y1="264.60" x2="314.80" y2="264.60" stroke="#222" stroke-width="0.55"/>
<line x1="285.50" y1="264.60" x2="286.80" y2="264.60" stroke="#222" stroke-width="0.45"/>
<text x="285.20" y="265.65" font-size="3.0" text-anchor="end" fill="#222">0</text>
<line x1="285.50" y1="256.14" x2="286.80" y2="256.14" stroke="#222" stroke-width="0.45"/>
<text x="285.20" y="257.19" font-size="3.0" text-anchor="end" fill="#222">5000</text>
<line x1="285.50" y1="247.68" x2="286.80" y2="247.68" stroke="#222" stroke-width="0.45"/>
<text x="285.20" y="248.73" font-size="3.0" text-anchor="end" fill="#222">10000</text>
<line x1="285.50" y1="239.22" x2="286.80" y2="239.22" stroke="#222" stroke-width="0.45"/>
<text x="285.20" y="240.27" font-size="3.0" text-anchor="end" fill="#222">15000</text>
<line x1="285.50" y1="230.76" x2="286.80" y2="230.76" stroke="#222" stroke-width="0.45"/>
<text x="285.20" y="231.81" font-size="3.0" text-anchor="end" fill="#222">20000</text>
<line x1="285.50" y1="222.30" x2="286.80" y2="222.30" stroke="#222" stroke-width="0.45"/>
<text x="285.20" y="223.35" font-size="3.0" text-anchor="end" fill="#222">25000</text>
<line x1="291.65" y1="236.90" x2="291.65" y2="228.30" stroke="#1a1a1a" stroke-width="0.75"/>
<line x1="290.45" y1="228.30" x2="292.85" y2="228.30" stroke="#1a1a1a" stroke-width="0.75"/>
<rect x="288.90" y="237.20" width="5.50" height="27.40" fill="#fff" stroke="#2a2a2a" stroke-width="0.55"/>
<line x1="301.15" y1="245.90" x2="301.15" y2="241.50" stroke="#1a1a1a" stroke-width="0.75"/>
<line x1="299.95" y1="241.50" x2="302.35" y2="241.50" stroke="#1a1a1a" stroke-width="0.75"/>
<rect x="298.10" y="245.90" width="6.10" height="18.70" fill="#000"/>
<line x1="311.00" y1="255.40" x2="311.00" y2="253.80" stroke="#1a1a1a" stroke-width="0.75"/>
<line x1="309.80" y1="253.80" x2="312.20" y2="253.80" stroke="#1a1a1a" stroke-width="0.75"/>
<rect x="307.95" y="255.40" width="6.10" height="9.20" fill="#e5661e"/>
<line x1="291.65" y1="224.90" x2="311.00" y2="224.90" stroke="#111" stroke-width="0.75"/>
<text x="301.32" y="225.80" font-size="3.4" text-anchor="middle" fill="#444">**</text>
<text x="291.65" y="269.40" font-size="3.9" text-anchor="middle" fill="#111">C</text>
<text x="301.15" y="269.40" font-size="3.9" text-anchor="middle" fill="#111">I</text>
<text x="311.00" y="269.40" font-size="3.9" text-anchor="middle" fill="#111">N</text>
<text x="352.15" y="215.55" font-size="4.2" font-weight="bold" text-anchor="middle" fill="#000" stroke="#000" stroke-width="0.08">CD54 (n = 6)</text>
<text x="0" y="0" font-size="3.6" text-anchor="middle" fill="#111" transform="translate(324.70,242.40) rotate(-90)">MFI minus isotype MFI</text>
<line x1="337.00" y1="222.30" x2="337.00" y2="264.60" stroke="#222" stroke-width="0.55"/>
<line x1="337.00" y1="264.60" x2="365.85" y2="264.60" stroke="#222" stroke-width="0.55"/>
<line x1="335.70" y1="264.60" x2="337.00" y2="264.60" stroke="#222" stroke-width="0.45"/>
<text x="335.40" y="265.65" font-size="3.0" text-anchor="end" fill="#222">0</text>
<line x1="335.70" y1="254.03" x2="337.00" y2="254.03" stroke="#222" stroke-width="0.45"/>
<text x="335.40" y="255.08" font-size="3.0" text-anchor="end" fill="#222">2000</text>
<line x1="335.70" y1="243.45" x2="337.00" y2="243.45" stroke="#222" stroke-width="0.45"/>
<text x="335.40" y="244.50" font-size="3.0" text-anchor="end" fill="#222">4000</text>
<line x1="335.70" y1="232.88" x2="337.00" y2="232.88" stroke="#222" stroke-width="0.45"/>
<text x="335.40" y="233.93" font-size="3.0" text-anchor="end" fill="#222">6000</text>
<line x1="335.70" y1="222.30" x2="337.00" y2="222.30" stroke="#222" stroke-width="0.45"/>
<text x="335.40" y="223.35" font-size="3.0" text-anchor="end" fill="#222">8000</text>
<line x1="342.45" y1="252.20" x2="342.45" y2="248.30" stroke="#1a1a1a" stroke-width="0.75"/>
<line x1="341.25" y1="248.30" x2="343.65" y2="248.30" stroke="#1a1a1a" stroke-width="0.75"/>
<rect x="339.70" y="252.50" width="5.50" height="12.10" fill="#fff" stroke="#2a2a2a" stroke-width="0.55"/>
<line x1="352.15" y1="236.90" x2="352.15" y2="229.90" stroke="#1a1a1a" stroke-width="0.75"/>
<line x1="350.95" y1="229.90" x2="353.35" y2="229.90" stroke="#1a1a1a" stroke-width="0.75"/>
<rect x="349.10" y="236.90" width="6.10" height="27.70" fill="#000"/>
<line x1="362.05" y1="241.50" x2="362.05" y2="231.90" stroke="#1a1a1a" stroke-width="0.75"/>
<line x1="360.85" y1="231.90" x2="363.25" y2="231.90" stroke="#1a1a1a" stroke-width="0.75"/>
<rect x="359.00" y="241.50" width="6.10" height="23.10" fill="#e5661e"/>
<line x1="342.45" y1="223.50" x2="362.05" y2="223.50" stroke="#111" stroke-width="0.75"/>
<text x="352.25" y="224.40" font-size="3.4" text-anchor="middle" fill="#444">*</text>
<line x1="342.45" y1="226.30" x2="352.15" y2="226.30" stroke="#111" stroke-width="0.75"/>
<text x="347.30" y="227.20" font-size="3.4" text-anchor="middle" fill="#444">**</text>
<text x="342.45" y="269.40" font-size="3.9" text-anchor="middle" fill="#111">C</text>
<text x="352.15" y="269.40" font-size="3.9" text-anchor="middle" fill="#111">I</text>
<text x="362.05" y="269.40" font-size="3.9" text-anchor="middle" fill="#111">N</text>
<text x="402.45" y="215.55" font-size="4.2" font-weight="bold" text-anchor="middle" fill="#000" stroke="#000" stroke-width="0.08">CD62L (n = 5)</text>
<text x="0" y="0" font-size="3.6" text-anchor="middle" fill="#111" transform="translate(375.00,242.40) rotate(-90)">MFI minus isotype MFI</text>
<line x1="387.30" y1="222.30" x2="387.30" y2="264.60" stroke="#222" stroke-width="0.55"/>
<line x1="387.30" y1="264.60" x2="416.00" y2="264.60" stroke="#222" stroke-width="0.55"/>
<line x1="386.00" y1="264.60" x2="387.30" y2="264.60" stroke="#222" stroke-width="0.45"/>
<text x="385.70" y="265.65" font-size="3.0" text-anchor="end" fill="#222">0</text>
<line x1="386.00" y1="256.14" x2="387.30" y2="256.14" stroke="#222" stroke-width="0.45"/>
<text x="385.70" y="257.19" font-size="3.0" text-anchor="end" fill="#222">1000</text>
<line x1="386.00" y1="247.68" x2="387.30" y2="247.68" stroke="#222" stroke-width="0.45"/>
<text x="385.70" y="248.73" font-size="3.0" text-anchor="end" fill="#222">2000</text>
<line x1="386.00" y1="239.22" x2="387.30" y2="239.22" stroke="#222" stroke-width="0.45"/>
<text x="385.70" y="240.27" font-size="3.0" text-anchor="end" fill="#222">3000</text>
<line x1="386.00" y1="230.76" x2="387.30" y2="230.76" stroke="#222" stroke-width="0.45"/>
<text x="385.70" y="231.81" font-size="3.0" text-anchor="end" fill="#222">4000</text>
<line x1="386.00" y1="222.30" x2="387.30" y2="222.30" stroke="#222" stroke-width="0.45"/>
<text x="385.70" y="223.35" font-size="3.0" text-anchor="end" fill="#222">5000</text>
<line x1="392.60" y1="241.80" x2="392.60" y2="228.30" stroke="#1a1a1a" stroke-width="0.75"/>
<line x1="391.40" y1="228.30" x2="393.80" y2="228.30" stroke="#1a1a1a" stroke-width="0.75"/>
<rect x="389.85" y="242.10" width="5.50" height="22.50" fill="#fff" stroke="#2a2a2a" stroke-width="0.55"/>
<line x1="402.45" y1="258.10" x2="402.45" y2="253.40" stroke="#1a1a1a" stroke-width="0.75"/>
<line x1="401.25" y1="253.40" x2="403.65" y2="253.40" stroke="#1a1a1a" stroke-width="0.75"/>
<rect x="399.40" y="258.10" width="6.10" height="6.50" fill="#000"/>
<line x1="412.20" y1="259.30" x2="412.20" y2="255.80" stroke="#1a1a1a" stroke-width="0.75"/>
<line x1="411.00" y1="255.80" x2="413.40" y2="255.80" stroke="#1a1a1a" stroke-width="0.75"/>
<rect x="409.15" y="259.30" width="6.10" height="5.30" fill="#e5661e"/>
<line x1="392.60" y1="221.00" x2="412.20" y2="221.00" stroke="#111" stroke-width="0.75"/>
<text x="402.40" y="221.90" font-size="3.4" text-anchor="middle" fill="#444">*</text>
<line x1="392.60" y1="224.90" x2="402.45" y2="224.90" stroke="#111" stroke-width="0.75"/>
<text x="397.52" y="225.80" font-size="3.4" text-anchor="middle" fill="#444">*</text>
<text x="392.60" y="269.40" font-size="3.9" text-anchor="middle" fill="#111">C</text>
<text x="402.45" y="269.40" font-size="3.9" text-anchor="middle" fill="#111">I</text>
<text x="412.20" y="269.40" font-size="3.9" text-anchor="middle" fill="#111">N</text>
<text x="452.00" y="215.55" font-size="4.2" font-weight="bold" text-anchor="middle" fill="#000" stroke="#000" stroke-width="0.08">CD115 (n = 4)</text>
<text x="0" y="0" font-size="3.6" text-anchor="middle" fill="#111" transform="translate(424.70,242.40) rotate(-90)">MFI minus isotype MFI</text>
<line x1="437.00" y1="222.30" x2="437.00" y2="264.60" stroke="#222" stroke-width="0.55"/>
<line x1="437.00" y1="264.60" x2="465.95" y2="264.60" stroke="#222" stroke-width="0.55"/>
<line x1="435.70" y1="264.60" x2="437.00" y2="264.60" stroke="#222" stroke-width="0.45"/>
<text x="435.40" y="265.65" font-size="3.0" text-anchor="end" fill="#222">0</text>
<line x1="435.70" y1="250.50" x2="437.00" y2="250.50" stroke="#222" stroke-width="0.45"/>
<text x="435.40" y="251.55" font-size="3.0" text-anchor="end" fill="#222">500</text>
<line x1="435.70" y1="236.40" x2="437.00" y2="236.40" stroke="#222" stroke-width="0.45"/>
<text x="435.40" y="237.45" font-size="3.0" text-anchor="end" fill="#222">1000</text>
<line x1="435.70" y1="222.30" x2="437.00" y2="222.30" stroke="#222" stroke-width="0.45"/>
<text x="435.40" y="223.35" font-size="3.0" text-anchor="end" fill="#222">1500</text>
<line x1="442.55" y1="256.20" x2="442.55" y2="251.40" stroke="#1a1a1a" stroke-width="0.75"/>
<line x1="441.35" y1="251.40" x2="443.75" y2="251.40" stroke="#1a1a1a" stroke-width="0.75"/>
<rect x="439.80" y="256.50" width="5.50" height="8.10" fill="#fff" stroke="#2a2a2a" stroke-width="0.55"/>
<line x1="452.00" y1="251.40" x2="452.00" y2="245.50" stroke="#1a1a1a" stroke-width="0.75"/>
<line x1="450.80" y1="245.50" x2="453.20" y2="245.50" stroke="#1a1a1a" stroke-width="0.75"/>
<rect x="448.95" y="251.40" width="6.10" height="13.20" fill="#000"/>
<line x1="462.15" y1="240.30" x2="462.15" y2="234.90" stroke="#1a1a1a" stroke-width="0.75"/>
<line x1="460.95" y1="234.90" x2="463.35" y2="234.90" stroke="#1a1a1a" stroke-width="0.75"/>
<rect x="459.10" y="240.30" width="6.10" height="24.30" fill="#e5661e"/>
<line x1="442.55" y1="226.30" x2="462.15" y2="226.30" stroke="#111" stroke-width="0.75"/>
<text x="452.35" y="227.20" font-size="3.4" text-anchor="middle" fill="#444">****</text>
<line x1="452.00" y1="232.30" x2="462.15" y2="232.30" stroke="#111" stroke-width="0.75"/>
<text x="457.07" y="233.20" font-size="3.4" text-anchor="middle" fill="#444">*</text>
<text x="442.55" y="269.40" font-size="3.9" text-anchor="middle" fill="#111">C</text>
<text x="452.00" y="269.40" font-size="3.9" text-anchor="middle" fill="#111">I</text>
<text x="462.15" y="269.40" font-size="3.9" text-anchor="middle" fill="#111">N</text>
<text x="502.00" y="215.55" font-size="4.2" font-weight="bold" text-anchor="middle" fill="#000" stroke="#000" stroke-width="0.08">SLAN (n = 5)</text>
<text x="0" y="0" font-size="3.6" text-anchor="middle" fill="#111" transform="translate(475.00,242.40) rotate(-90)">MFI minus isotype MFI</text>
<line x1="487.30" y1="222.30" x2="487.30" y2="264.60" stroke="#222" stroke-width="0.55"/>
<line x1="487.30" y1="264.60" x2="515.55" y2="264.60" stroke="#222" stroke-width="0.55"/>
<line x1="486.00" y1="264.60" x2="487.30" y2="264.60" stroke="#222" stroke-width="0.45"/>
<text x="485.70" y="265.65" font-size="3.0" text-anchor="end" fill="#222">0</text>
<line x1="486.00" y1="254.03" x2="487.30" y2="254.03" stroke="#222" stroke-width="0.45"/>
<text x="485.70" y="255.08" font-size="3.0" text-anchor="end" fill="#222">50</text>
<line x1="486.00" y1="243.45" x2="487.30" y2="243.45" stroke="#222" stroke-width="0.45"/>
<text x="485.70" y="244.50" font-size="3.0" text-anchor="end" fill="#222">100</text>
<line x1="486.00" y1="232.88" x2="487.30" y2="232.88" stroke="#222" stroke-width="0.45"/>
<text x="485.70" y="233.93" font-size="3.0" text-anchor="end" fill="#222">150</text>
<line x1="486.00" y1="222.30" x2="487.30" y2="222.30" stroke="#222" stroke-width="0.45"/>
<text x="485.70" y="223.35" font-size="3.0" text-anchor="end" fill="#222">200</text>
<line x1="492.05" y1="257.40" x2="492.05" y2="253.40" stroke="#1a1a1a" stroke-width="0.75"/>
<line x1="490.85" y1="253.40" x2="493.25" y2="253.40" stroke="#1a1a1a" stroke-width="0.75"/>
<rect x="489.30" y="257.70" width="5.50" height="6.90" fill="#fff" stroke="#2a2a2a" stroke-width="0.55"/>
<line x1="502.00" y1="260.80" x2="502.00" y2="257.40" stroke="#1a1a1a" stroke-width="0.75"/>
<line x1="500.80" y1="257.40" x2="503.20" y2="257.40" stroke="#1a1a1a" stroke-width="0.75"/>
<rect x="498.95" y="260.80" width="6.10" height="3.80" fill="#000"/>
<line x1="511.75" y1="239.90" x2="511.75" y2="226.90" stroke="#1a1a1a" stroke-width="0.75"/>
<line x1="510.55" y1="226.90" x2="512.95" y2="226.90" stroke="#1a1a1a" stroke-width="0.75"/>
<rect x="508.70" y="239.90" width="6.10" height="24.70" fill="#e5661e"/>
<line x1="492.05" y1="221.00" x2="511.75" y2="221.00" stroke="#111" stroke-width="0.75"/>
<text x="501.90" y="221.90" font-size="3.4" text-anchor="middle" fill="#444">**</text>
<line x1="502.00" y1="225.50" x2="511.75" y2="225.50" stroke="#111" stroke-width="0.75"/>
<text x="506.88" y="226.40" font-size="3.4" text-anchor="middle" fill="#444">**</text>
<text x="492.05" y="269.40" font-size="3.9" text-anchor="middle" fill="#111">C</text>
<text x="502.00" y="269.40" font-size="3.9" text-anchor="middle" fill="#111">I</text>
<text x="511.75" y="269.40" font-size="3.9" text-anchor="middle" fill="#111">N</text>
</svg>
</body></html>
